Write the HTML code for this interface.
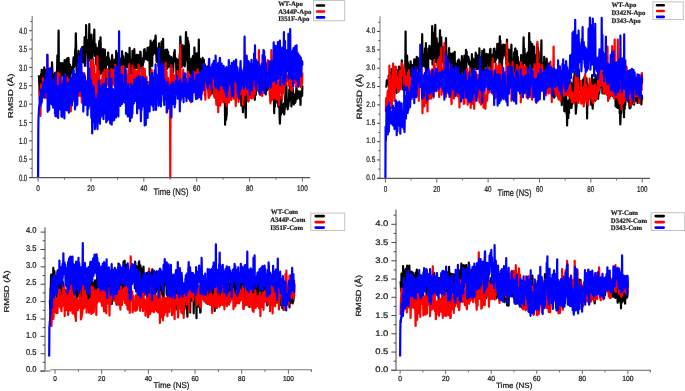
<!DOCTYPE html><html><head><meta charset="utf-8"><style>html,body{margin:0;padding:0;background:#fff;width:685px;height:391px;overflow:hidden}svg{display:block;text-rendering:geometricPrecision}</style></head><body>
<svg width="685" height="391" viewBox="0 0 685 391">
<rect width="685" height="391" fill="#fff"/>
<polyline fill="none" stroke="#000" stroke-width="2.2" stroke-linejoin="round" points="38.9,75.2 39.2,82.0 39.5,88.5 39.8,99.9 40.1,90.7 40.5,76.4 40.8,82.7 41.1,74.1 41.4,85.0 41.7,69.8 42.0,80.6 42.3,79.1 42.6,80.9 43.0,92.6 43.3,74.0 43.6,69.9 43.9,82.9 44.2,67.4 44.5,72.5 44.8,69.2 45.2,79.2 45.5,81.0 45.8,85.0 46.1,71.4 46.4,87.3 46.7,93.4 47.0,75.6 47.3,89.1 47.7,87.4 48.0,75.4 48.3,84.8 48.6,82.3 48.9,78.3 49.2,71.9 49.5,71.1 49.8,77.9 50.2,71.2 50.5,73.8 50.8,68.6 51.1,81.2 51.4,68.0 51.7,84.9 52.0,62.3 52.3,68.3 52.7,85.5 53.0,75.9 53.3,90.0 53.6,74.8 53.9,90.3 54.2,80.0 54.5,85.8 54.9,73.2 55.2,75.2 55.5,74.3 55.8,74.8 56.1,83.0 56.4,89.0 56.7,89.5 57.0,72.9 57.4,55.4 57.7,71.4 58.0,63.4 58.3,57.6 58.6,30.7 58.9,75.5 59.2,82.9 59.5,72.4 59.9,67.8 60.2,78.0 60.5,84.3 60.8,63.2 61.1,69.2 61.4,78.4 61.7,70.7 62.1,63.2 62.4,66.4 62.7,71.7 63.0,75.2 63.3,63.7 63.6,67.1 63.9,67.3 64.2,71.5 64.6,60.1 64.9,69.0 65.2,70.3 65.5,79.2 65.8,68.6 66.1,65.0 66.4,73.5 66.7,59.3 67.1,58.7 67.4,64.7 67.7,66.1 68.0,87.0 68.3,57.8 68.6,59.1 68.9,74.5 69.2,69.3 69.6,70.1 69.9,64.5 70.2,82.4 70.5,69.3 70.8,66.7 71.1,73.2 71.4,71.8 71.8,67.0 72.1,67.2 72.4,69.0 72.7,73.0 73.0,73.0 73.3,61.1 73.6,57.3 73.9,67.2 74.3,64.9 74.6,63.1 74.9,64.3 75.2,49.4 75.5,57.8 75.8,33.3 76.1,45.5 76.4,66.1 76.8,73.5 77.1,61.5 77.4,55.7 77.7,62.5 78.0,63.9 78.3,71.6 78.6,50.9 79.0,54.1 79.3,65.4 79.6,54.5 79.9,55.4 80.2,64.3 80.5,56.5 80.8,61.1 81.1,50.3 81.5,55.3 81.8,51.3 82.1,47.0 82.4,55.8 82.7,62.1 83.0,59.0 83.3,46.8 83.6,62.4 84.0,58.9 84.3,57.7 84.6,37.4 84.9,66.0 85.2,40.6 85.5,40.9 85.8,52.2 86.1,25.2 86.5,47.9 86.8,46.1 87.1,50.7 87.4,53.5 87.7,66.1 88.0,51.9 88.3,39.7 88.7,39.6 89.0,42.9 89.3,24.1 89.6,60.3 89.9,39.5 90.2,40.2 90.5,52.2 90.8,53.3 91.2,68.7 91.5,34.7 91.8,50.1 92.1,57.3 92.4,57.9 92.7,47.3 93.0,51.0 93.3,45.0 93.7,41.5 94.0,38.2 94.3,29.6 94.6,51.3 94.9,56.0 95.2,51.5 95.5,44.2 95.9,50.7 96.2,64.2 96.5,47.6 96.8,48.1 97.1,65.5 97.4,48.8 97.7,65.7 98.0,55.8 98.4,52.1 98.7,68.9 99.0,46.3 99.3,41.2 99.6,62.4 99.9,74.6 100.2,48.5 100.5,37.3 100.9,51.9 101.2,54.0 101.5,62.2 101.8,73.5 102.1,60.2 102.4,68.7 102.7,54.2 103.0,49.0 103.4,69.7 103.7,55.5 104.0,73.2 104.3,55.7 104.6,59.6 104.9,49.6 105.2,78.4 105.6,71.0 105.9,66.7 106.2,59.2 106.5,57.4 106.8,60.1 107.1,59.9 107.4,64.7 107.7,60.7 108.1,52.5 108.4,62.5 108.7,63.2 109.0,58.2 109.3,75.4 109.6,60.4 109.9,71.6 110.2,76.6 110.6,75.5 110.9,64.7 111.2,74.7 111.5,61.6 111.8,63.2 112.1,55.2 112.4,64.2 112.7,62.2 113.1,67.0 113.4,61.5 113.7,75.3 114.0,68.9 114.3,70.3 114.6,59.7 114.9,73.5 115.3,63.0 115.6,73.4 115.9,75.5 116.2,50.9 116.5,75.0 116.8,52.8 117.1,64.2 117.4,65.1 117.8,63.4 118.1,63.2 118.4,56.2 118.7,56.9 119.0,59.1 119.3,62.4 119.6,61.3 119.9,60.2 120.3,59.1 120.6,65.9 120.9,74.6 121.2,58.2 121.5,61.0 121.8,66.4 122.1,51.4 122.5,60.2 122.8,66.5 123.1,56.0 123.4,59.4 123.7,60.2 124.0,68.4 124.3,68.7 124.6,65.2 125.0,67.8 125.3,59.9 125.6,60.4 125.9,52.8 126.2,66.1 126.5,53.3 126.8,61.2 127.1,67.4 127.5,54.4 127.8,60.7 128.1,61.0 128.4,55.2 128.7,57.1 129.0,64.3 129.3,63.5 129.6,47.8 130.0,64.0 130.3,67.9 130.6,73.6 130.9,67.3 131.2,64.1 131.5,59.6 131.8,66.2 132.2,73.7 132.5,50.8 132.8,73.8 133.1,62.0 133.4,67.8 133.7,66.9 134.0,71.0 134.3,49.2 134.7,58.7 135.0,63.6 135.3,63.0 135.6,68.1 135.9,60.9 136.2,68.2 136.5,56.0 136.8,54.9 137.2,59.7 137.5,65.0 137.8,65.8 138.1,61.9 138.4,55.1 138.7,76.7 139.0,61.7 139.4,62.3 139.7,59.1 140.0,65.7 140.3,51.5 140.6,52.2 140.9,61.6 141.2,63.3 141.5,71.7 141.9,73.8 142.2,69.5 142.5,65.8 142.8,65.5 143.1,57.9 143.4,58.2 143.7,62.4 144.0,50.4 144.4,49.3 144.7,49.2 145.0,55.5 145.3,57.9 145.6,52.4 145.9,59.3 146.2,55.6 146.5,57.1 146.9,53.7 147.2,58.4 147.5,47.8 147.8,60.1 148.1,56.1 148.4,59.4 148.7,57.5 149.1,50.1 149.4,47.2 149.7,74.7 150.0,75.8 150.3,52.1 150.6,40.7 150.9,52.2 151.2,61.0 151.6,56.3 151.9,54.5 152.2,66.1 152.5,42.9 152.8,55.2 153.1,50.6 153.4,47.3 153.7,41.3 154.1,40.5 154.4,53.3 154.7,47.9 155.0,52.5 155.3,40.1 155.6,35.5 155.9,45.1 156.3,54.6 156.6,61.8 156.9,55.4 157.2,58.6 157.5,51.7 157.8,49.6 158.1,48.2 158.4,66.0 158.8,47.7 159.1,43.3 159.4,64.3 159.7,56.8 160.0,55.1 160.3,55.1 160.6,49.2 160.9,66.1 161.3,51.2 161.6,41.6 161.9,57.1 162.2,65.0 162.5,63.7 162.8,57.1 163.1,38.8 163.4,70.5 163.8,56.9 164.1,58.7 164.4,50.8 164.7,54.0 165.0,73.9 165.3,50.6 165.6,49.8 166.0,52.0 166.3,56.4 166.6,69.3 166.9,66.9 167.2,49.5 167.5,60.2 167.8,62.9 168.1,51.8 168.5,67.2 168.8,60.5 169.1,63.1 169.4,55.8 169.7,57.6 170.0,66.1 170.3,61.2 170.6,58.1 171.0,67.6 171.3,57.1 171.6,63.4 171.9,68.3 172.2,70.4 172.5,72.3 172.8,65.7 173.2,72.6 173.5,58.1 173.8,59.2 174.1,52.5 174.4,54.4 174.7,50.2 175.0,61.0 175.3,61.1 175.7,62.0 176.0,58.4 176.3,69.8 176.6,78.0 176.9,74.1 177.2,65.8 177.5,77.8 177.8,59.6 178.2,63.3 178.5,59.9 178.8,76.8 179.1,66.5 179.4,63.6 179.7,54.0 180.0,58.4 180.3,36.6 180.7,44.2 181.0,54.7 181.3,54.1 181.6,66.9 181.9,65.6 182.2,59.1 182.5,45.1 182.9,62.0 183.2,56.8 183.5,60.7 183.8,65.4 184.1,56.9 184.4,46.2 184.7,66.5 185.0,63.7 185.4,60.5 185.7,45.6 186.0,32.2 186.3,52.2 186.6,54.7 186.9,55.0 187.2,58.9 187.5,37.8 187.9,75.4 188.2,41.0 188.5,61.2 188.8,44.1 189.1,59.0 189.4,61.6 189.7,73.3 190.0,68.7 190.4,68.3 190.7,75.3 191.0,62.3 191.3,58.8 191.6,60.9 191.9,71.5 192.2,73.3 192.6,61.2 192.9,56.2 193.2,81.7 193.5,70.7 193.8,79.5 194.1,72.1 194.4,47.5 194.7,53.6 195.1,82.1 195.4,67.8 195.7,62.3 196.0,74.5 196.3,64.1 196.6,76.2 196.9,53.3 197.2,72.9 197.6,72.5 197.9,57.4 198.2,66.4 198.5,62.6 198.8,39.5 199.1,66.5 199.4,71.0 199.8,71.3 200.1,58.9 200.4,77.7 200.7,60.1 201.0,62.5 201.3,75.8 201.6,82.4 201.9,68.2 202.3,61.3 202.6,57.8 202.9,63.6 203.2,61.9 203.5,75.4 203.8,59.9 204.1,66.4 204.4,89.0 204.8,64.4 205.1,86.2 205.4,72.4 205.7,75.8 206.0,86.9 206.3,84.6 206.6,75.0 206.9,68.0 207.3,66.3 207.6,71.0 207.9,84.3 208.2,77.2 208.5,91.0 208.8,92.2 209.1,81.0 209.5,77.8 209.8,79.1 210.1,80.0 210.4,80.6 210.7,68.6 211.0,78.3 211.3,70.9 211.6,76.0 212.0,93.6 212.3,66.8 212.6,76.4 212.9,70.0 213.2,76.0 213.5,78.5 213.8,62.1 214.1,71.8 214.5,96.5 214.8,82.6 215.1,82.8 215.4,77.0 215.7,90.9 216.0,94.7 216.3,84.3 216.7,101.2 217.0,89.4 217.3,78.4 217.6,92.0 217.9,94.2 218.2,85.9 218.5,104.6 218.8,94.6 219.2,103.4 219.5,95.3 219.8,100.6 220.1,75.9 220.4,74.9 220.7,93.6 221.0,90.4 221.3,74.1 221.7,97.5 222.0,97.2 222.3,97.4 222.6,93.5 222.9,99.2 223.2,101.8 223.5,93.7 223.8,88.7 224.2,97.3 224.5,101.6 224.8,90.3 225.1,124.7 225.4,87.7 225.7,111.5 226.0,120.0 226.4,116.2 226.7,114.9 227.0,83.6 227.3,94.1 227.6,94.7 227.9,93.8 228.2,90.4 228.5,93.5 228.9,73.8 229.2,75.6 229.5,89.3 229.8,85.9 230.1,90.5 230.4,86.5 230.7,81.1 231.0,81.5 231.4,83.2 231.7,90.3 232.0,91.9 232.3,86.4 232.6,95.3 232.9,76.7 233.2,74.9 233.6,83.5 233.9,88.1 234.2,94.6 234.5,74.2 234.8,93.6 235.1,89.3 235.4,87.8 235.7,89.7 236.1,84.3 236.4,90.1 236.7,75.1 237.0,71.8 237.3,92.6 237.6,91.4 237.9,90.4 238.2,88.1 238.6,88.5 238.9,86.0 239.2,97.3 239.5,83.9 239.8,88.5 240.1,99.3 240.4,94.0 240.7,83.0 241.1,98.4 241.4,105.7 241.7,98.8 242.0,85.3 242.3,73.6 242.6,104.5 242.9,112.2 243.3,98.7 243.6,97.7 243.9,102.3 244.2,99.4 244.5,83.3 244.8,91.4 245.1,96.6 245.4,109.0 245.8,117.7 246.1,78.8 246.4,91.4 246.7,100.7 247.0,95.7 247.3,90.1 247.6,90.6 247.9,86.0 248.3,101.1 248.6,94.6 248.9,78.1 249.2,97.0 249.5,93.9 249.8,94.3 250.1,80.7 250.4,92.7 250.8,86.8 251.1,94.5 251.4,83.7 251.7,82.3 252.0,79.4 252.3,82.9 252.6,96.7 253.0,82.4 253.3,86.9 253.6,91.0 253.9,93.4 254.2,75.4 254.5,80.5 254.8,99.8 255.1,71.4 255.5,81.7 255.8,95.0 256.1,90.6 256.4,86.6 256.7,90.8 257.0,68.7 257.3,70.0 257.6,76.7 258.0,72.4 258.3,76.2 258.6,70.6 258.9,65.1 259.2,92.3 259.5,79.4 259.8,86.5 260.2,91.4 260.5,78.7 260.8,79.1 261.1,75.7 261.4,82.2 261.7,80.4 262.0,73.9 262.3,71.3 262.7,89.7 263.0,77.9 263.3,66.4 263.6,81.6 263.9,78.1 264.2,72.1 264.5,85.7 264.8,77.3 265.2,63.8 265.5,75.2 265.8,94.4 266.1,85.5 266.4,80.5 266.7,79.9 267.0,90.3 267.3,68.4 267.7,83.0 268.0,88.5 268.3,71.7 268.6,85.6 268.9,86.2 269.2,83.9 269.5,81.1 269.9,95.7 270.2,81.4 270.5,74.2 270.8,98.6 271.1,88.7 271.4,100.3 271.7,92.0 272.0,92.8 272.4,92.8 272.7,90.2 273.0,96.7 273.3,94.8 273.6,86.0 273.9,98.7 274.2,113.2 274.5,93.2 274.9,106.6 275.2,99.1 275.5,103.3 275.8,90.5 276.1,79.4 276.4,96.2 276.7,101.3 277.1,94.2 277.4,90.8 277.7,98.0 278.0,100.5 278.3,106.8 278.6,106.8 278.9,92.5 279.2,100.4 279.6,115.7 279.9,123.6 280.2,114.4 280.5,112.2 280.8,114.8 281.1,102.0 281.4,96.8 281.7,112.9 282.1,107.6 282.4,107.5 282.7,112.1 283.0,110.8 283.3,105.0 283.6,107.8 283.9,103.7 284.2,114.4 284.6,109.2 284.9,107.5 285.2,98.5 285.5,91.2 285.8,87.9 286.1,106.4 286.4,85.5 286.8,102.5 287.1,102.2 287.4,100.0 287.7,109.3 288.0,104.5 288.3,106.3 288.6,100.6 288.9,101.8 289.3,89.6 289.6,95.7 289.9,85.7 290.2,98.9 290.5,98.9 290.8,89.7 291.1,96.3 291.4,106.5 291.8,103.0 292.1,96.8 292.4,98.3 292.7,88.5 293.0,90.3 293.3,96.1 293.6,95.6 294.0,104.4 294.3,94.6 294.6,94.6 294.9,94.6 295.2,102.8 295.5,101.8 295.8,96.3 296.1,93.7 296.5,85.6 296.8,96.8 297.1,94.0 297.4,98.7 297.7,97.9 298.0,91.3 298.3,93.0 298.6,91.3 299.0,97.4 299.3,93.0 299.6,91.8 299.9,99.1 300.2,92.9 300.5,104.9 300.8,91.6 301.1,92.4 301.5,91.4 301.8,93.3 302.1,95.8 302.4,85.5"/>
<polyline fill="none" stroke="#f00" stroke-width="2.2" stroke-linejoin="round" points="38.9,91.4 39.2,91.8 39.5,92.4 39.8,95.2 40.1,106.3 40.5,115.9 40.8,94.6 41.1,84.5 41.4,91.2 41.7,87.0 42.0,86.9 42.3,94.1 42.6,85.2 43.0,78.4 43.3,86.0 43.6,81.2 43.9,88.4 44.2,83.6 44.5,85.7 44.8,81.6 45.2,84.6 45.5,98.1 45.8,83.3 46.1,78.4 46.4,97.7 46.7,73.9 47.0,82.0 47.3,54.9 47.7,90.3 48.0,78.4 48.3,105.3 48.6,77.9 48.9,100.6 49.2,89.7 49.5,84.2 49.8,96.1 50.2,84.4 50.5,92.2 50.8,83.6 51.1,87.1 51.4,83.6 51.7,98.6 52.0,92.6 52.3,100.8 52.7,81.3 53.0,91.2 53.3,92.3 53.6,86.1 53.9,90.2 54.2,85.1 54.5,88.1 54.9,81.1 55.2,94.7 55.5,81.7 55.8,83.6 56.1,88.4 56.4,74.3 56.7,77.8 57.0,78.4 57.4,84.3 57.7,80.3 58.0,72.9 58.3,84.1 58.6,97.0 58.9,81.2 59.2,91.2 59.5,73.8 59.9,83.0 60.2,78.1 60.5,85.4 60.8,77.2 61.1,102.1 61.4,86.9 61.7,97.3 62.1,80.2 62.4,81.5 62.7,84.5 63.0,83.0 63.3,96.9 63.6,85.0 63.9,101.1 64.2,102.4 64.6,90.4 64.9,86.7 65.2,91.8 65.5,92.2 65.8,82.7 66.1,103.0 66.4,94.6 66.7,91.7 67.1,77.4 67.4,83.2 67.7,78.7 68.0,103.0 68.3,87.1 68.6,88.4 68.9,101.0 69.2,89.7 69.6,80.2 69.9,109.2 70.2,107.2 70.5,101.4 70.8,111.5 71.1,101.2 71.4,81.1 71.8,93.2 72.1,84.0 72.4,100.8 72.7,90.7 73.0,100.8 73.3,86.2 73.6,76.8 73.9,101.2 74.3,88.8 74.6,80.0 74.9,91.2 75.2,82.8 75.5,91.4 75.8,99.2 76.1,91.3 76.4,80.2 76.8,75.5 77.1,86.5 77.4,90.6 77.7,74.9 78.0,94.3 78.3,79.2 78.6,95.7 79.0,72.6 79.3,82.5 79.6,87.9 79.9,88.8 80.2,95.8 80.5,95.0 80.8,74.3 81.1,88.1 81.5,91.8 81.8,102.7 82.1,75.9 82.4,92.1 82.7,95.6 83.0,94.7 83.3,83.0 83.6,86.6 84.0,84.8 84.3,73.2 84.6,90.6 84.9,98.5 85.2,102.3 85.5,88.7 85.8,93.7 86.1,90.4 86.5,90.0 86.8,95.0 87.1,95.9 87.4,87.7 87.7,82.2 88.0,77.9 88.3,96.6 88.7,104.6 89.0,83.0 89.3,98.4 89.6,86.4 89.9,88.5 90.2,87.7 90.5,70.6 90.8,60.1 91.2,84.1 91.5,88.5 91.8,87.3 92.1,88.7 92.4,85.5 92.7,95.5 93.0,81.9 93.3,59.1 93.7,82.3 94.0,81.5 94.3,65.3 94.6,95.1 94.9,85.2 95.2,94.4 95.5,85.0 95.9,101.9 96.2,73.8 96.5,73.9 96.8,103.2 97.1,79.3 97.4,56.4 97.7,73.7 98.0,76.3 98.4,92.9 98.7,82.2 99.0,71.8 99.3,82.2 99.6,88.2 99.9,88.0 100.2,80.2 100.5,82.0 100.9,80.4 101.2,92.5 101.5,100.7 101.8,89.3 102.1,93.3 102.4,76.2 102.7,81.6 103.0,72.7 103.4,75.3 103.7,84.7 104.0,86.3 104.3,77.6 104.6,69.9 104.9,88.0 105.2,95.8 105.6,78.0 105.9,82.7 106.2,83.0 106.5,83.8 106.8,84.0 107.1,74.5 107.4,69.3 107.7,76.8 108.1,73.7 108.4,85.5 108.7,74.1 109.0,71.0 109.3,86.4 109.6,89.4 109.9,72.5 110.2,75.7 110.6,85.7 110.9,93.4 111.2,92.7 111.5,69.2 111.8,83.2 112.1,73.2 112.4,72.8 112.7,83.4 113.1,75.0 113.4,84.0 113.7,69.9 114.0,75.6 114.3,85.7 114.6,83.8 114.9,75.6 115.3,64.8 115.6,96.8 115.9,90.3 116.2,75.3 116.5,87.4 116.8,86.2 117.1,94.1 117.4,87.2 117.8,78.9 118.1,89.4 118.4,79.5 118.7,79.8 119.0,82.1 119.3,67.1 119.6,75.6 119.9,79.8 120.3,83.5 120.6,84.1 120.9,80.3 121.2,80.3 121.5,78.8 121.8,66.9 122.1,81.6 122.5,73.7 122.8,69.4 123.1,86.5 123.4,66.1 123.7,78.9 124.0,80.1 124.3,90.0 124.6,72.7 125.0,84.4 125.3,89.8 125.6,91.1 125.9,94.7 126.2,85.7 126.5,76.3 126.8,75.9 127.1,75.3 127.5,80.0 127.8,80.2 128.1,87.6 128.4,70.2 128.7,81.2 129.0,74.5 129.3,64.2 129.6,78.5 130.0,82.3 130.3,86.8 130.6,82.9 130.9,76.3 131.2,77.7 131.5,79.3 131.8,101.8 132.2,87.3 132.5,65.7 132.8,88.8 133.1,90.7 133.4,71.2 133.7,70.4 134.0,82.2 134.3,69.6 134.7,80.3 135.0,73.9 135.3,85.5 135.6,74.9 135.9,71.1 136.2,75.6 136.5,76.6 136.8,81.0 137.2,71.1 137.5,91.4 137.8,79.3 138.1,90.5 138.4,70.2 138.7,64.7 139.0,88.7 139.4,75.2 139.7,88.0 140.0,78.0 140.3,82.4 140.6,95.9 140.9,92.1 141.2,76.4 141.5,73.1 141.9,77.8 142.2,68.2 142.5,75.6 142.8,67.4 143.1,80.0 143.4,69.5 143.7,96.4 144.0,80.6 144.4,80.3 144.7,68.8 145.0,75.7 145.3,93.5 145.6,91.6 145.9,85.0 146.2,86.3 146.5,76.8 146.9,88.4 147.2,98.9 147.5,81.7 147.8,92.3 148.1,87.4 148.4,82.4 148.7,83.4 149.1,90.6 149.4,87.1 149.7,95.7 150.0,84.2 150.3,97.9 150.6,84.1 150.9,83.3 151.2,76.3 151.6,69.7 151.9,75.4 152.2,83.1 152.5,93.9 152.8,90.3 153.1,86.8 153.4,90.5 153.7,96.2 154.1,87.9 154.4,89.1 154.7,84.3 155.0,88.7 155.3,70.5 155.6,74.4 155.9,85.7 156.3,77.7 156.6,81.0 156.9,75.9 157.2,97.0 157.5,100.0 157.8,81.2 158.1,98.7 158.4,89.9 158.8,89.1 159.1,70.0 159.4,87.2 159.7,80.5 160.0,91.0 160.3,80.4 160.6,89.4 160.9,82.0 161.3,84.6 161.6,86.7 161.9,85.3 162.2,89.2 162.5,77.3 162.8,78.2 163.1,80.4 163.4,71.6 163.8,76.6 164.1,94.0 164.4,67.9 164.7,72.1 165.0,72.7 165.3,74.6 165.6,62.8 166.0,75.7 166.3,86.5 166.6,71.9 166.9,82.9 167.2,94.6 167.5,91.1 167.8,87.2 168.1,78.1 168.5,87.5 168.8,81.5 169.1,85.2 169.4,83.9 169.7,91.3 170.0,98.9 170.3,177.5 170.6,68.5 171.0,86.1 171.3,65.4 171.6,80.4 171.9,68.3 172.2,72.3 172.5,72.2 172.8,79.0 173.2,96.2 173.5,85.9 173.8,82.8 174.1,89.7 174.4,75.1 174.7,79.5 175.0,79.8 175.3,82.5 175.7,80.5 176.0,82.3 176.3,90.9 176.6,87.6 176.9,85.1 177.2,94.7 177.5,71.2 177.8,75.7 178.2,73.8 178.5,86.1 178.8,88.3 179.1,93.7 179.4,80.7 179.7,78.0 180.0,86.2 180.3,44.6 180.7,76.3 181.0,91.0 181.3,88.2 181.6,98.8 181.9,82.5 182.2,89.0 182.5,85.7 182.9,91.3 183.2,69.7 183.5,78.5 183.8,84.8 184.1,89.5 184.4,88.7 184.7,74.7 185.0,90.3 185.4,90.8 185.7,90.5 186.0,86.1 186.3,96.4 186.6,96.2 186.9,97.9 187.2,93.7 187.5,91.7 187.9,71.8 188.2,84.2 188.5,73.3 188.8,92.3 189.1,93.9 189.4,87.4 189.7,89.6 190.0,88.5 190.4,75.9 190.7,88.3 191.0,102.3 191.3,94.7 191.6,77.7 191.9,81.3 192.2,88.1 192.6,88.4 192.9,93.1 193.2,90.0 193.5,90.7 193.8,79.1 194.1,84.3 194.4,72.2 194.7,80.2 195.1,90.7 195.4,82.7 195.7,96.4 196.0,78.6 196.3,96.2 196.6,72.5 196.9,90.2 197.2,83.0 197.6,69.4 197.9,97.9 198.2,81.7 198.5,79.1 198.8,90.0 199.1,81.8 199.4,88.0 199.8,93.1 200.1,74.7 200.4,96.6 200.7,78.4 201.0,96.3 201.3,72.5 201.6,93.9 201.9,83.2 202.3,71.7 202.6,75.3 202.9,90.1 203.2,89.5 203.5,75.7 203.8,85.9 204.1,78.3 204.4,78.4 204.8,96.0 205.1,72.8 205.4,99.7 205.7,83.5 206.0,76.3 206.3,73.8 206.6,85.7 206.9,85.7 207.3,86.4 207.6,81.6 207.9,76.9 208.2,86.3 208.5,95.1 208.8,97.9 209.1,97.7 209.5,83.7 209.8,84.5 210.1,74.0 210.4,95.4 210.7,83.8 211.0,83.1 211.3,87.9 211.6,78.4 212.0,81.1 212.3,78.1 212.6,84.8 212.9,81.5 213.2,86.9 213.5,81.1 213.8,85.1 214.1,73.5 214.5,97.7 214.8,91.0 215.1,96.1 215.4,74.1 215.7,73.8 216.0,85.1 216.3,104.8 216.7,80.6 217.0,86.9 217.3,102.8 217.6,105.0 217.9,84.0 218.2,112.2 218.5,84.0 218.8,84.2 219.2,92.8 219.5,96.7 219.8,86.6 220.1,105.6 220.4,95.0 220.7,103.3 221.0,92.1 221.3,83.8 221.7,89.9 222.0,74.4 222.3,98.5 222.6,90.1 222.9,97.2 223.2,102.2 223.5,102.3 223.8,98.3 224.2,92.4 224.5,100.5 224.8,73.9 225.1,101.7 225.4,98.9 225.7,94.9 226.0,80.0 226.4,96.6 226.7,106.1 227.0,82.4 227.3,78.4 227.6,98.3 227.9,102.5 228.2,89.0 228.5,91.7 228.9,102.3 229.2,100.2 229.5,94.0 229.8,80.3 230.1,81.3 230.4,99.2 230.7,84.8 231.0,91.7 231.4,100.0 231.7,92.6 232.0,95.3 232.3,84.3 232.6,89.3 232.9,84.1 233.2,80.7 233.6,89.9 233.9,98.6 234.2,74.2 234.5,83.0 234.8,75.6 235.1,80.3 235.4,90.1 235.7,106.1 236.1,97.8 236.4,96.1 236.7,85.0 237.0,84.5 237.3,93.4 237.6,95.6 237.9,76.8 238.2,87.2 238.6,101.9 238.9,86.6 239.2,97.8 239.5,95.6 239.8,70.9 240.1,86.3 240.4,90.5 240.7,84.9 241.1,70.1 241.4,76.1 241.7,93.7 242.0,77.2 242.3,74.5 242.6,81.3 242.9,105.1 243.3,103.2 243.6,87.3 243.9,67.7 244.2,68.0 244.5,93.2 244.8,78.6 245.1,95.3 245.4,74.9 245.8,65.6 246.1,74.8 246.4,56.8 246.7,78.2 247.0,89.7 247.3,93.7 247.6,89.9 247.9,86.2 248.3,101.5 248.6,92.9 248.9,78.7 249.2,77.8 249.5,74.8 249.8,98.0 250.1,92.7 250.4,77.5 250.8,95.5 251.1,87.1 251.4,86.3 251.7,98.4 252.0,78.0 252.3,94.9 252.6,90.9 253.0,63.6 253.3,85.3 253.6,97.8 253.9,84.4 254.2,76.8 254.5,76.3 254.8,93.9 255.1,81.8 255.5,75.1 255.8,64.8 256.1,73.3 256.4,67.7 256.7,86.2 257.0,64.5 257.3,79.9 257.6,65.1 258.0,84.8 258.3,89.9 258.6,71.4 258.9,50.2 259.2,64.4 259.5,76.4 259.8,84.2 260.2,66.4 260.5,85.7 260.8,95.1 261.1,66.5 261.4,83.4 261.7,73.6 262.0,82.9 262.3,96.0 262.7,62.6 263.0,61.8 263.3,61.6 263.6,85.6 263.9,78.5 264.2,77.8 264.5,72.0 264.8,68.8 265.2,64.5 265.5,62.6 265.8,74.8 266.1,64.9 266.4,76.4 266.7,67.0 267.0,85.4 267.3,79.1 267.7,60.0 268.0,81.8 268.3,60.8 268.6,84.7 268.9,74.7 269.2,74.3 269.5,71.4 269.9,61.6 270.2,100.9 270.5,103.4 270.8,79.0 271.1,72.6 271.4,50.2 271.7,78.9 272.0,99.2 272.4,91.9 272.7,80.0 273.0,98.1 273.3,86.3 273.6,86.0 273.9,89.1 274.2,98.6 274.5,74.1 274.9,80.2 275.2,72.1 275.5,83.2 275.8,88.8 276.1,85.3 276.4,99.3 276.7,99.6 277.1,84.0 277.4,66.0 277.7,89.9 278.0,97.4 278.3,98.1 278.6,82.3 278.9,104.9 279.2,90.6 279.6,88.0 279.9,84.7 280.2,73.1 280.5,79.9 280.8,92.5 281.1,91.7 281.4,81.9 281.7,97.1 282.1,99.6 282.4,87.0 282.7,77.6 283.0,73.4 283.3,86.4 283.6,93.1 283.9,86.4 284.2,87.2 284.6,80.4 284.9,78.3 285.2,82.2 285.5,71.7 285.8,84.6 286.1,80.8 286.4,81.2 286.8,78.3 287.1,80.4 287.4,76.0 287.7,80.6 288.0,75.2 288.3,76.1 288.6,85.6 288.9,84.0 289.3,78.3 289.6,84.5 289.9,69.5 290.2,68.3 290.5,72.5 290.8,89.3 291.1,70.2 291.4,82.3 291.8,84.8 292.1,90.7 292.4,85.9 292.7,75.4 293.0,69.9 293.3,77.4 293.6,79.6 294.0,64.9 294.3,73.2 294.6,77.3 294.9,83.0 295.2,70.6 295.5,77.0 295.8,76.2 296.1,75.8 296.5,86.6 296.8,74.1 297.1,77.6 297.4,74.6 297.7,75.4 298.0,83.5 298.3,85.2 298.6,76.9 299.0,81.0 299.3,80.3 299.6,79.6 299.9,83.2 300.2,80.1 300.5,74.8 300.8,75.3 301.1,87.5 301.5,81.6 301.8,83.9 302.1,84.0 302.4,72.4"/>
<polyline fill="none" stroke="#00f" stroke-width="2.2" stroke-linejoin="round" points="38.1,177.5 38.3,130.6 38.5,117.7 38.8,113.7 39.0,108.4 39.2,106.6 39.4,105.1 39.7,103.1 39.9,97.8 40.1,96.5 40.3,99.2 40.5,105.5 40.8,97.1 41.0,89.5 41.2,103.9 41.4,99.1 41.7,102.4 41.9,98.6 42.1,98.8 42.3,94.9 42.5,89.1 42.8,97.2 43.0,86.9 43.2,96.0 43.4,82.5 43.7,84.8 43.9,91.1 44.1,88.6 44.3,97.4 44.6,81.4 44.8,85.1 45.0,85.5 45.2,79.2 45.4,92.0 45.7,88.0 45.9,88.9 46.1,86.1 46.3,74.6 46.6,79.8 46.8,79.9 47.0,83.3 47.2,86.2 47.4,54.9 47.7,111.8 47.9,80.8 48.1,75.8 48.3,68.6 48.6,81.9 48.8,74.2 49.0,79.4 49.2,110.1 49.4,80.7 49.7,84.8 49.9,85.8 50.1,85.0 50.3,68.2 50.6,71.7 50.8,82.8 51.0,103.7 51.2,79.4 51.4,89.3 51.7,80.8 51.9,86.2 52.1,104.7 52.3,83.0 52.6,89.8 52.8,95.2 53.0,100.2 53.2,107.6 53.5,91.3 53.7,104.3 53.9,86.0 54.1,103.0 54.3,79.1 54.6,107.0 54.8,100.0 55.0,113.4 55.2,105.7 55.5,116.2 55.7,72.5 55.9,93.4 56.1,98.5 56.3,116.1 56.6,104.2 56.8,86.4 57.0,103.4 57.2,98.4 57.5,112.8 57.7,104.7 57.9,86.0 58.1,118.0 58.3,102.1 58.6,106.9 58.8,104.8 59.0,106.8 59.2,104.9 59.5,109.5 59.7,103.6 59.9,82.7 60.1,77.2 60.3,90.1 60.6,87.3 60.8,93.6 61.0,100.1 61.2,95.6 61.5,116.6 61.7,104.3 61.9,85.8 62.1,116.9 62.3,95.9 62.6,103.0 62.8,83.9 63.0,106.4 63.2,89.2 63.5,92.8 63.7,76.2 63.9,92.7 64.1,88.9 64.4,118.5 64.6,82.8 64.8,89.3 65.0,110.0 65.2,82.4 65.5,74.7 65.7,97.5 65.9,86.1 66.1,87.5 66.4,88.2 66.6,96.6 66.8,110.3 67.0,97.2 67.2,83.1 67.5,97.3 67.7,102.8 67.9,83.4 68.1,106.9 68.4,84.9 68.6,82.8 68.8,112.7 69.0,109.2 69.2,87.2 69.5,100.7 69.7,102.1 69.9,81.0 70.1,87.5 70.4,85.2 70.6,77.7 70.8,104.8 71.0,79.2 71.2,87.3 71.5,87.6 71.7,79.6 71.9,105.5 72.1,83.9 72.4,85.0 72.6,98.9 72.8,74.3 73.0,71.0 73.3,75.8 73.5,88.3 73.7,70.1 73.9,98.6 74.1,89.5 74.4,94.2 74.6,84.1 74.8,74.2 75.0,109.4 75.3,104.4 75.5,81.6 75.7,87.6 75.9,74.0 76.1,91.2 76.4,81.9 76.6,105.5 76.8,87.9 77.0,91.6 77.3,104.8 77.5,91.4 77.7,75.6 77.9,75.1 78.1,62.9 78.4,74.7 78.6,67.7 78.8,56.4 79.0,75.2 79.3,65.4 79.5,91.4 79.7,70.2 79.9,69.6 80.1,64.6 80.4,71.2 80.6,83.2 80.8,70.3 81.0,64.1 81.3,48.7 81.5,82.3 81.7,92.3 81.9,76.7 82.2,96.3 82.4,72.7 82.6,84.9 82.8,88.5 83.0,86.0 83.3,111.6 83.5,102.7 83.7,94.0 83.9,102.1 84.2,74.6 84.4,103.7 84.6,80.0 84.8,101.3 85.0,76.6 85.3,104.8 85.5,103.0 85.7,94.8 85.9,81.0 86.2,92.1 86.4,100.7 86.6,84.8 86.8,94.3 87.0,100.7 87.3,98.6 87.5,115.2 87.7,94.2 87.9,103.8 88.2,59.4 88.4,108.8 88.6,96.5 88.8,100.3 89.0,77.0 89.3,68.5 89.5,85.7 89.7,105.6 89.9,98.0 90.2,78.3 90.4,78.4 90.6,86.3 90.8,102.8 91.0,80.9 91.3,117.7 91.5,87.3 91.7,112.4 91.9,90.1 92.2,133.5 92.4,85.1 92.6,116.7 92.8,90.1 93.1,105.8 93.3,116.3 93.5,121.9 93.7,108.3 93.9,87.1 94.2,110.5 94.4,94.6 94.6,116.2 94.8,129.2 95.1,126.8 95.3,100.0 95.5,120.3 95.7,106.2 95.9,114.5 96.2,113.2 96.4,114.7 96.6,98.9 96.8,120.1 97.1,112.7 97.3,120.6 97.5,129.1 97.7,105.2 97.9,94.6 98.2,107.9 98.4,114.4 98.6,117.9 98.8,80.6 99.1,97.9 99.3,96.3 99.5,121.0 99.7,97.0 99.9,123.8 100.2,98.6 100.4,110.5 100.6,86.3 100.8,117.0 101.1,100.3 101.3,100.9 101.5,109.4 101.7,112.3 102.0,106.2 102.2,112.4 102.4,111.5 102.6,101.8 102.8,84.2 103.1,116.1 103.3,115.9 103.5,119.2 103.7,93.5 104.0,86.8 104.2,106.8 104.4,84.3 104.6,102.8 104.8,111.0 105.1,105.8 105.3,85.8 105.5,90.8 105.7,114.0 106.0,78.7 106.2,122.2 106.4,103.9 106.6,114.3 106.8,114.6 107.1,104.6 107.3,90.7 107.5,120.6 107.7,89.1 108.0,108.7 108.2,113.9 108.4,101.8 108.6,119.1 108.8,101.2 109.1,116.1 109.3,102.6 109.5,72.2 109.7,119.3 110.0,103.9 110.2,123.5 110.4,113.3 110.6,110.8 110.8,121.1 111.1,97.8 111.3,104.5 111.5,78.8 111.7,124.6 112.0,113.6 112.2,115.9 112.4,102.9 112.6,104.8 112.9,89.2 113.1,105.1 113.3,103.6 113.5,120.5 113.7,105.4 114.0,110.1 114.2,119.9 114.4,103.0 114.6,94.1 114.9,90.3 115.1,96.2 115.3,89.3 115.5,66.8 115.7,104.8 116.0,117.4 116.2,108.6 116.4,87.8 116.6,72.5 116.9,76.7 117.1,98.5 117.3,67.8 117.5,106.7 117.7,80.8 118.0,115.7 118.2,100.3 118.4,116.5 118.6,76.3 118.9,64.1 119.1,31.4 119.3,84.9 119.5,65.9 119.7,79.3 120.0,98.2 120.2,80.5 120.4,106.0 120.6,80.4 120.9,98.5 121.1,74.7 121.3,102.2 121.5,93.9 121.8,94.7 122.0,104.0 122.2,75.1 122.4,93.6 122.6,94.7 122.9,93.5 123.1,84.4 123.3,87.0 123.5,98.2 123.8,92.0 124.0,102.2 124.2,95.1 124.4,93.2 124.6,82.9 124.9,92.8 125.1,68.2 125.3,93.9 125.5,103.6 125.8,69.9 126.0,113.8 126.2,99.2 126.4,105.0 126.6,106.3 126.9,97.8 127.1,98.7 127.3,104.0 127.5,88.4 127.8,116.4 128.0,97.5 128.2,85.8 128.4,84.0 128.6,107.1 128.9,88.3 129.1,97.4 129.3,114.5 129.5,108.8 129.8,100.2 130.0,121.2 130.2,110.7 130.4,97.1 130.6,107.7 130.9,99.2 131.1,92.4 131.3,84.1 131.5,108.7 131.8,117.6 132.0,104.7 132.2,105.3 132.4,113.6 132.7,97.5 132.9,105.0 133.1,86.2 133.3,100.6 133.5,89.6 133.8,103.3 134.0,101.6 134.2,98.1 134.4,79.7 134.7,82.7 134.9,83.7 135.1,90.6 135.3,84.2 135.5,101.0 135.8,90.9 136.0,88.8 136.2,101.0 136.4,80.7 136.7,78.2 136.9,79.8 137.1,113.3 137.3,91.0 137.5,79.7 137.8,94.1 138.0,86.3 138.2,80.8 138.4,76.2 138.7,91.0 138.9,94.5 139.1,106.9 139.3,108.4 139.5,90.4 139.8,83.5 140.0,91.1 140.2,98.3 140.4,77.2 140.7,104.9 140.9,121.3 141.1,111.6 141.3,100.8 141.6,110.1 141.8,98.2 142.0,102.1 142.2,89.6 142.4,89.5 142.7,106.3 142.9,76.9 143.1,91.6 143.3,96.4 143.6,79.2 143.8,101.9 144.0,79.8 144.2,94.9 144.4,98.7 144.7,125.5 144.9,99.3 145.1,92.6 145.3,96.0 145.6,78.5 145.8,124.8 146.0,81.8 146.2,101.2 146.4,96.1 146.7,81.9 146.9,89.1 147.1,101.8 147.3,102.2 147.6,118.0 147.8,102.4 148.0,86.3 148.2,109.3 148.4,95.8 148.7,94.8 148.9,86.1 149.1,103.2 149.3,95.5 149.6,111.4 149.8,98.8 150.0,90.6 150.2,77.5 150.4,94.5 150.7,75.0 150.9,86.7 151.1,78.4 151.3,104.1 151.6,86.3 151.8,76.4 152.0,91.6 152.2,72.8 152.5,106.0 152.7,94.7 152.9,77.4 153.1,79.4 153.3,97.0 153.6,110.2 153.8,86.4 154.0,103.7 154.2,104.3 154.5,82.3 154.7,70.4 154.9,88.6 155.1,87.1 155.3,97.0 155.6,64.4 155.8,91.6 156.0,110.0 156.2,97.9 156.5,96.3 156.7,84.6 156.9,75.4 157.1,87.9 157.3,87.6 157.6,93.3 157.8,83.5 158.0,92.2 158.2,78.1 158.5,105.8 158.7,65.5 158.9,48.7 159.1,71.7 159.3,104.4 159.6,77.2 159.8,89.7 160.0,80.9 160.2,89.5 160.5,88.4 160.7,100.8 160.9,106.4 161.1,70.8 161.4,65.3 161.6,94.5 161.8,89.0 162.0,62.9 162.2,90.7 162.5,75.0 162.7,75.6 162.9,83.2 163.1,65.7 163.4,72.8 163.6,98.5 163.8,101.6 164.0,79.7 164.2,105.0 164.5,79.3 164.7,87.7 164.9,96.7 165.1,83.1 165.4,99.2 165.6,97.1 165.8,94.3 166.0,93.1 166.2,92.5 166.5,83.0 166.7,112.6 166.9,109.0 167.1,112.0 167.4,82.5 167.6,81.9 167.8,96.2 168.0,87.4 168.2,94.3 168.5,95.2 168.7,105.9 168.9,108.3 169.1,92.9 169.4,95.0 169.6,87.3 169.8,99.5 170.0,86.4 170.2,87.5 170.5,86.5 170.7,88.2 170.9,84.7 171.1,104.4 171.4,117.4 171.6,105.9 171.8,92.8 172.0,91.9 172.3,93.2 172.5,103.7 172.7,82.4 172.9,86.6 173.1,87.9 173.4,103.9 173.6,94.7 173.8,85.5 174.0,98.0 174.3,89.2 174.5,89.2 174.7,107.3 174.9,95.9 175.1,104.2 175.4,94.5 175.6,81.1 175.8,90.0 176.0,85.5 176.3,93.9 176.5,81.5 176.7,93.5 176.9,75.5 177.1,80.9 177.4,88.9 177.6,81.5 177.8,98.7 178.0,86.7 178.3,95.6 178.5,92.8 178.7,87.5 178.9,83.5 179.1,86.7 179.4,82.1 179.6,83.6 179.8,111.3 180.0,82.8 180.3,79.6 180.5,100.9 180.7,86.8 180.9,83.9 181.2,88.4 181.4,96.5 181.6,96.8 181.8,87.2 182.0,88.2 182.3,89.5 182.5,94.1 182.7,89.5 182.9,82.7 183.2,90.2 183.4,92.3 183.6,102.3 183.8,73.2 184.0,91.2 184.3,91.9 184.5,82.1 184.7,94.5 184.9,85.6 185.2,83.6 185.4,73.6 185.6,95.0 185.8,96.5 186.0,78.6 186.3,92.0 186.5,101.2 186.7,89.2 186.9,89.9 187.2,86.2 187.4,93.2 187.6,88.9 187.8,93.3 188.0,83.5 188.3,87.7 188.5,95.8 188.7,89.6 188.9,93.5 189.2,99.1 189.4,78.4 189.6,84.3 189.8,81.8 190.1,100.8 190.3,91.3 190.5,99.4 190.7,98.8 190.9,85.3 191.2,88.6 191.4,80.9 191.6,75.5 191.8,84.9 192.1,99.0 192.3,101.5 192.5,76.9 192.7,85.0 192.9,71.6 193.2,87.4 193.4,79.3 193.6,92.0 193.8,87.7 194.1,81.6 194.3,87.2 194.5,84.4 194.7,82.5 194.9,84.8 195.2,92.0 195.4,91.4 195.6,91.6 195.8,86.9 196.1,99.1 196.3,74.6 196.5,80.5 196.7,77.3 196.9,85.9 197.2,98.6 197.4,76.9 197.6,88.7 197.8,88.1 198.1,97.2 198.3,74.4 198.5,95.4 198.7,96.6 198.9,85.7 199.2,97.1 199.4,91.6 199.6,87.1 199.8,93.8 200.1,88.0 200.3,75.6 200.5,74.4 200.7,72.6 201.0,83.6 201.2,99.6 201.4,71.1 201.6,93.8 201.8,76.2 202.1,84.6 202.3,81.7 202.5,83.0 202.7,72.7 203.0,81.8 203.2,88.8 203.4,64.4 203.6,85.2 203.8,90.2 204.1,63.4 204.3,81.3 204.5,73.6 204.7,66.6 205.0,81.2 205.2,78.8 205.4,79.9 205.6,79.4 205.8,72.8 206.1,75.8 206.3,79.0 206.5,67.9 206.7,70.6 207.0,84.3 207.2,72.6 207.4,69.1 207.6,84.3 207.8,88.4 208.1,68.8 208.3,76.8 208.5,84.2 208.7,73.4 209.0,59.4 209.2,58.8 209.4,74.0 209.6,69.3 209.9,67.8 210.1,82.2 210.3,78.8 210.5,69.0 210.7,70.8 211.0,67.3 211.2,69.9 211.4,89.0 211.6,73.3 211.9,69.2 212.1,67.0 212.3,64.3 212.5,70.7 212.7,75.4 213.0,68.3 213.2,72.0 213.4,72.0 213.6,70.3 213.9,60.8 214.1,69.5 214.3,78.8 214.5,73.6 214.7,65.1 215.0,62.2 215.2,84.9 215.4,86.7 215.6,55.7 215.9,67.0 216.1,65.1 216.3,88.2 216.5,77.9 216.7,65.3 217.0,85.8 217.2,77.0 217.4,73.8 217.6,81.9 217.9,86.9 218.1,63.1 218.3,65.3 218.5,81.8 218.7,90.0 219.0,85.9 219.2,68.9 219.4,74.0 219.6,62.0 219.9,57.9 220.1,63.7 220.3,63.7 220.5,78.4 220.8,84.4 221.0,74.4 221.2,73.2 221.4,77.5 221.6,63.5 221.9,85.3 222.1,70.7 222.3,84.1 222.5,81.0 222.8,67.3 223.0,85.9 223.2,86.5 223.4,73.5 223.6,65.8 223.9,88.7 224.1,68.2 224.3,80.6 224.5,84.5 224.8,87.4 225.0,82.4 225.2,92.5 225.4,87.0 225.6,69.6 225.9,78.7 226.1,70.6 226.3,67.0 226.5,97.0 226.8,92.9 227.0,85.3 227.2,67.6 227.4,71.8 227.6,81.5 227.9,90.6 228.1,72.6 228.3,78.6 228.5,76.6 228.8,60.0 229.0,61.7 229.2,78.1 229.4,67.4 229.7,73.5 229.9,71.7 230.1,67.6 230.3,85.0 230.5,66.1 230.8,68.8 231.0,67.1 231.2,71.7 231.4,71.3 231.7,96.1 231.9,62.9 232.1,82.4 232.3,84.1 232.5,87.9 232.8,69.6 233.0,96.4 233.2,91.0 233.4,88.7 233.7,68.1 233.9,61.0 234.1,80.2 234.3,81.0 234.5,73.6 234.8,79.2 235.0,70.1 235.2,74.4 235.4,72.8 235.7,63.6 235.9,76.4 236.1,59.5 236.3,81.1 236.5,77.3 236.8,79.9 237.0,79.2 237.2,69.9 237.4,67.3 237.7,93.4 237.9,85.0 238.1,81.9 238.3,74.2 238.5,73.6 238.8,98.2 239.0,75.4 239.2,91.0 239.4,83.7 239.7,91.9 239.9,69.0 240.1,83.5 240.3,67.8 240.6,61.1 240.8,69.3 241.0,88.6 241.2,81.5 241.4,82.0 241.7,70.4 241.9,74.0 242.1,73.6 242.3,79.7 242.6,85.2 242.8,80.0 243.0,83.2 243.2,85.1 243.4,81.3 243.7,74.9 243.9,89.0 244.1,86.7 244.3,66.8 244.6,36.6 244.8,62.4 245.0,75.2 245.2,85.1 245.4,83.7 245.7,70.7 245.9,76.0 246.1,67.6 246.3,69.7 246.6,55.6 246.8,62.7 247.0,65.4 247.2,89.1 247.4,70.8 247.7,60.9 247.9,74.1 248.1,72.8 248.3,67.1 248.6,61.4 248.8,75.5 249.0,62.2 249.2,66.0 249.5,70.7 249.7,94.6 249.9,77.5 250.1,82.1 250.3,77.5 250.6,71.4 250.8,80.4 251.0,64.1 251.2,83.5 251.5,59.8 251.7,82.6 251.9,90.5 252.1,85.9 252.3,85.1 252.6,79.4 252.8,76.3 253.0,75.0 253.2,79.6 253.5,64.5 253.7,70.4 253.9,72.0 254.1,53.6 254.3,69.4 254.6,60.0 254.8,69.3 255.0,45.4 255.2,69.9 255.5,86.6 255.7,66.4 255.9,67.0 256.1,59.7 256.3,89.3 256.6,70.2 256.8,77.0 257.0,65.7 257.2,71.2 257.5,69.2 257.7,65.9 257.9,81.3 258.1,61.8 258.4,82.4 258.6,77.0 258.8,75.4 259.0,65.0 259.2,86.6 259.5,69.0 259.7,94.4 259.9,66.5 260.1,88.0 260.4,81.4 260.6,92.7 260.8,75.6 261.0,82.6 261.2,84.7 261.5,75.6 261.7,64.0 261.9,68.8 262.1,72.4 262.4,87.1 262.6,55.0 262.8,89.9 263.0,85.2 263.2,87.0 263.5,50.1 263.7,65.0 263.9,73.5 264.1,51.1 264.4,93.1 264.6,61.0 264.8,56.7 265.0,61.6 265.2,69.4 265.5,69.1 265.7,72.5 265.9,63.4 266.1,63.9 266.4,74.3 266.6,74.1 266.8,74.9 267.0,88.0 267.2,72.1 267.5,76.8 267.7,76.9 267.9,84.2 268.1,85.1 268.4,86.5 268.6,79.9 268.8,73.6 269.0,78.8 269.3,67.5 269.5,61.4 269.7,69.8 269.9,65.1 270.1,72.3 270.4,64.6 270.6,69.7 270.8,87.4 271.0,71.7 271.3,74.7 271.5,72.5 271.7,61.1 271.9,81.7 272.1,73.2 272.4,73.5 272.6,75.6 272.8,68.3 273.0,78.6 273.3,80.8 273.5,59.2 273.7,42.4 273.9,54.9 274.1,76.3 274.4,79.8 274.6,57.3 274.8,80.3 275.0,70.7 275.3,73.6 275.5,76.8 275.7,45.8 275.9,69.3 276.1,83.6 276.4,62.4 276.6,72.8 276.8,73.3 277.0,77.9 277.3,67.5 277.5,51.2 277.7,78.8 277.9,42.1 278.2,58.6 278.4,70.4 278.6,60.8 278.8,63.7 279.0,54.2 279.3,64.8 279.5,78.2 279.7,53.9 279.9,40.6 280.2,62.3 280.4,85.3 280.6,69.3 280.8,75.3 281.0,73.4 281.3,67.5 281.5,73.2 281.7,67.4 281.9,74.7 282.2,47.6 282.4,61.3 282.6,62.0 282.8,74.3 283.0,59.3 283.3,82.4 283.5,64.8 283.7,60.9 283.9,32.2 284.2,84.5 284.4,52.9 284.6,67.9 284.8,49.5 285.0,41.1 285.3,65.8 285.5,80.8 285.7,75.3 285.9,70.2 286.2,67.3 286.4,66.2 286.6,61.5 286.8,60.2 287.0,50.4 287.3,66.4 287.5,63.0 287.7,71.1 287.9,59.2 288.2,67.1 288.4,33.8 288.6,76.8 288.8,78.6 289.1,61.6 289.3,74.2 289.5,73.3 289.7,50.2 289.9,47.1 290.2,29.2 290.4,53.6 290.6,61.6 290.8,78.0 291.1,77.7 291.3,75.7 291.5,77.9 291.7,72.5 291.9,79.4 292.2,69.8 292.4,71.5 292.6,51.2 292.8,76.2 293.1,49.7 293.3,86.5 293.5,54.3 293.7,47.8 293.9,59.0 294.2,59.7 294.4,62.0 294.6,78.5 294.8,75.3 295.1,64.9 295.3,46.1 295.5,74.5 295.7,75.6 295.9,71.4 296.2,79.6 296.4,64.4 296.6,45.4 296.8,73.0 297.1,70.9 297.3,60.6 297.5,55.7 297.7,53.1 298.0,56.0 298.2,54.8 298.4,83.2 298.6,86.6 298.8,83.7 299.1,55.4 299.3,59.1 299.5,55.9 299.7,68.1 300.0,71.9 300.2,57.0 300.4,75.4 300.6,66.2 300.8,57.8 301.1,76.5 301.3,62.7 301.5,72.3 301.7,60.6 302.0,65.5 302.2,61.6 302.4,65.0"/>
<line x1="32.20" y1="15.90" x2="32.20" y2="178.10" stroke="#8a8a8a" stroke-width="1.3"/>
<line x1="29.20" y1="177.60" x2="310.20" y2="177.60" stroke="#555" stroke-width="1.1"/>
<line x1="29.10" y1="177.50" x2="32.20" y2="177.50" stroke="#444" stroke-width="1"/>
<line x1="30.50" y1="168.32" x2="32.20" y2="168.32" stroke="#444" stroke-width="1"/>
<line x1="29.10" y1="159.15" x2="32.20" y2="159.15" stroke="#444" stroke-width="1"/>
<line x1="30.50" y1="149.97" x2="32.20" y2="149.97" stroke="#444" stroke-width="1"/>
<line x1="29.10" y1="140.80" x2="32.20" y2="140.80" stroke="#444" stroke-width="1"/>
<line x1="30.50" y1="131.62" x2="32.20" y2="131.62" stroke="#444" stroke-width="1"/>
<line x1="29.10" y1="122.45" x2="32.20" y2="122.45" stroke="#444" stroke-width="1"/>
<line x1="30.50" y1="113.27" x2="32.20" y2="113.27" stroke="#444" stroke-width="1"/>
<line x1="29.10" y1="104.10" x2="32.20" y2="104.10" stroke="#444" stroke-width="1"/>
<line x1="30.50" y1="94.92" x2="32.20" y2="94.92" stroke="#444" stroke-width="1"/>
<line x1="29.10" y1="85.75" x2="32.20" y2="85.75" stroke="#444" stroke-width="1"/>
<line x1="30.50" y1="76.57" x2="32.20" y2="76.57" stroke="#444" stroke-width="1"/>
<line x1="29.10" y1="67.40" x2="32.20" y2="67.40" stroke="#444" stroke-width="1"/>
<line x1="30.50" y1="58.22" x2="32.20" y2="58.22" stroke="#444" stroke-width="1"/>
<line x1="29.10" y1="49.05" x2="32.20" y2="49.05" stroke="#444" stroke-width="1"/>
<line x1="30.50" y1="39.88" x2="32.20" y2="39.88" stroke="#444" stroke-width="1"/>
<line x1="29.10" y1="30.70" x2="32.20" y2="30.70" stroke="#444" stroke-width="1"/>
<line x1="30.50" y1="21.52" x2="32.20" y2="21.52" stroke="#444" stroke-width="1"/>
<line x1="38.10" y1="177.60" x2="38.10" y2="181.60" stroke="#666" stroke-width="1"/>
<line x1="64.53" y1="177.60" x2="64.53" y2="179.60" stroke="#666" stroke-width="1"/>
<line x1="90.96" y1="177.60" x2="90.96" y2="181.60" stroke="#666" stroke-width="1"/>
<line x1="117.39" y1="177.60" x2="117.39" y2="179.60" stroke="#666" stroke-width="1"/>
<line x1="143.82" y1="177.60" x2="143.82" y2="181.60" stroke="#666" stroke-width="1"/>
<line x1="170.25" y1="177.60" x2="170.25" y2="179.60" stroke="#666" stroke-width="1"/>
<line x1="196.68" y1="177.60" x2="196.68" y2="181.60" stroke="#666" stroke-width="1"/>
<line x1="223.11" y1="177.60" x2="223.11" y2="179.60" stroke="#666" stroke-width="1"/>
<line x1="249.54" y1="177.60" x2="249.54" y2="181.60" stroke="#666" stroke-width="1"/>
<line x1="275.97" y1="177.60" x2="275.97" y2="179.60" stroke="#666" stroke-width="1"/>
<line x1="302.40" y1="177.60" x2="302.40" y2="181.60" stroke="#666" stroke-width="1"/>
<rect x="313.60" y="0.50" width="31.10" height="20.20" fill="#fff" stroke="#c4c4c4" stroke-width="1"/>
<line x1="317.10" y1="5.50" x2="324.00" y2="5.50" stroke="#000" stroke-width="2.6" stroke-linecap="round"/>
<line x1="317.10" y1="11.50" x2="324.00" y2="11.50" stroke="#f00" stroke-width="2.6" stroke-linecap="round"/>
<line x1="317.10" y1="17.40" x2="324.00" y2="17.40" stroke="#00f" stroke-width="2.6" stroke-linecap="round"/>
<polyline fill="none" stroke="#000" stroke-width="2.2" stroke-linejoin="round" points="386.2,87.7 386.5,85.1 386.8,80.4 387.1,82.7 387.4,84.5 387.7,81.3 388.0,82.8 388.4,82.7 388.7,75.5 389.0,81.8 389.3,87.3 389.6,97.0 389.9,87.7 390.2,75.6 390.6,80.8 390.9,73.0 391.2,81.0 391.5,69.2 391.8,78.1 392.1,78.4 392.4,81.5 392.7,90.7 393.1,74.7 393.4,71.4 393.7,86.3 394.0,66.8 394.3,76.9 394.6,71.1 394.9,83.2 395.2,84.1 395.6,87.1 395.9,70.7 396.2,87.2 396.5,93.0 396.8,72.3 397.1,86.0 397.4,82.7 397.8,70.4 398.1,81.6 398.4,77.4 398.7,73.2 399.0,66.6 399.3,66.9 399.6,75.6 399.9,70.6 400.3,75.6 400.6,68.2 400.9,81.7 401.2,68.7 401.5,86.0 401.8,60.4 402.1,65.6 402.4,83.2 402.8,68.8 403.1,89.6 403.4,70.5 403.7,90.3 404.0,79.3 404.3,86.1 404.6,74.1 405.0,75.7 405.3,65.3 405.6,31.5 405.9,83.9 406.2,90.2 406.5,90.1 406.8,73.0 407.1,55.5 407.5,72.4 407.8,62.5 408.1,64.9 408.4,78.0 408.7,72.4 409.0,80.2 409.3,66.3 409.6,65.0 410.0,73.3 410.3,82.1 410.6,61.4 410.9,68.0 411.2,76.6 411.5,72.2 411.8,65.5 412.1,65.0 412.5,73.7 412.8,78.0 413.1,67.3 413.4,69.0 413.7,68.6 414.0,67.9 414.3,59.3 414.7,71.4 415.0,69.2 415.3,75.8 415.6,62.6 415.9,60.8 416.2,71.0 416.5,59.0 416.8,56.8 417.2,62.9 417.5,64.9 417.8,86.6 418.1,58.1 418.4,58.9 418.7,76.9 419.0,72.4 419.3,70.9 419.7,64.0 420.0,82.7 420.3,69.6 420.6,66.0 420.9,68.9 421.2,65.4 421.5,60.7 421.9,57.2 422.2,34.1 422.5,62.5 422.8,66.1 423.1,56.3 423.4,54.6 423.7,65.9 424.0,63.2 424.4,59.7 424.7,62.6 425.0,48.3 425.3,65.1 425.6,68.2 425.9,43.1 426.2,62.5 426.5,72.2 426.9,62.2 427.2,55.0 427.5,64.3 427.8,64.6 428.1,71.6 428.4,48.5 428.7,51.1 429.1,57.8 429.4,45.8 429.7,48.4 430.0,57.7 430.3,51.4 430.6,58.8 430.9,49.9 431.2,56.9 431.6,53.3 431.9,42.6 432.2,26.0 432.5,64.4 432.8,60.4 433.1,43.7 433.4,58.4 433.7,55.8 434.1,56.1 434.4,32.6 434.7,58.3 435.0,31.4 435.3,24.9 435.6,52.3 435.9,62.2 436.2,40.2 436.6,38.3 436.9,44.2 437.2,48.5 437.5,65.8 437.8,57.0 438.1,43.7 438.4,45.0 438.8,55.7 439.1,66.3 439.4,66.8 439.7,41.4 440.0,30.4 440.3,55.0 440.6,55.7 440.9,71.0 441.3,37.3 441.6,52.7 441.9,60.2 442.2,62.1 442.5,51.4 442.8,57.8 443.1,50.5 443.4,47.3 443.8,47.6 444.1,74.3 444.4,59.3 444.7,63.2 445.0,60.7 445.3,53.0 445.6,56.1 446.0,38.1 446.3,54.7 446.6,56.5 446.9,70.7 447.2,58.7 447.5,70.2 447.8,62.1 448.1,57.0 448.5,72.8 448.8,54.4 449.1,48.0 449.4,65.9 449.7,76.1 450.0,56.3 450.3,57.8 450.6,53.6 451.0,55.4 451.3,60.7 451.6,72.6 451.9,61.2 452.2,68.8 452.5,56.3 452.8,53.4 453.2,72.2 453.5,57.3 453.8,73.0 454.1,57.4 454.4,59.1 454.7,51.8 455.0,78.9 455.3,70.0 455.7,68.9 456.0,63.7 456.3,64.3 456.6,66.8 456.9,68.9 457.2,73.4 457.5,70.8 457.8,60.7 458.2,66.2 458.5,67.0 458.8,59.5 459.1,75.6 459.4,61.4 459.7,70.4 460.0,75.3 460.4,74.8 460.7,65.0 461.0,74.4 461.3,63.5 461.6,66.3 461.9,56.2 462.2,65.5 462.5,64.4 462.9,67.3 463.2,60.4 463.5,75.2 463.8,67.2 464.1,66.1 464.4,55.5 464.7,68.3 465.0,57.4 465.4,69.1 465.7,72.2 466.0,49.8 466.3,72.1 466.6,51.5 466.9,59.8 467.2,61.7 467.5,60.4 467.9,59.6 468.2,56.6 468.5,57.6 468.8,59.1 469.1,64.4 469.4,63.3 469.7,62.1 470.1,61.7 470.4,69.2 470.7,75.9 471.0,63.3 471.3,66.7 471.6,70.0 471.9,54.1 472.2,64.6 472.6,69.2 472.9,58.6 473.2,62.0 473.5,59.3 473.8,66.9 474.1,67.3 474.4,63.7 474.7,67.8 475.1,60.8 475.4,60.1 475.7,52.7 476.0,66.9 476.3,54.0 476.6,62.8 476.9,69.1 477.3,55.6 477.6,60.8 477.9,64.7 478.2,57.2 478.5,59.4 478.8,68.6 479.1,67.4 479.4,48.4 479.8,67.3 480.1,71.7 480.4,74.8 480.7,66.9 481.0,64.4 481.3,57.9 481.6,64.4 481.9,72.4 482.3,50.8 482.6,73.7 482.9,61.8 483.2,70.9 483.5,67.2 483.8,72.0 484.1,49.3 484.5,56.7 484.8,60.3 485.1,59.6 485.4,65.7 485.7,58.4 486.0,66.8 486.3,54.1 486.6,53.9 487.0,61.5 487.3,63.0 487.6,61.5 487.9,60.7 488.2,54.3 488.5,76.7 488.8,61.9 489.1,61.7 489.5,56.4 489.8,65.3 490.1,50.3 490.4,48.9 490.7,57.6 491.0,58.0 491.3,68.3 491.6,71.6 492.0,67.3 492.3,62.2 492.6,62.8 492.9,54.4 493.2,55.6 493.5,61.7 493.8,48.8 494.2,50.2 494.5,48.6 494.8,58.9 495.1,62.1 495.4,53.3 495.7,60.1 496.0,54.4 496.3,58.7 496.7,51.0 497.0,57.2 497.3,43.8 497.6,54.6 497.9,50.0 498.2,56.0 498.5,57.9 498.8,45.9 499.2,43.3 499.5,65.5 499.8,36.3 500.1,53.3 500.4,40.7 500.7,55.7 501.0,62.7 501.4,58.4 501.7,56.2 502.0,69.4 502.3,45.4 502.6,59.0 502.9,51.7 503.2,49.1 503.5,44.5 503.9,44.8 504.2,55.4 504.5,50.8 504.8,54.1 505.1,45.2 505.4,49.2 505.7,50.2 506.0,58.3 506.4,64.0 506.7,54.6 507.0,39.6 507.3,59.7 507.6,57.8 507.9,53.6 508.2,72.1 508.6,54.3 508.9,49.6 509.2,71.0 509.5,63.0 509.8,59.8 510.1,57.5 510.4,53.2 510.7,66.1 511.1,52.2 511.4,44.7 511.7,57.4 512.0,64.9 512.3,65.3 512.6,67.0 512.9,59.9 513.2,74.2 513.6,60.8 513.9,62.2 514.2,52.4 514.5,54.2 514.8,73.6 515.1,49.0 515.4,48.4 515.8,51.1 516.1,55.6 516.4,67.2 516.7,66.6 517.0,51.2 517.3,65.0 517.6,70.5 517.9,57.1 518.3,74.7 518.6,69.5 518.9,72.8 519.2,64.9 519.5,66.7 519.8,73.3 520.1,62.9 520.4,61.7 520.8,67.0 521.1,55.0 521.4,62.2 521.7,67.5 522.0,69.4 522.3,70.6 522.6,65.7 522.9,71.8 523.3,53.7 523.6,37.4 523.9,52.8 524.2,53.3 524.5,48.5 524.8,63.1 525.1,63.2 525.5,61.1 525.8,54.6 526.1,65.1 526.4,75.4 526.7,71.5 527.0,60.3 527.3,74.4 527.6,52.5 528.0,55.4 528.3,53.8 528.6,73.0 528.9,52.2 529.2,33.0 529.5,49.5 529.8,63.3 530.1,46.4 530.5,41.8 530.8,52.8 531.1,52.6 531.4,70.3 531.7,65.5 532.0,56.6 532.3,44.2 532.7,62.7 533.0,57.8 533.3,64.7 533.6,67.8 533.9,53.9 534.2,46.6 534.5,67.7 534.8,62.9 535.2,63.8 535.5,55.0 535.8,60.4 536.1,57.1 536.4,60.0 536.7,61.3 537.0,68.0 537.3,44.1 537.7,80.6 538.0,47.9 538.3,72.3 538.6,51.4 538.9,69.2 539.2,70.1 539.5,78.1 539.9,74.6 540.2,71.6 540.5,79.0 540.8,65.2 541.1,59.3 541.4,40.3 541.7,75.2 542.0,77.1 542.4,64.3 542.7,63.0 543.0,87.6 543.3,79.2 543.6,85.9 543.9,80.0 544.2,56.9 544.5,62.6 544.9,89.4 545.2,74.5 545.5,66.2 545.8,78.8 546.1,68.6 546.4,81.9 546.7,58.7 547.0,77.3 547.4,79.9 547.7,63.3 548.0,74.7 548.3,78.4 548.6,71.4 548.9,76.3 549.2,78.7 549.6,78.7 549.9,64.2 550.2,86.5 550.5,69.0 550.8,71.8 551.1,84.5 551.4,90.6 551.7,77.8 552.1,72.1 552.4,68.5 552.7,73.9 553.0,72.2 553.3,86.3 553.6,68.7 553.9,76.3 554.2,97.8 554.6,72.2 554.9,95.7 555.2,82.3 555.5,84.0 555.8,95.7 556.1,94.5 556.4,84.3 556.8,76.6 557.1,74.9 557.4,77.6 557.7,90.8 558.0,82.0 558.3,96.9 558.6,97.9 558.9,83.4 559.3,82.7 559.6,86.7 559.9,87.8 560.2,87.3 560.5,76.6 560.8,85.4 561.1,78.1 561.4,87.6 561.8,105.1 562.1,76.7 562.4,89.0 562.7,84.1 563.0,94.0 563.3,98.1 563.6,71.6 564.0,89.3 564.3,111.3 564.6,97.3 564.9,96.2 565.2,85.3 565.5,98.8 565.8,104.4 566.1,92.0 566.5,114.0 566.8,104.5 567.1,125.5 567.4,103.3 567.7,107.3 568.0,100.7 568.3,118.1 568.6,102.7 569.0,113.2 569.3,101.3 569.6,108.2 569.9,80.7 570.2,81.3 570.5,98.5 570.8,98.8 571.2,82.9 571.5,107.9 571.8,104.9 572.1,102.3 572.4,96.4 572.7,98.5 573.0,101.8 573.3,88.2 573.7,77.1 574.0,86.5 574.3,93.8 574.6,71.5 574.9,87.0 575.2,78.3 575.5,98.9 575.8,113.7 576.2,108.4 576.5,105.9 576.8,75.1 577.1,82.6 577.4,81.2 577.7,83.2 578.0,81.5 578.3,81.3 578.7,69.4 579.0,71.6 579.3,85.4 579.6,83.3 579.9,90.0 580.2,86.7 580.5,85.6 580.9,88.7 581.2,94.3 581.5,95.8 581.8,96.4 582.1,93.5 582.4,100.3 582.7,80.8 583.0,79.7 583.4,88.5 583.7,91.1 584.0,98.8 584.3,77.4 584.6,96.0 584.9,91.3 585.2,92.5 585.5,91.1 585.9,86.1 586.2,92.0 586.5,78.4 586.8,85.8 587.1,118.5 587.4,90.3 587.7,88.1 588.1,84.5 588.4,87.9 588.7,87.1 589.0,98.9 589.3,87.1 589.6,90.8 589.9,98.9 590.2,92.5 590.6,84.5 590.9,98.8 591.2,104.8 591.5,96.3 591.8,83.1 592.1,75.2 592.4,103.2 592.7,108.6 593.1,99.6 593.4,93.3 593.7,95.5 594.0,95.3 594.3,79.5 594.6,86.6 594.9,91.9 595.3,100.7 595.6,74.9 595.9,77.1 596.2,88.5 596.5,96.8 596.8,93.0 597.1,89.2 597.4,91.1 597.8,85.5 598.1,98.8 598.4,95.0 598.7,76.3 599.0,93.6 599.3,92.6 599.6,88.3 599.9,73.7 600.3,84.1 600.6,81.1 600.9,87.0 601.2,80.2 601.5,79.0 601.8,73.1 602.1,77.5 602.4,93.3 602.8,78.6 603.1,81.8 603.4,84.9 603.7,85.3 604.0,69.7 604.3,75.5 604.6,93.7 605.0,66.6 605.3,75.0 605.6,85.6 605.9,82.3 606.2,81.4 606.5,84.8 606.8,66.6 607.1,70.2 607.5,78.2 607.8,74.0 608.1,82.6 608.4,76.3 608.7,67.8 609.0,98.3 609.3,86.3 609.6,93.8 610.0,96.5 610.3,85.1 610.6,82.8 610.9,78.1 611.2,83.9 611.5,86.6 611.8,79.6 612.2,77.0 612.5,96.1 612.8,84.2 613.1,75.4 613.4,89.3 613.7,87.9 614.0,80.1 614.3,93.0 614.7,87.5 615.0,76.6 615.3,85.9 615.6,106.3 615.9,101.3 616.2,94.4 616.5,96.1 616.8,107.1 617.2,82.4 617.5,101.2 617.8,108.0 618.1,90.3 618.4,105.4 618.7,106.7 619.0,104.9 619.4,99.9 619.7,113.4 620.0,103.7 620.3,124.4 620.6,115.9 620.9,103.1 621.2,113.3 621.5,102.4 621.9,104.1 622.2,104.3 622.5,99.6 622.8,106.5 623.1,100.9 623.4,94.3 623.7,106.5 624.0,117.2 624.4,97.8 624.7,108.8 625.0,102.4 625.3,104.9 625.6,95.2 625.9,83.9 626.2,96.7 626.6,100.0 626.9,95.6 627.2,93.4 627.5,97.1 627.8,96.6 628.1,100.2 628.4,101.8 628.7,91.5 629.1,100.1 629.4,106.5 629.7,108.4 630.0,107.4 630.3,106.1 630.6,107.5 630.9,102.7 631.2,95.9 631.6,104.6 631.9,101.5 632.2,99.4 632.5,100.8 632.8,101.1 633.1,97.8 633.4,99.0 633.7,97.4 634.1,104.6 634.4,100.7 634.7,100.5 635.0,94.6 635.3,90.0 635.6,87.1 635.9,100.7 636.3,85.7 636.6,95.9 636.9,94.6 637.2,93.4 637.5,102.9 637.8,98.9 638.1,100.6 638.4,95.8 638.8,99.7 639.1,92.8 639.4,98.5 639.7,89.7 640.0,100.1 640.3,98.6 640.6,92.7 640.9,96.4 641.3,104.3 641.6,100.4 641.9,95.6 642.2,99.5"/>
<polyline fill="none" stroke="#f00" stroke-width="2.2" stroke-linejoin="round" points="385.9,111.5 386.2,98.2 386.5,111.4 386.9,105.7 387.2,99.3 387.5,94.0 387.8,90.7 388.1,91.7 388.4,106.3 388.7,93.7 389.0,97.7 389.4,65.7 389.7,90.3 390.0,85.6 390.3,74.5 390.6,80.8 390.9,103.5 391.2,86.7 391.5,108.1 391.9,103.1 392.2,86.2 392.5,87.3 392.8,88.4 393.1,63.6 393.4,81.8 393.7,67.0 394.0,81.0 394.4,101.0 394.7,89.8 395.0,83.7 395.3,87.6 395.6,66.5 395.9,67.0 396.2,86.7 396.6,77.8 396.9,76.3 397.2,85.6 397.5,81.9 397.8,79.6 398.1,81.5 398.4,92.0 398.7,89.9 399.1,90.8 399.4,75.9 399.7,71.1 400.0,71.9 400.3,76.4 400.6,73.8 400.9,89.2 401.2,70.7 401.6,70.3 401.9,63.1 402.2,70.5 402.5,64.7 402.8,75.5 403.1,74.4 403.4,73.2 403.8,72.1 404.1,67.5 404.4,86.7 404.7,82.2 405.0,75.8 405.3,84.0 405.6,85.8 405.9,78.2 406.3,83.5 406.6,76.6 406.9,77.3 407.2,92.2 407.5,83.6 407.8,89.2 408.1,72.8 408.4,74.7 408.8,70.2 409.1,83.8 409.4,89.4 409.7,77.8 410.0,95.9 410.3,77.7 410.6,87.6 410.9,80.0 411.3,80.4 411.6,93.2 411.9,98.9 412.2,82.3 412.5,80.0 412.8,79.3 413.1,94.3 413.5,90.7 413.8,84.7 414.1,74.6 414.4,87.9 414.7,75.4 415.0,84.5 415.3,74.9 415.6,83.2 416.0,83.5 416.3,96.4 416.6,86.5 416.9,70.1 417.2,86.8 417.5,74.2 417.8,78.5 418.1,77.9 418.5,84.9 418.8,100.8 419.1,91.4 419.4,84.1 419.7,82.7 420.0,74.4 420.3,73.4 420.6,83.7 421.0,79.5 421.3,67.1 421.6,86.4 421.9,75.0 422.2,91.5 422.5,113.3 422.8,93.7 423.2,104.9 423.5,88.4 423.8,89.5 424.1,91.6 424.4,106.5 424.7,93.9 425.0,78.9 425.3,96.3 425.7,94.6 426.0,77.2 426.3,103.1 426.6,86.0 426.9,92.2 427.2,82.4 427.5,111.5 427.8,79.2 428.2,94.4 428.5,70.9 428.8,94.0 429.1,98.9 429.4,95.9 429.7,98.2 430.0,91.9 430.3,80.6 430.7,71.5 431.0,98.7 431.3,79.8 431.6,95.5 431.9,69.3 432.2,83.7 432.5,93.6 432.9,86.1 433.2,95.7 433.5,97.6 433.8,69.5 434.1,60.9 434.4,71.2 434.7,65.3 435.0,71.6 435.4,73.9 435.7,91.4 436.0,90.5 436.3,75.3 436.6,84.7 436.9,81.9 437.2,83.2 437.5,70.4 437.9,85.4 438.2,59.9 438.5,89.9 438.8,79.8 439.1,96.9 439.4,61.1 439.7,57.0 440.0,78.0 440.4,61.8 440.7,70.2 441.0,65.8 441.3,47.6 441.6,94.7 441.9,74.4 442.2,83.2 442.6,73.1 442.9,68.3 443.2,91.2 443.5,78.6 443.8,70.2 444.1,76.8 444.4,43.2 444.7,86.6 445.1,84.6 445.4,54.4 445.7,90.8 446.0,96.8 446.3,64.9 446.6,80.2 446.9,76.5 447.2,80.7 447.6,83.8 447.9,80.3 448.2,81.3 448.5,89.2 448.8,63.3 449.1,89.6 449.4,81.0 449.8,87.2 450.1,85.5 450.4,71.8 450.7,84.3 451.0,94.7 451.3,99.9 451.6,104.1 451.9,90.7 452.3,77.2 452.6,91.9 452.9,90.9 453.2,80.1 453.5,91.3 453.8,97.1 454.1,98.4 454.4,82.7 454.8,87.5 455.1,73.7 455.4,84.7 455.7,87.7 456.0,94.3 456.3,89.4 456.6,81.8 456.9,80.1 457.3,80.3 457.6,96.5 457.9,94.3 458.2,73.7 458.5,95.8 458.8,91.9 459.1,89.8 459.5,107.5 459.8,89.6 460.1,77.3 460.4,91.8 460.7,79.8 461.0,92.5 461.3,95.7 461.6,76.8 462.0,77.4 462.3,84.6 462.6,88.9 462.9,87.4 463.2,79.2 463.5,98.0 463.8,103.9 464.1,94.5 464.5,103.5 464.8,77.9 465.1,91.8 465.4,95.8 465.7,89.9 466.0,85.5 466.3,81.5 466.6,85.8 467.0,69.1 467.3,96.1 467.6,104.6 467.9,93.9 468.2,77.6 468.5,95.7 468.8,97.2 469.2,77.0 469.5,102.5 469.8,68.3 470.1,87.8 470.4,73.4 470.7,108.0 471.0,97.4 471.3,104.1 471.7,93.5 472.0,104.0 472.3,99.0 472.6,89.0 472.9,91.3 473.2,79.7 473.5,93.1 473.8,84.6 474.2,108.8 474.5,100.7 474.8,97.0 475.1,72.6 475.4,100.9 475.7,91.5 476.0,72.2 476.3,81.7 476.7,85.4 477.0,86.4 477.3,74.8 477.6,97.0 477.9,92.0 478.2,91.1 478.5,96.9 478.9,75.3 479.2,98.1 479.5,102.5 479.8,85.4 480.1,83.1 480.4,76.6 480.7,81.9 481.0,104.6 481.4,96.2 481.7,93.6 482.0,93.5 482.3,95.1 482.6,99.4 482.9,95.6 483.2,92.3 483.5,107.6 483.9,91.5 484.2,97.9 484.5,79.3 484.8,106.9 485.1,100.3 485.4,108.8 485.7,102.2 486.0,98.2 486.4,95.0 486.7,95.9 487.0,100.6 487.3,97.7 487.6,85.5 487.9,90.8 488.2,93.0 488.6,76.4 488.9,67.7 489.2,81.4 489.5,92.3 489.8,83.8 490.1,71.8 490.4,80.6 490.7,73.7 491.1,82.6 491.4,77.8 491.7,86.4 492.0,78.2 492.3,73.0 492.6,58.7 492.9,94.3 493.2,93.3 493.6,90.2 493.9,72.7 494.2,75.5 494.5,84.1 494.8,91.7 495.1,72.5 495.4,72.4 495.8,63.6 496.1,87.9 496.4,97.5 496.7,69.9 497.0,78.6 497.3,74.2 497.6,70.7 497.9,68.8 498.3,65.9 498.6,81.5 498.9,75.0 499.2,90.4 499.5,77.3 499.8,75.9 500.1,63.8 500.4,68.0 500.8,79.9 501.1,66.2 501.4,82.6 501.7,87.7 502.0,69.6 502.3,67.6 502.6,77.1 502.9,91.8 503.3,73.9 503.6,78.2 503.9,87.7 504.2,93.3 504.5,91.5 504.8,75.8 505.1,72.3 505.5,74.6 505.8,85.6 506.1,84.5 506.4,70.0 506.7,43.2 507.0,67.9 507.3,70.2 507.6,72.2 508.0,67.6 508.3,62.9 508.6,76.6 508.9,83.4 509.2,70.1 509.5,85.9 509.8,71.7 510.1,68.2 510.5,69.5 510.8,68.1 511.1,66.5 511.4,100.8 511.7,84.4 512.0,69.7 512.3,82.1 512.6,61.8 513.0,91.2 513.3,80.0 513.6,75.5 513.9,78.3 514.2,78.6 514.5,85.8 514.8,78.1 515.2,72.8 515.5,91.6 515.8,90.7 516.1,73.2 516.4,69.5 516.7,81.1 517.0,65.1 517.3,66.7 517.7,89.4 518.0,73.5 518.3,71.6 518.6,77.9 518.9,71.9 519.2,74.2 519.5,84.5 519.8,66.5 520.2,80.0 520.5,69.6 520.8,102.3 521.1,62.4 521.4,70.7 521.7,80.6 522.0,73.4 522.3,79.9 522.7,66.1 523.0,67.4 523.3,92.2 523.6,68.0 523.9,66.3 524.2,80.6 524.5,79.4 524.9,65.8 525.2,82.6 525.5,67.1 525.8,72.9 526.1,69.1 526.4,72.8 526.7,97.3 527.0,84.5 527.4,86.6 527.7,92.9 528.0,98.6 528.3,84.2 528.6,92.1 528.9,71.1 529.2,77.7 529.5,79.9 529.9,87.8 530.2,86.5 530.5,86.6 530.8,72.6 531.1,69.9 531.4,94.1 531.7,97.4 532.1,99.6 532.4,92.8 532.7,82.5 533.0,89.7 533.3,83.8 533.6,80.7 533.9,80.9 534.2,71.6 534.6,64.0 534.9,66.7 535.2,73.1 535.5,82.9 535.8,86.9 536.1,68.7 536.4,102.7 536.7,90.4 537.1,75.4 537.4,41.8 537.7,72.5 538.0,75.2 538.3,65.7 538.6,73.5 538.9,83.4 539.2,63.8 539.6,75.0 539.9,70.2 540.2,67.3 540.5,71.9 540.8,87.0 541.1,68.7 541.4,82.3 541.8,67.5 542.1,64.8 542.4,85.6 542.7,88.5 543.0,77.4 543.3,79.5 543.6,91.7 543.9,85.3 544.3,71.5 544.6,71.6 544.9,84.1 545.2,83.8 545.5,71.4 545.8,70.5 546.1,95.5 546.4,86.9 546.8,88.8 547.1,92.2 547.4,86.3 547.7,86.8 548.0,91.0 548.3,77.2 548.6,93.6 548.9,83.6 549.3,64.7 549.6,74.4 549.9,80.4 550.2,82.4 550.5,61.6 550.8,93.1 551.1,89.2 551.5,85.3 551.8,102.1 552.1,76.8 552.4,68.5 552.7,76.3 553.0,74.5 553.3,75.2 553.6,46.5 554.0,89.2 554.3,80.0 554.6,70.7 554.9,82.8 555.2,87.6 555.5,91.4 555.8,95.0 556.1,88.0 556.5,84.2 556.8,95.1 557.1,86.9 557.4,86.0 557.7,74.1 558.0,81.6 558.3,75.2 558.6,99.4 559.0,95.3 559.3,90.2 559.6,75.0 559.9,99.2 560.2,80.4 560.5,100.9 560.8,87.9 561.2,93.2 561.5,70.6 561.8,74.8 562.1,85.3 562.4,89.0 562.7,84.4 563.0,91.7 563.3,79.3 563.7,90.2 564.0,95.8 564.3,84.4 564.6,80.3 564.9,78.1 565.2,80.8 565.5,86.4 565.8,85.5 566.2,94.9 566.5,92.5 566.8,87.0 567.1,90.2 567.4,90.1 567.7,75.3 568.0,95.3 568.3,94.3 568.7,95.8 569.0,85.1 569.3,95.3 569.6,78.0 569.9,96.9 570.2,85.0 570.5,90.0 570.9,92.1 571.2,98.7 571.5,99.3 571.8,101.9 572.1,100.1 572.4,92.4 572.7,93.0 573.0,95.6 573.4,101.4 573.7,100.2 574.0,103.4 574.3,98.3 574.6,101.5 574.9,90.3 575.2,95.9 575.5,76.4 575.9,100.8 576.2,94.7 576.5,85.8 576.8,99.4 577.1,100.9 577.4,94.3 577.7,77.7 578.1,89.5 578.4,94.8 578.7,103.0 579.0,95.8 579.3,94.5 579.6,99.3 579.9,93.1 580.2,93.3 580.6,96.2 580.9,81.2 581.2,103.7 581.5,95.1 581.8,99.0 582.1,102.0 582.4,87.9 582.7,98.9 583.1,101.6 583.4,102.8 583.7,106.4 584.0,98.8 584.3,85.7 584.6,102.8 584.9,95.8 585.2,74.0 585.6,94.2 585.9,84.3 586.2,87.3 586.5,99.4 586.8,87.4 587.1,102.7 587.4,102.0 587.8,89.7 588.1,98.1 588.4,105.4 588.7,89.4 589.0,97.2 589.3,99.1 589.6,78.6 589.9,91.8 590.3,93.9 590.6,82.4 590.9,85.9 591.2,86.9 591.5,92.5 591.8,98.4 592.1,92.3 592.4,101.3 592.8,85.5 593.1,91.0 593.4,103.4 593.7,92.8 594.0,95.2 594.3,92.7 594.6,94.8 594.9,84.5 595.3,87.9 595.6,88.1 595.9,99.7 596.2,89.5 596.5,94.8 596.8,97.5 597.1,95.9 597.5,85.2 597.8,88.8 598.1,92.3 598.4,79.3 598.7,87.5 599.0,90.1 599.3,78.8 599.6,73.1 600.0,68.1 600.3,86.0 600.6,75.9 600.9,82.1 601.2,71.4 601.5,75.0 601.8,81.3 602.1,85.6 602.5,77.0 602.8,85.7 603.1,77.5 603.4,74.3 603.7,93.3 604.0,90.9 604.3,78.5 604.6,88.4 605.0,90.6 605.3,81.0 605.6,89.5 605.9,72.1 606.2,93.6 606.5,79.1 606.8,94.8 607.2,67.4 607.5,46.5 607.8,77.5 608.1,100.9 608.4,78.6 608.7,78.1 609.0,78.8 609.3,98.4 609.7,85.6 610.0,82.5 610.3,75.0 610.6,76.5 610.9,91.8 611.2,94.8 611.5,88.6 611.8,73.5 612.2,46.2 612.5,89.5 612.8,68.3 613.1,93.1 613.4,95.9 613.7,82.2 614.0,98.5 614.3,74.4 614.7,39.6 615.0,92.5 615.3,96.7 615.6,80.6 615.9,89.2 616.2,97.3 616.5,88.8 616.9,79.8 617.2,86.6 617.5,77.2 617.8,39.6 618.1,80.1 618.4,100.0 618.7,92.1 619.0,96.5 619.4,103.3 619.7,94.5 620.0,84.8 620.3,72.2 620.6,91.1 620.9,85.3 621.2,99.1 621.5,109.1 621.9,94.2 622.2,86.0 622.5,85.2 622.8,82.1 623.1,103.3 623.4,96.5 623.7,97.3 624.1,101.2 624.4,101.2 624.7,93.0 625.0,98.2 625.3,94.2 625.6,83.7 625.9,93.2 626.2,85.6 626.6,66.5 626.9,76.9 627.2,98.0 627.5,78.4 627.8,80.4 628.1,85.3 628.4,82.6 628.7,84.7 629.1,81.6 629.4,76.7 629.7,76.1 630.0,99.4 630.3,86.8 630.6,106.0 630.9,87.9 631.2,88.8 631.6,89.9 631.9,85.7 632.2,75.2 632.5,87.6 632.8,90.7 633.1,89.6 633.4,87.0 633.8,103.3 634.1,84.4 634.4,96.4 634.7,86.2 635.0,94.1 635.3,89.0 635.6,96.1 635.9,87.7 636.3,89.6 636.6,80.0 636.9,96.4 637.2,91.5 637.5,90.3 637.8,80.9 638.1,87.8 638.4,79.7 638.8,91.2 639.1,79.0 639.4,102.9 639.7,98.5 640.0,86.6 640.3,92.3 640.6,81.1 640.9,75.1 641.3,81.5 641.6,90.1 641.9,73.0 642.2,82.0"/>
<polyline fill="none" stroke="#00f" stroke-width="2.2" stroke-linejoin="round" points="385.4,178.3 385.6,126.7 385.8,141.0 386.1,134.8 386.3,127.8 386.5,107.3 386.7,112.2 387.0,122.1 387.2,120.1 387.4,112.6 387.6,112.3 387.8,134.5 388.1,106.2 388.3,116.3 388.5,115.4 388.7,132.0 389.0,127.1 389.2,102.4 389.4,113.9 389.6,121.2 389.9,114.0 390.1,107.4 390.3,123.5 390.5,119.4 390.7,111.6 391.0,117.9 391.2,119.2 391.4,112.6 391.6,119.6 391.9,113.7 392.1,114.4 392.3,124.6 392.5,111.6 392.7,124.6 393.0,105.5 393.2,125.4 393.4,121.2 393.6,114.8 393.9,120.4 394.1,124.5 394.3,115.4 394.5,129.1 394.7,110.7 395.0,107.8 395.2,112.5 395.4,109.9 395.6,111.2 395.9,100.3 396.1,112.7 396.3,123.6 396.5,118.9 396.7,135.2 397.0,122.2 397.2,102.3 397.4,131.4 397.6,118.5 397.9,126.2 398.1,122.9 398.3,114.5 398.5,123.5 398.8,125.3 399.0,108.6 399.2,106.1 399.4,101.5 399.6,105.0 399.9,104.7 400.1,118.6 400.3,133.7 400.5,116.5 400.8,123.8 401.0,111.8 401.2,107.0 401.4,117.4 401.6,103.4 401.9,113.7 402.1,116.2 402.3,126.7 402.5,125.0 402.8,121.3 403.0,123.4 403.2,112.1 403.4,111.6 403.6,128.8 403.9,123.8 404.1,118.4 404.3,85.7 404.5,132.1 404.8,119.6 405.0,113.2 405.2,106.4 405.4,95.9 405.7,97.3 405.9,118.6 406.1,111.5 406.3,110.7 406.5,98.3 406.8,102.3 407.0,87.0 407.2,108.6 407.4,110.4 407.7,113.0 407.9,89.9 408.1,105.9 408.3,110.3 408.5,106.3 408.8,98.8 409.0,100.1 409.2,95.1 409.4,98.7 409.7,93.1 409.9,107.4 410.1,105.1 410.3,99.9 410.5,98.2 410.8,93.8 411.0,87.3 411.2,86.3 411.4,89.1 411.7,86.5 411.9,86.2 412.1,92.3 412.3,68.6 412.5,96.9 412.8,86.3 413.0,87.6 413.2,92.0 413.4,93.5 413.7,82.9 413.9,86.4 414.1,75.0 414.3,103.2 414.6,70.6 414.8,84.4 415.0,87.7 415.2,75.8 415.4,84.5 415.7,75.8 415.9,67.0 416.1,81.4 416.3,97.2 416.6,91.5 416.8,84.4 417.0,72.9 417.2,83.1 417.4,73.2 417.7,76.1 417.9,77.5 418.1,72.5 418.3,73.6 418.6,79.2 418.8,77.5 419.0,73.6 419.2,74.3 419.4,84.3 419.7,87.1 419.9,79.1 420.1,67.5 420.3,44.7 420.6,80.8 420.8,65.4 421.0,65.4 421.2,74.2 421.4,67.0 421.7,79.9 421.9,88.2 422.1,98.6 422.3,84.9 422.6,98.2 422.8,94.0 423.0,80.1 423.2,95.0 423.5,88.7 423.7,83.5 423.9,84.2 424.1,75.2 424.3,96.4 424.6,75.9 424.8,73.1 425.0,90.9 425.2,90.1 425.5,86.5 425.7,91.0 425.9,69.3 426.1,85.7 426.3,76.4 426.6,85.6 426.8,90.4 427.0,78.2 427.2,100.5 427.5,76.1 427.7,91.0 427.9,82.7 428.1,79.8 428.3,87.8 428.6,68.9 428.8,78.0 429.0,93.6 429.2,77.8 429.5,90.1 429.7,74.5 429.9,78.3 430.1,88.3 430.4,86.8 430.6,79.6 430.8,78.5 431.0,92.7 431.2,84.6 431.5,89.0 431.7,86.6 431.9,80.9 432.1,72.6 432.4,90.3 432.6,70.1 432.8,87.6 433.0,75.8 433.2,80.5 433.5,96.2 433.7,83.6 433.9,87.9 434.1,90.7 434.4,82.6 434.6,80.0 434.8,79.5 435.0,82.3 435.2,76.6 435.5,73.1 435.7,83.7 435.9,69.1 436.1,86.9 436.4,69.8 436.6,91.0 436.8,68.7 437.0,86.5 437.2,85.8 437.5,78.3 437.7,74.0 437.9,78.7 438.1,87.0 438.4,81.8 438.6,85.8 438.8,75.2 439.0,89.1 439.3,72.5 439.5,77.6 439.7,86.9 439.9,80.9 440.1,86.7 440.4,75.1 440.6,74.7 440.8,85.2 441.0,82.2 441.3,78.9 441.5,80.8 441.7,73.6 441.9,72.0 442.1,70.8 442.4,81.6 442.6,77.9 442.8,89.0 443.0,71.6 443.3,75.9 443.5,81.8 443.7,91.8 443.9,84.6 444.1,87.5 444.4,99.6 444.6,85.7 444.8,84.4 445.0,69.5 445.3,94.7 445.5,82.8 445.7,53.5 445.9,82.3 446.2,80.8 446.4,80.7 446.6,68.2 446.8,91.2 447.0,81.7 447.3,80.0 447.5,59.7 447.7,88.2 447.9,65.5 448.2,60.3 448.4,93.5 448.6,93.0 448.8,93.7 449.0,82.9 449.3,87.1 449.5,96.9 449.7,70.7 449.9,88.6 450.2,80.1 450.4,94.6 450.6,90.0 450.8,85.5 451.0,79.0 451.3,87.1 451.5,64.6 451.7,79.1 451.9,84.3 452.2,69.9 452.4,79.0 452.6,82.1 452.8,68.8 453.0,71.7 453.3,89.7 453.5,77.1 453.7,73.0 453.9,83.5 454.2,74.8 454.4,73.2 454.6,76.8 454.8,76.5 455.1,77.1 455.3,74.6 455.5,95.9 455.7,66.7 455.9,91.7 456.2,84.5 456.4,71.7 456.6,74.6 456.8,80.7 457.1,80.1 457.3,85.2 457.5,85.3 457.7,68.0 457.9,92.0 458.2,67.7 458.4,84.8 458.6,91.0 458.8,84.2 459.1,93.4 459.3,85.6 459.5,82.5 459.7,90.1 459.9,80.3 460.2,85.1 460.4,76.0 460.6,87.6 460.8,83.9 461.1,101.4 461.3,91.6 461.5,74.5 461.7,78.3 462.0,81.7 462.2,80.7 462.4,86.1 462.6,76.7 462.8,93.2 463.1,87.9 463.3,98.0 463.5,93.5 463.7,74.7 464.0,80.5 464.2,88.8 464.4,81.0 464.6,89.0 464.8,78.9 465.1,70.8 465.3,74.5 465.5,78.9 465.7,86.8 466.0,75.5 466.2,97.4 466.4,86.9 466.6,82.7 466.8,95.1 467.1,81.1 467.3,88.2 467.5,98.2 467.7,91.0 468.0,84.8 468.2,87.1 468.4,99.5 468.6,88.1 468.8,101.4 469.1,85.0 469.3,72.3 469.5,88.6 469.7,87.5 470.0,96.4 470.2,92.8 470.4,93.8 470.6,93.3 470.9,101.9 471.1,85.7 471.3,78.4 471.5,76.8 471.7,79.3 472.0,85.8 472.2,94.0 472.4,100.2 472.6,78.5 472.9,72.4 473.1,70.5 473.3,80.2 473.5,92.9 473.7,80.2 474.0,93.3 474.2,91.1 474.4,92.3 474.6,69.1 474.9,91.1 475.1,81.6 475.3,81.5 475.5,82.7 475.7,96.6 476.0,74.5 476.2,95.3 476.4,87.8 476.6,100.7 476.9,86.4 477.1,87.8 477.3,93.6 477.5,83.7 477.8,88.0 478.0,81.6 478.2,80.2 478.4,81.6 478.6,87.3 478.9,88.0 479.1,78.5 479.3,86.1 479.5,88.6 479.8,69.0 480.0,73.2 480.2,57.2 480.4,68.6 480.6,90.1 480.9,72.1 481.1,84.0 481.3,76.9 481.5,82.6 481.8,71.3 482.0,79.3 482.2,102.7 482.4,74.5 482.6,76.4 482.9,78.3 483.1,80.9 483.3,72.7 483.5,77.6 483.8,71.5 484.0,80.9 484.2,90.6 484.4,87.3 484.6,71.9 484.9,82.6 485.1,85.3 485.3,83.2 485.5,87.3 485.8,69.7 486.0,75.5 486.2,85.8 486.4,68.6 486.7,72.9 486.9,85.3 487.1,82.5 487.3,68.8 487.5,78.2 487.8,78.2 488.0,86.9 488.2,89.1 488.4,82.7 488.7,71.1 488.9,70.8 489.1,78.9 489.3,74.5 489.5,89.8 489.8,83.1 490.0,83.7 490.2,81.9 490.4,71.3 490.7,82.0 490.9,79.5 491.1,86.3 491.3,71.0 491.5,80.9 491.8,92.6 492.0,85.0 492.2,76.3 492.4,75.5 492.7,90.4 492.9,90.3 493.1,83.6 493.3,79.2 493.5,89.6 493.8,92.6 494.0,81.5 494.2,104.9 494.4,79.7 494.7,98.7 494.9,70.4 495.1,88.5 495.3,91.0 495.6,77.3 495.8,86.6 496.0,89.1 496.2,83.3 496.4,74.0 496.7,88.6 496.9,79.7 497.1,86.4 497.3,83.5 497.6,105.6 497.8,86.1 498.0,84.0 498.2,99.6 498.4,74.3 498.7,85.1 498.9,96.5 499.1,98.3 499.3,103.2 499.6,96.0 499.8,97.9 500.0,75.4 500.2,89.4 500.4,97.3 500.7,100.6 500.9,81.3 501.1,96.9 501.3,85.9 501.6,87.5 501.8,93.8 502.0,98.3 502.2,84.6 502.5,85.9 502.7,75.6 502.9,93.9 503.1,90.7 503.3,68.1 503.6,79.8 503.8,99.2 504.0,80.2 504.2,81.1 504.5,72.9 504.7,83.4 504.9,75.2 505.1,85.5 505.3,87.5 505.6,91.3 505.8,87.3 506.0,94.7 506.2,100.6 506.5,89.2 506.7,101.9 506.9,92.9 507.1,85.8 507.3,88.7 507.6,105.4 507.8,67.1 508.0,85.8 508.2,94.2 508.5,88.7 508.7,77.8 508.9,93.7 509.1,76.4 509.3,79.4 509.6,87.4 509.8,78.6 510.0,87.8 510.2,74.0 510.5,67.4 510.7,82.2 510.9,74.6 511.1,66.8 511.4,75.0 511.6,80.9 511.8,85.4 512.0,66.8 512.2,87.6 512.5,99.6 512.7,89.7 512.9,74.1 513.1,96.5 513.4,89.4 513.6,91.5 513.8,78.2 514.0,93.8 514.2,101.3 514.5,85.9 514.7,84.1 514.9,90.5 515.1,77.6 515.4,83.4 515.6,82.8 515.8,87.7 516.0,72.0 516.2,103.7 516.5,81.9 516.7,74.2 516.9,70.3 517.1,89.2 517.4,81.6 517.6,87.1 517.8,71.8 518.0,75.5 518.3,76.9 518.5,90.8 518.7,87.9 518.9,91.0 519.1,90.6 519.4,83.3 519.6,90.5 519.8,84.0 520.0,93.6 520.3,88.3 520.5,91.7 520.7,69.3 520.9,83.5 521.1,84.2 521.4,91.3 521.6,89.8 521.8,75.7 522.0,91.6 522.3,92.4 522.5,79.4 522.7,81.1 522.9,97.3 523.1,89.5 523.4,83.1 523.6,77.3 523.8,87.6 524.0,82.7 524.3,92.6 524.5,78.5 524.7,81.3 524.9,93.2 525.1,80.5 525.4,75.5 525.6,79.6 525.8,81.8 526.0,79.5 526.3,84.8 526.5,83.2 526.7,87.7 526.9,85.5 527.2,88.9 527.4,80.5 527.6,97.3 527.8,68.1 528.0,94.8 528.3,93.9 528.5,87.6 528.7,89.2 528.9,91.6 529.2,76.1 529.4,77.9 529.6,97.0 529.8,90.7 530.0,84.1 530.3,88.7 530.5,75.7 530.7,67.1 530.9,85.3 531.2,75.5 531.4,78.7 531.6,78.1 531.8,81.0 532.0,77.9 532.3,81.9 532.5,70.7 532.7,83.6 532.9,78.3 533.2,88.7 533.4,97.1 533.6,94.3 533.8,90.0 534.1,94.0 534.3,78.9 534.5,93.6 534.7,95.2 534.9,88.8 535.2,88.5 535.4,80.9 535.6,93.1 535.8,101.6 536.1,96.9 536.3,102.4 536.5,79.1 536.7,83.7 536.9,89.9 537.2,79.2 537.4,83.8 537.6,87.7 537.8,87.1 538.1,100.6 538.3,73.5 538.5,84.6 538.7,98.5 538.9,92.8 539.2,76.6 539.4,74.6 539.6,89.9 539.8,99.3 540.1,80.2 540.3,91.0 540.5,69.0 540.7,82.6 540.9,85.5 541.2,80.3 541.4,90.8 541.6,78.8 541.8,75.7 542.1,75.7 542.3,77.4 542.5,90.1 542.7,86.7 543.0,86.0 543.2,72.7 543.4,89.4 543.6,85.8 543.8,76.9 544.1,99.4 544.3,71.7 544.5,91.5 544.7,70.5 545.0,87.2 545.2,82.5 545.4,72.1 545.6,93.3 545.8,84.9 546.1,69.9 546.3,72.4 546.5,82.9 546.7,68.9 547.0,88.2 547.2,77.8 547.4,66.4 547.6,67.8 547.8,86.3 548.1,72.0 548.3,74.0 548.5,71.7 548.7,69.6 549.0,80.7 549.2,63.3 549.4,86.7 549.6,77.0 549.8,83.2 550.1,79.2 550.3,84.3 550.5,67.4 550.7,81.8 551.0,73.5 551.2,67.1 551.4,86.3 551.6,86.9 551.9,77.4 552.1,88.9 552.3,96.0 552.5,95.6 552.7,70.8 553.0,77.2 553.2,82.0 553.4,81.0 553.6,78.0 553.9,68.7 554.1,85.0 554.3,68.4 554.5,84.4 554.7,83.1 555.0,70.4 555.2,87.1 555.4,85.1 555.6,79.4 555.9,74.3 556.1,81.6 556.3,70.2 556.5,82.7 556.7,79.6 557.0,82.8 557.2,85.2 557.4,77.0 557.6,85.8 557.9,83.3 558.1,60.4 558.3,84.7 558.5,69.0 558.8,80.2 559.0,81.0 559.2,75.1 559.4,90.5 559.6,69.2 559.9,66.3 560.1,81.9 560.3,84.5 560.5,80.0 560.8,72.3 561.0,77.6 561.2,94.3 561.4,94.0 561.6,94.5 561.9,78.8 562.1,80.6 562.3,81.2 562.5,63.9 562.8,78.8 563.0,73.2 563.2,59.4 563.4,73.7 563.6,82.0 563.9,72.1 564.1,75.6 564.3,65.2 564.5,85.9 564.8,88.3 565.0,73.4 565.2,87.7 565.4,90.0 565.6,82.8 565.9,91.3 566.1,61.1 566.3,65.2 566.5,86.8 566.8,88.0 567.0,88.3 567.2,67.3 567.4,77.5 567.7,87.0 567.9,79.3 568.1,72.9 568.3,70.5 568.5,74.3 568.8,70.3 569.0,73.1 569.2,83.4 569.4,75.0 569.7,71.6 569.9,65.0 570.1,55.6 570.3,71.9 570.5,76.9 570.8,78.2 571.0,72.6 571.2,73.6 571.4,54.7 571.7,71.5 571.9,67.7 572.1,59.4 572.3,56.4 572.5,33.2 572.8,55.3 573.0,71.8 573.2,63.3 573.4,31.5 573.7,44.7 573.9,67.2 574.1,51.0 574.3,59.5 574.6,68.0 574.8,51.7 575.0,39.0 575.2,19.8 575.4,71.3 575.7,48.3 575.9,49.8 576.1,56.4 576.3,46.9 576.6,59.8 576.8,69.8 577.0,75.0 577.2,39.6 577.4,35.2 577.7,42.2 577.9,76.2 578.1,53.6 578.3,74.0 578.6,30.6 578.8,41.9 579.0,49.9 579.2,62.4 579.4,42.6 579.7,57.1 579.9,58.6 580.1,45.8 580.3,47.4 580.6,54.7 580.8,49.2 581.0,61.8 581.2,60.8 581.4,71.3 581.7,61.7 581.9,39.0 582.1,47.9 582.3,48.1 582.6,27.1 582.8,54.8 583.0,42.7 583.2,58.8 583.5,57.0 583.7,41.8 583.9,55.8 584.1,45.3 584.3,51.9 584.6,63.6 584.8,62.8 585.0,67.5 585.2,60.4 585.5,47.7 585.7,72.5 585.9,60.7 586.1,55.9 586.3,67.9 586.6,68.8 586.8,66.6 587.0,70.5 587.2,49.5 587.5,52.7 587.7,52.1 587.9,68.8 588.1,53.2 588.3,53.1 588.6,28.6 588.8,60.2 589.0,51.7 589.2,38.3 589.5,47.5 589.7,36.6 589.9,17.6 590.1,41.0 590.4,69.7 590.6,62.9 590.8,45.5 591.0,58.4 591.2,51.4 591.5,25.3 591.7,54.0 591.9,52.6 592.1,44.4 592.4,64.5 592.6,38.6 592.8,18.7 593.0,56.4 593.2,50.0 593.5,48.9 593.7,45.7 593.9,29.6 594.1,76.1 594.4,59.6 594.6,61.8 594.8,53.4 595.0,54.4 595.2,23.8 595.5,56.9 595.7,62.4 595.9,69.2 596.1,67.1 596.4,68.9 596.6,68.9 596.8,59.5 597.0,71.3 597.2,69.5 597.5,58.2 597.7,68.6 597.9,70.9 598.1,79.1 598.4,57.4 598.6,63.9 598.8,73.3 599.0,67.0 599.3,56.9 599.5,49.4 599.7,56.4 599.9,61.3 600.1,60.3 600.4,62.6 600.6,60.3 600.8,63.0 601.0,67.8 601.3,69.5 601.5,53.7 601.7,17.9 601.9,55.0 602.1,66.6 602.4,34.8 602.6,68.7 602.8,66.4 603.0,52.1 603.3,60.5 603.5,72.5 603.7,54.8 603.9,62.8 604.1,81.3 604.4,54.0 604.6,65.5 604.8,77.3 605.0,54.7 605.3,55.6 605.5,76.8 605.7,50.0 605.9,36.5 606.2,71.0 606.4,68.1 606.6,74.4 606.8,65.4 607.0,82.8 607.3,81.4 607.5,77.0 607.7,63.7 607.9,84.2 608.2,79.3 608.4,74.4 608.6,82.5 608.8,79.4 609.0,75.2 609.3,64.6 609.5,73.3 609.7,67.5 609.9,71.6 610.2,77.3 610.4,81.1 610.6,55.2 610.8,90.1 611.0,88.8 611.3,65.8 611.5,65.9 611.7,67.3 611.9,52.7 612.2,66.2 612.4,80.7 612.6,73.5 612.8,86.4 613.0,75.9 613.3,90.9 613.5,74.5 613.7,51.4 613.9,78.2 614.2,91.4 614.4,83.4 614.6,77.6 614.8,65.7 615.1,65.0 615.3,63.1 615.5,95.2 615.7,81.9 615.9,79.5 616.2,91.1 616.4,62.4 616.6,86.6 616.8,77.3 617.1,92.5 617.3,85.5 617.5,83.3 617.7,85.2 617.9,82.4 618.2,70.9 618.4,91.9 618.6,84.3 618.8,59.4 619.1,73.8 619.3,88.6 619.5,70.4 619.7,76.9 619.9,62.5 620.2,66.9 620.4,35.5 620.6,67.9 620.8,73.8 621.1,75.6 621.3,58.8 621.5,66.5 621.7,68.8 621.9,92.0 622.2,87.9 622.4,75.3 622.6,82.0 622.8,61.5 623.1,65.8 623.3,57.9 623.5,70.3 623.7,86.9 624.0,62.3 624.2,34.4 624.4,87.7 624.6,88.5 624.8,84.7 625.1,82.2 625.3,60.3 625.5,89.9 625.7,85.9 626.0,89.2 626.2,97.4 626.4,88.2 626.6,94.5 626.8,77.5 627.1,99.6 627.3,80.9 627.5,78.6 627.7,70.8 628.0,99.7 628.2,76.8 628.4,71.2 628.6,76.5 628.8,76.3 629.1,75.5 629.3,84.5 629.5,84.4 629.7,93.7 630.0,70.2 630.2,85.8 630.4,70.7 630.6,70.6 630.9,77.5 631.1,80.6 631.3,85.1 631.5,76.7 631.7,76.5 632.0,68.9 632.2,97.8 632.4,76.7 632.6,75.2 632.9,89.0 633.1,92.7 633.3,100.9 633.5,69.8 633.7,82.7 634.0,88.8 634.2,77.2 634.4,72.7 634.6,72.2 634.9,81.7 635.1,84.4 635.3,82.5 635.5,77.7 635.7,77.8 636.0,88.2 636.2,94.1 636.4,84.4 636.6,89.3 636.9,94.4 637.1,78.0 637.3,93.4 637.5,74.3 637.7,74.6 638.0,77.7 638.2,79.5 638.4,78.7 638.6,78.5 638.9,74.8 639.1,81.5 639.3,81.4 639.5,97.1 639.8,96.9 640.0,84.3 640.2,81.5 640.4,90.6 640.6,98.2 640.9,85.6 641.1,80.4 641.3,81.6 641.5,77.5 641.8,76.1 642.0,83.1 642.2,83.8"/>
<line x1="380.00" y1="16.20" x2="380.00" y2="178.90" stroke="#999" stroke-width="1.3"/>
<line x1="377.20" y1="178.40" x2="650.00" y2="178.40" stroke="#555" stroke-width="1.1"/>
<line x1="377.00" y1="178.30" x2="380.00" y2="178.30" stroke="#444" stroke-width="1"/>
<line x1="378.40" y1="169.12" x2="380.00" y2="169.12" stroke="#444" stroke-width="1"/>
<line x1="377.00" y1="159.95" x2="380.00" y2="159.95" stroke="#444" stroke-width="1"/>
<line x1="378.40" y1="150.78" x2="380.00" y2="150.78" stroke="#444" stroke-width="1"/>
<line x1="377.00" y1="141.60" x2="380.00" y2="141.60" stroke="#444" stroke-width="1"/>
<line x1="378.40" y1="132.43" x2="380.00" y2="132.43" stroke="#444" stroke-width="1"/>
<line x1="377.00" y1="123.25" x2="380.00" y2="123.25" stroke="#444" stroke-width="1"/>
<line x1="378.40" y1="114.08" x2="380.00" y2="114.08" stroke="#444" stroke-width="1"/>
<line x1="377.00" y1="104.90" x2="380.00" y2="104.90" stroke="#444" stroke-width="1"/>
<line x1="378.40" y1="95.73" x2="380.00" y2="95.73" stroke="#444" stroke-width="1"/>
<line x1="377.00" y1="86.55" x2="380.00" y2="86.55" stroke="#444" stroke-width="1"/>
<line x1="378.40" y1="77.38" x2="380.00" y2="77.38" stroke="#444" stroke-width="1"/>
<line x1="377.00" y1="68.20" x2="380.00" y2="68.20" stroke="#444" stroke-width="1"/>
<line x1="378.40" y1="59.03" x2="380.00" y2="59.03" stroke="#444" stroke-width="1"/>
<line x1="377.00" y1="49.85" x2="380.00" y2="49.85" stroke="#444" stroke-width="1"/>
<line x1="378.40" y1="40.68" x2="380.00" y2="40.68" stroke="#444" stroke-width="1"/>
<line x1="377.00" y1="31.50" x2="380.00" y2="31.50" stroke="#444" stroke-width="1"/>
<line x1="378.40" y1="22.32" x2="380.00" y2="22.32" stroke="#444" stroke-width="1"/>
<line x1="385.40" y1="178.40" x2="385.40" y2="182.60" stroke="#666" stroke-width="1"/>
<line x1="411.08" y1="178.40" x2="411.08" y2="180.40" stroke="#666" stroke-width="1"/>
<line x1="436.76" y1="178.40" x2="436.76" y2="182.60" stroke="#666" stroke-width="1"/>
<line x1="462.44" y1="178.40" x2="462.44" y2="180.40" stroke="#666" stroke-width="1"/>
<line x1="488.12" y1="178.40" x2="488.12" y2="182.60" stroke="#666" stroke-width="1"/>
<line x1="513.80" y1="178.40" x2="513.80" y2="180.40" stroke="#666" stroke-width="1"/>
<line x1="539.48" y1="178.40" x2="539.48" y2="182.60" stroke="#666" stroke-width="1"/>
<line x1="565.16" y1="178.40" x2="565.16" y2="180.40" stroke="#666" stroke-width="1"/>
<line x1="590.84" y1="178.40" x2="590.84" y2="182.60" stroke="#666" stroke-width="1"/>
<line x1="616.52" y1="178.40" x2="616.52" y2="180.40" stroke="#666" stroke-width="1"/>
<line x1="642.20" y1="178.40" x2="642.20" y2="182.60" stroke="#666" stroke-width="1"/>
<rect x="652.90" y="1.90" width="30.40" height="17.60" fill="#fff" stroke="#c4c4c4" stroke-width="1"/>
<line x1="657.10" y1="5.30" x2="663.70" y2="5.30" stroke="#000" stroke-width="2.6" stroke-linecap="round"/>
<line x1="657.10" y1="11.00" x2="663.70" y2="11.00" stroke="#f00" stroke-width="2.6" stroke-linecap="round"/>
<line x1="657.10" y1="16.90" x2="663.70" y2="16.90" stroke="#00f" stroke-width="2.6" stroke-linecap="round"/>
<polyline fill="none" stroke="#000" stroke-width="2.2" stroke-linejoin="round" points="49.9,300.3 50.2,309.3 50.5,288.4 50.8,287.3 51.1,274.5 51.4,303.5 51.7,285.4 52.1,275.2 52.4,279.0 52.7,286.2 53.0,292.0 53.3,267.8 53.6,288.6 53.9,274.8 54.3,270.8 54.6,273.4 54.9,288.1 55.2,276.8 55.5,283.6 55.8,287.5 56.1,276.7 56.4,295.8 56.8,297.1 57.1,282.7 57.4,294.2 57.7,270.4 58.0,289.1 58.3,300.3 58.6,283.2 59.0,290.6 59.3,289.5 59.6,278.0 59.9,285.9 60.2,287.6 60.5,272.5 60.8,295.6 61.1,281.8 61.5,282.4 61.8,281.9 62.1,293.1 62.4,292.9 62.7,281.7 63.0,297.5 63.3,283.7 63.7,300.9 64.0,294.1 64.3,301.8 64.6,298.8 64.9,295.6 65.2,296.3 65.5,290.2 65.8,298.0 66.2,295.4 66.5,295.1 66.8,294.2 67.1,300.6 67.4,295.4 67.7,299.9 68.0,286.3 68.3,278.7 68.7,289.9 69.0,281.1 69.3,301.3 69.6,302.1 69.9,291.7 70.2,276.8 70.5,300.9 70.9,272.2 71.2,300.7 71.5,293.1 71.8,285.5 72.1,303.4 72.4,280.0 72.7,276.2 73.0,298.9 73.4,286.6 73.7,295.6 74.0,282.8 74.3,288.7 74.6,280.4 74.9,293.9 75.2,287.8 75.6,288.1 75.9,282.6 76.2,278.1 76.5,300.7 76.8,274.9 77.1,297.0 77.4,292.6 77.7,295.8 78.1,293.7 78.4,285.1 78.7,294.2 79.0,294.2 79.3,296.5 79.6,291.6 79.9,293.3 80.3,277.1 80.6,297.3 80.9,280.2 81.2,291.0 81.5,274.3 81.8,274.9 82.1,289.2 82.4,296.0 82.8,292.8 83.1,303.5 83.4,278.8 83.7,288.5 84.0,280.2 84.3,282.9 84.6,290.5 85.0,285.2 85.3,286.7 85.6,287.4 85.9,290.2 86.2,287.1 86.5,299.0 86.8,291.9 87.1,289.6 87.5,298.3 87.8,302.6 88.1,282.3 88.4,282.5 88.7,298.7 89.0,272.7 89.3,279.6 89.7,297.3 90.0,289.2 90.3,284.6 90.6,286.5 90.9,297.1 91.2,274.3 91.5,288.3 91.8,285.0 92.2,285.4 92.5,298.0 92.8,291.9 93.1,282.9 93.4,286.4 93.7,292.5 94.0,292.8 94.4,282.0 94.7,289.5 95.0,280.4 95.3,293.9 95.6,294.6 95.9,286.9 96.2,285.1 96.5,287.5 96.9,283.6 97.2,276.7 97.5,287.4 97.8,277.8 98.1,278.3 98.4,284.0 98.7,299.8 99.1,293.8 99.4,283.2 99.7,290.5 100.0,286.3 100.3,279.4 100.6,275.5 100.9,273.1 101.2,272.8 101.6,271.7 101.9,271.3 102.2,283.8 102.5,270.6 102.8,282.7 103.1,282.6 103.4,281.6 103.8,274.8 104.1,280.6 104.4,284.6 104.7,288.0 105.0,301.6 105.3,299.6 105.6,304.6 105.9,287.6 106.3,290.3 106.6,281.4 106.9,286.9 107.2,291.9 107.5,301.9 107.8,299.7 108.1,292.7 108.5,285.5 108.8,290.8 109.1,297.8 109.4,297.3 109.7,281.6 110.0,288.0 110.3,279.9 110.6,300.0 111.0,276.0 111.3,286.2 111.6,286.2 111.9,303.9 112.2,290.0 112.5,276.8 112.8,273.1 113.2,292.8 113.5,288.2 113.8,279.3 114.1,274.5 114.4,284.4 114.7,267.8 115.0,277.2 115.3,293.7 115.7,296.1 116.0,270.4 116.3,280.0 116.6,304.6 116.9,287.9 117.2,279.2 117.5,287.2 117.9,287.4 118.2,294.2 118.5,263.5 118.8,296.6 119.1,275.7 119.4,283.7 119.7,265.5 120.0,284.7 120.4,288.8 120.7,277.3 121.0,282.8 121.3,273.4 121.6,282.2 121.9,275.4 122.2,295.7 122.5,272.7 122.9,268.6 123.2,287.1 123.5,261.7 123.8,271.8 124.1,274.1 124.4,278.9 124.7,260.9 125.1,294.4 125.4,270.6 125.7,277.8 126.0,292.5 126.3,272.7 126.6,289.9 126.9,264.9 127.2,275.5 127.6,291.7 127.9,285.5 128.2,270.0 128.5,282.1 128.8,301.1 129.1,281.7 129.4,284.8 129.8,276.0 130.1,289.7 130.4,293.0 130.7,271.0 131.0,272.5 131.3,273.4 131.6,284.2 131.9,268.6 132.3,266.8 132.6,281.6 132.9,273.3 133.2,273.0 133.5,273.2 133.8,269.9 134.1,277.8 134.5,279.0 134.8,288.2 135.1,261.6 135.4,264.3 135.7,271.5 136.0,270.5 136.3,272.3 136.6,266.1 137.0,271.1 137.3,279.7 137.6,294.0 137.9,292.9 138.2,268.6 138.5,276.7 138.8,262.6 139.2,261.3 139.5,268.5 139.8,282.5 140.1,265.4 140.4,265.3 140.7,268.7 141.0,276.1 141.3,273.6 141.7,268.7 142.0,274.5 142.3,283.4 142.6,274.1 142.9,285.0 143.2,282.4 143.5,266.5 143.9,285.1 144.2,289.1 144.5,288.4 144.8,294.8 145.1,285.4 145.4,279.5 145.7,274.4 146.0,285.4 146.4,289.1 146.7,273.2 147.0,292.4 147.3,276.3 147.6,288.0 147.9,288.5 148.2,272.3 148.6,286.4 148.9,282.0 149.2,282.6 149.5,287.6 149.8,282.7 150.1,280.2 150.4,272.5 150.7,275.1 151.1,273.3 151.4,276.2 151.7,286.0 152.0,277.2 152.3,269.4 152.6,279.5 152.9,281.1 153.3,279.9 153.6,292.4 153.9,273.9 154.2,290.9 154.5,297.7 154.8,272.0 155.1,288.4 155.4,284.5 155.8,279.5 156.1,292.2 156.4,280.6 156.7,271.3 157.0,273.1 157.3,290.0 157.6,280.5 158.0,273.1 158.3,273.2 158.6,290.9 158.9,273.3 159.2,295.6 159.5,300.5 159.8,299.6 160.1,295.1 160.5,283.2 160.8,294.4 161.1,289.2 161.4,286.4 161.7,293.4 162.0,279.7 162.3,285.1 162.7,276.3 163.0,297.0 163.3,286.2 163.6,301.9 163.9,277.9 164.2,285.9 164.5,278.6 164.8,275.5 165.2,281.5 165.5,271.0 165.8,274.3 166.1,282.2 166.4,283.6 166.7,294.8 167.0,291.9 167.4,278.4 167.7,288.6 168.0,284.4 168.3,306.4 168.6,281.4 168.9,291.0 169.2,275.6 169.5,288.0 169.9,297.7 170.2,306.1 170.5,297.9 170.8,298.0 171.1,286.8 171.4,285.4 171.7,280.8 172.1,287.3 172.4,283.3 172.7,285.9 173.0,275.7 173.3,300.8 173.6,284.4 173.9,290.8 174.2,288.9 174.6,309.8 174.9,293.7 175.2,284.4 175.5,278.9 175.8,296.3 176.1,292.9 176.4,284.7 176.7,301.3 177.1,309.4 177.4,300.8 177.7,295.8 178.0,299.2 178.3,302.5 178.6,300.8 178.9,286.8 179.3,291.5 179.6,291.8 179.9,295.7 180.2,301.5 180.5,295.8 180.8,296.4 181.1,306.0 181.4,298.4 181.8,307.6 182.1,304.9 182.4,310.6 182.7,307.6 183.0,313.4 183.3,304.3 183.6,313.9 184.0,305.9 184.3,289.3 184.6,288.8 184.9,285.9 185.2,306.2 185.5,294.3 185.8,293.3 186.1,300.1 186.5,309.5 186.8,289.0 187.1,308.6 187.4,316.7 187.7,298.4 188.0,297.0 188.3,305.7 188.7,292.5 189.0,290.7 189.3,298.7 189.6,300.6 189.9,287.9 190.2,312.6 190.5,284.7 190.8,301.3 191.2,296.0 191.5,297.5 191.8,283.2 192.1,292.4 192.4,290.7 192.7,298.3 193.0,297.9 193.4,288.9 193.7,313.3 194.0,292.5 194.3,282.6 194.6,303.2 194.9,304.4 195.2,297.8 195.5,299.7 195.9,297.6 196.2,292.5 196.5,318.2 196.8,289.1 197.1,284.5 197.4,292.5 197.7,296.5 198.1,291.4 198.4,306.7 198.7,306.6 199.0,298.3 199.3,289.5 199.6,290.7 199.9,290.9 200.2,312.7 200.6,312.1 200.9,283.4 201.2,284.6 201.5,282.5 201.8,290.7 202.1,293.9 202.4,287.0 202.8,281.4 203.1,284.3 203.4,290.6 203.7,286.1 204.0,284.5 204.3,284.4 204.6,301.4 204.9,295.5 205.3,279.3 205.6,283.9 205.9,286.5 206.2,285.1 206.5,284.5 206.8,288.8 207.1,282.1 207.5,284.9 207.8,304.0 208.1,281.2 208.4,288.3 208.7,283.9 209.0,293.4 209.3,284.4 209.6,301.3 210.0,289.4 210.3,286.8 210.6,280.9 210.9,280.9 211.2,302.6 211.5,286.0 211.8,282.9 212.2,277.4 212.5,300.1 212.8,284.0 213.1,291.5 213.4,288.7 213.7,285.1 214.0,286.9 214.3,282.9 214.7,310.9 215.0,286.5 215.3,305.7 215.6,291.1 215.9,291.6 216.2,278.4 216.5,290.2 216.9,279.4 217.2,291.6 217.5,290.3 217.8,296.2 218.1,284.9 218.4,289.0 218.7,285.8 219.0,284.3 219.4,285.0 219.7,300.6 220.0,295.7 220.3,298.3 220.6,278.7 220.9,281.1 221.2,289.3 221.6,291.4 221.9,295.2 222.2,297.8 222.5,302.6 222.8,291.6 223.1,293.4 223.4,284.7 223.7,291.6 224.1,291.0 224.4,283.8 224.7,279.4 225.0,295.7 225.3,280.1 225.6,284.4 225.9,285.5 226.3,288.0 226.6,279.7 226.9,290.1 227.2,297.0 227.5,290.1 227.8,292.1 228.1,280.3 228.4,292.2 228.8,292.9 229.1,287.2 229.4,284.0 229.7,298.3 230.0,301.8 230.3,298.1 230.6,279.1 230.9,288.3 231.3,287.4 231.6,279.6 231.9,283.5 232.2,281.0 232.5,282.9 232.8,288.7 233.1,296.6 233.5,292.5 233.8,281.8 234.1,287.2 234.4,275.6 234.7,288.6 235.0,299.8 235.3,297.5 235.6,298.0 236.0,291.2 236.3,290.5 236.6,293.1 236.9,276.1 237.2,285.9 237.5,290.0 237.8,279.1 238.2,272.9 238.5,288.5 238.8,284.1 239.1,302.7 239.4,274.5 239.7,292.7 240.0,283.0 240.3,285.9 240.7,300.1 241.0,277.1 241.3,285.7 241.6,286.7 241.9,290.0 242.2,284.9 242.5,284.2 242.9,297.0 243.2,278.1 243.5,287.9 243.8,283.4 244.1,283.3 244.4,277.5 244.7,297.8 245.0,284.8 245.4,299.7 245.7,279.0 246.0,284.0 246.3,289.3 246.6,280.5 246.9,286.5 247.2,296.0 247.6,300.5 247.9,294.6 248.2,297.3 248.5,278.7 248.8,279.7 249.1,280.6 249.4,307.0 249.7,281.4 250.1,284.8 250.4,299.5 250.7,300.8 251.0,303.0 251.3,280.7 251.6,298.6 251.9,295.6 252.3,299.3 252.6,296.0 252.9,299.7 253.2,297.5 253.5,276.8 253.8,300.5 254.1,287.7 254.4,289.1 254.8,279.6 255.1,304.5 255.4,296.9 255.7,285.3 256.0,280.0 256.3,288.2 256.6,301.5 257.0,284.8 257.3,275.7 257.6,275.2 257.9,290.3 258.2,281.2 258.5,302.9 258.8,282.5 259.1,282.6 259.5,292.4 259.8,288.6 260.1,282.9 260.4,283.0 260.7,287.0 261.0,283.9 261.3,290.3 261.7,284.8 262.0,294.4 262.3,301.1 262.6,279.6 262.9,300.5 263.2,284.7 263.5,284.3 263.8,277.7 264.2,289.5 264.5,285.4 264.8,280.8 265.1,279.6 265.4,282.8 265.7,292.6 266.0,287.6 266.4,292.1 266.7,291.1 267.0,286.8 267.3,305.5 267.6,286.0 267.9,284.7 268.2,292.1 268.5,279.2 268.9,291.2 269.2,285.9 269.5,282.5 269.8,294.1 270.1,287.4 270.4,289.6 270.7,282.5 271.1,295.5 271.4,290.7 271.7,287.8 272.0,290.7 272.3,300.1 272.6,305.4 272.9,286.5 273.2,287.0 273.6,282.8 273.9,285.1 274.2,289.1 274.5,282.1 274.8,279.8 275.1,290.0 275.4,286.6 275.8,286.3 276.1,294.6 276.4,288.3 276.7,302.7 277.0,297.2 277.3,300.8 277.6,299.0 277.9,298.8 278.3,297.6 278.6,302.3 278.9,299.8 279.2,298.5 279.5,305.8 279.8,283.9 280.1,282.9 280.5,304.8 280.8,298.8 281.1,302.7 281.4,303.4 281.7,281.9 282.0,301.5 282.3,308.0 282.6,297.6 283.0,300.4 283.3,303.4 283.6,309.7 283.9,304.0 284.2,301.6 284.5,308.0 284.8,309.4 285.1,303.0 285.5,303.4 285.8,281.6 286.1,306.1 286.4,303.0 286.7,292.9 287.0,298.6 287.3,300.0 287.7,294.0 288.0,288.6 288.3,302.7 288.6,286.9 288.9,301.0 289.2,304.0 289.5,307.4 289.8,293.5 290.2,290.8 290.5,302.9 290.8,292.8 291.1,290.3 291.4,287.4 291.7,292.5 292.0,290.9 292.4,298.9 292.7,303.4 293.0,293.9 293.3,301.5 293.6,284.4 293.9,289.5 294.2,296.1"/>
<polyline fill="none" stroke="#f00" stroke-width="2.2" stroke-linejoin="round" points="49.6,323.8 49.9,324.5 50.3,324.6 50.6,314.9 50.9,314.6 51.2,315.6 51.5,326.0 51.8,313.1 52.1,302.2 52.5,310.1 52.8,308.4 53.1,296.3 53.4,318.9 53.7,314.0 54.0,303.4 54.3,295.7 54.6,297.5 55.0,311.9 55.3,298.3 55.6,307.6 55.9,302.6 56.2,312.9 56.5,300.1 56.8,308.9 57.1,304.2 57.5,313.0 57.8,298.1 58.1,304.3 58.4,290.1 58.7,294.3 59.0,306.1 59.3,292.1 59.7,289.8 60.0,303.0 60.3,307.3 60.6,296.9 60.9,308.3 61.2,300.0 61.5,311.1 61.8,299.7 62.2,294.4 62.5,306.0 62.8,302.5 63.1,287.8 63.4,298.9 63.7,288.2 64.0,288.8 64.4,287.0 64.7,316.1 65.0,302.1 65.3,293.6 65.6,308.1 65.9,299.0 66.2,306.6 66.5,301.5 66.9,310.1 67.2,308.1 67.5,292.5 67.8,289.5 68.1,315.1 68.4,294.5 68.7,293.6 69.0,295.4 69.4,287.1 69.7,301.0 70.0,307.9 70.3,310.6 70.6,299.2 70.9,285.6 71.2,300.0 71.6,294.3 71.9,305.1 72.2,286.1 72.5,313.3 72.8,309.0 73.1,295.1 73.4,294.5 73.7,302.7 74.1,297.3 74.4,314.2 74.7,304.6 75.0,299.8 75.3,316.9 75.6,312.8 75.9,320.9 76.3,300.7 76.6,308.0 76.9,298.9 77.2,307.2 77.5,304.3 77.8,310.2 78.1,301.4 78.4,306.2 78.8,300.2 79.1,305.3 79.4,307.7 79.7,287.8 80.0,308.1 80.3,306.5 80.6,299.0 81.0,319.5 81.3,307.3 81.6,317.9 81.9,312.0 82.2,314.7 82.5,304.5 82.8,273.1 83.1,296.8 83.5,308.8 83.8,307.9 84.1,308.0 84.4,306.3 84.7,290.3 85.0,297.5 85.3,303.0 85.6,306.6 86.0,302.9 86.3,295.4 86.6,312.7 86.9,300.0 87.2,300.6 87.5,305.4 87.8,300.2 88.2,302.6 88.5,304.2 88.8,306.6 89.1,312.6 89.4,309.7 89.7,307.1 90.0,299.5 90.3,304.9 90.7,300.3 91.0,306.6 91.3,314.0 91.6,286.7 91.9,290.5 92.2,303.5 92.5,295.4 92.9,312.8 93.2,287.5 93.5,292.2 93.8,312.1 94.1,294.7 94.4,293.5 94.7,298.9 95.0,293.7 95.4,293.8 95.7,290.3 96.0,299.5 96.3,315.0 96.6,298.0 96.9,303.1 97.2,292.7 97.6,290.6 97.9,291.2 98.2,291.2 98.5,293.0 98.8,301.5 99.1,285.7 99.4,293.3 99.7,295.0 100.1,294.8 100.4,297.0 100.7,301.7 101.0,293.0 101.3,293.1 101.6,290.5 101.9,305.7 102.2,298.2 102.6,290.0 102.9,286.1 103.2,300.0 103.5,286.7 103.8,307.6 104.1,311.3 104.4,308.8 104.8,292.4 105.1,294.7 105.4,291.0 105.7,293.5 106.0,284.8 106.3,313.3 106.6,295.6 106.9,295.2 107.3,288.7 107.6,294.2 107.9,303.3 108.2,288.0 108.5,293.5 108.8,296.2 109.1,288.2 109.5,315.6 109.8,299.1 110.1,287.9 110.4,304.5 110.7,300.7 111.0,297.2 111.3,296.1 111.6,286.6 112.0,288.4 112.3,289.1 112.6,297.0 112.9,292.6 113.2,296.0 113.5,300.0 113.8,288.0 114.1,300.8 114.5,297.0 114.8,292.5 115.1,298.0 115.4,292.8 115.7,300.2 116.0,293.2 116.3,303.1 116.7,287.0 117.0,293.8 117.3,291.1 117.6,304.6 117.9,289.6 118.2,294.4 118.5,304.7 118.8,282.9 119.2,296.1 119.5,296.4 119.8,303.8 120.1,304.9 120.4,309.7 120.7,294.6 121.0,286.7 121.4,303.2 121.7,292.4 122.0,305.0 122.3,293.3 122.6,290.2 122.9,299.4 123.2,294.7 123.5,291.1 123.9,294.0 124.2,292.8 124.5,287.9 124.8,302.8 125.1,287.4 125.4,291.6 125.7,289.9 126.1,283.5 126.4,305.1 126.7,299.1 127.0,299.5 127.3,289.8 127.6,309.2 127.9,303.2 128.2,309.7 128.6,288.5 128.9,294.1 129.2,300.4 129.5,298.6 129.8,313.0 130.1,285.6 130.4,291.4 130.7,256.4 131.1,293.3 131.4,297.0 131.7,301.1 132.0,295.6 132.3,291.6 132.6,312.3 132.9,308.3 133.3,298.4 133.6,296.4 133.9,305.8 134.2,309.2 134.5,310.4 134.8,305.5 135.1,306.7 135.4,303.6 135.8,310.8 136.1,295.1 136.4,308.7 136.7,310.0 137.0,309.6 137.3,306.5 137.6,295.5 138.0,302.7 138.3,286.3 138.6,299.3 138.9,305.0 139.2,303.7 139.5,304.2 139.8,304.6 140.1,310.8 140.5,294.2 140.8,298.3 141.1,293.9 141.4,305.9 141.7,306.8 142.0,295.4 142.3,291.0 142.6,290.4 143.0,311.2 143.3,293.2 143.6,291.7 143.9,305.3 144.2,299.0 144.5,299.2 144.8,309.2 145.2,305.2 145.5,315.6 145.8,306.0 146.1,300.4 146.4,303.8 146.7,300.6 147.0,299.7 147.3,290.0 147.7,306.6 148.0,317.2 148.3,315.7 148.6,302.4 148.9,289.1 149.2,268.6 149.5,295.5 149.9,314.0 150.2,313.8 150.5,294.4 150.8,300.0 151.1,307.5 151.4,289.4 151.7,311.5 152.0,298.6 152.4,295.3 152.7,299.1 153.0,305.2 153.3,296.4 153.6,311.7 153.9,312.1 154.2,305.8 154.6,309.9 154.9,294.3 155.2,302.9 155.5,294.0 155.8,301.3 156.1,296.2 156.4,302.7 156.7,311.1 157.1,310.9 157.4,298.4 157.7,302.7 158.0,312.4 158.3,294.8 158.6,290.8 158.9,289.6 159.2,294.4 159.6,292.3 159.9,322.9 160.2,292.3 160.5,310.3 160.8,302.1 161.1,317.4 161.4,313.9 161.8,309.6 162.1,311.6 162.4,309.9 162.7,297.8 163.0,320.3 163.3,301.2 163.6,300.3 163.9,309.7 164.3,315.2 164.6,298.1 164.9,298.4 165.2,312.2 165.5,299.1 165.8,299.2 166.1,299.8 166.5,297.7 166.8,298.4 167.1,297.8 167.4,316.2 167.7,304.7 168.0,308.8 168.3,306.0 168.6,289.8 169.0,297.9 169.3,292.6 169.6,312.0 169.9,290.0 170.2,298.2 170.5,291.5 170.8,289.2 171.2,304.4 171.5,303.2 171.8,296.6 172.1,315.2 172.4,308.4 172.7,312.6 173.0,297.3 173.3,299.0 173.7,292.2 174.0,312.2 174.3,306.5 174.6,319.2 174.9,294.2 175.2,305.8 175.5,294.0 175.8,303.6 176.2,301.5 176.5,303.2 176.8,299.1 177.1,296.2 177.4,294.9 177.7,294.8 178.0,317.5 178.4,312.3 178.7,304.5 179.0,303.6 179.3,295.5 179.6,306.8 179.9,308.5 180.2,303.8 180.5,293.8 180.9,298.7 181.2,311.0 181.5,312.7 181.8,302.0 182.1,293.1 182.4,310.5 182.7,301.0 183.1,290.3 183.4,293.0 183.7,317.9 184.0,294.5 184.3,293.7 184.6,297.7 184.9,289.9 185.2,300.8 185.6,288.1 185.9,295.9 186.2,286.4 186.5,301.9 186.8,304.3 187.1,295.1 187.4,290.8 187.7,293.3 188.1,296.9 188.4,293.3 188.7,296.9 189.0,299.9 189.3,311.7 189.6,290.8 189.9,291.8 190.3,290.7 190.6,295.8 190.9,288.3 191.2,295.6 191.5,296.8 191.8,295.8 192.1,294.4 192.4,289.6 192.8,291.0 193.1,300.9 193.4,294.0 193.7,288.2 194.0,294.3 194.3,295.1 194.6,289.0 195.0,294.4 195.3,293.7 195.6,296.4 195.9,289.6 196.2,292.4 196.5,305.1 196.8,299.4 197.1,293.5 197.5,304.0 197.8,295.5 198.1,300.8 198.4,288.0 198.7,286.3 199.0,288.9 199.3,298.6 199.7,299.9 200.0,306.4 200.3,294.6 200.6,291.8 200.9,307.6 201.2,300.4 201.5,298.0 201.8,285.7 202.2,297.7 202.5,292.1 202.8,299.2 203.1,297.6 203.4,297.6 203.7,295.3 204.0,295.0 204.3,300.9 204.7,301.0 205.0,290.8 205.3,299.1 205.6,295.6 205.9,299.5 206.2,303.2 206.5,300.8 206.9,293.1 207.2,289.4 207.5,303.7 207.8,298.5 208.1,302.0 208.4,303.9 208.7,296.1 209.0,300.9 209.4,299.9 209.7,294.8 210.0,304.9 210.3,296.0 210.6,290.5 210.9,301.9 211.2,294.4 211.6,294.6 211.9,300.5 212.2,312.9 212.5,305.1 212.8,306.7 213.1,300.6 213.4,302.6 213.7,306.4 214.1,294.5 214.4,302.1 214.7,303.1 215.0,281.0 215.3,306.4 215.6,286.8 215.9,280.8 216.3,307.4 216.6,294.3 216.9,308.1 217.2,295.0 217.5,288.3 217.8,291.2 218.1,283.0 218.4,288.5 218.8,299.4 219.1,302.7 219.4,306.9 219.7,303.4 220.0,299.4 220.3,297.3 220.6,305.2 220.9,304.5 221.3,299.5 221.6,294.5 221.9,299.4 222.2,302.4 222.5,297.5 222.8,289.5 223.1,305.2 223.5,283.7 223.8,292.8 224.1,288.1 224.4,309.3 224.7,299.3 225.0,291.0 225.3,296.7 225.6,302.7 226.0,290.7 226.3,287.1 226.6,290.8 226.9,306.1 227.2,295.8 227.5,299.7 227.8,293.5 228.2,299.4 228.5,298.2 228.8,292.1 229.1,304.7 229.4,301.9 229.7,296.5 230.0,292.5 230.3,301.2 230.7,296.9 231.0,293.5 231.3,295.8 231.6,292.1 231.9,298.5 232.2,298.9 232.5,293.1 232.8,288.4 233.2,297.8 233.5,309.1 233.8,292.9 234.1,298.7 234.4,294.5 234.7,296.9 235.0,298.3 235.4,306.4 235.7,295.3 236.0,298.9 236.3,303.4 236.6,294.9 236.9,298.2 237.2,287.4 237.5,303.1 237.9,294.7 238.2,298.0 238.5,294.7 238.8,303.3 239.1,301.4 239.4,302.2 239.7,292.7 240.1,298.9 240.4,289.6 240.7,294.0 241.0,293.3 241.3,299.8 241.6,294.8 241.9,295.4 242.2,300.4 242.6,294.7 242.9,286.4 243.2,308.8 243.5,301.7 243.8,308.9 244.1,298.0 244.4,300.0 244.8,299.1 245.1,305.2 245.4,292.3 245.7,296.9 246.0,286.6 246.3,302.4 246.6,300.2 246.9,297.4 247.3,305.2 247.6,297.8 247.9,292.2 248.2,300.8 248.5,299.2 248.8,295.9 249.1,305.5 249.4,304.8 249.8,291.1 250.1,299.8 250.4,302.4 250.7,305.5 251.0,289.1 251.3,303.2 251.6,307.2 252.0,304.2 252.3,299.6 252.6,310.7 252.9,305.3 253.2,294.0 253.5,311.8 253.8,307.7 254.1,296.6 254.5,304.4 254.8,299.5 255.1,299.9 255.4,290.0 255.7,307.9 256.0,299.6 256.3,299.4 256.7,301.7 257.0,306.1 257.3,299.0 257.6,296.2 257.9,299.1 258.2,302.0 258.5,299.0 258.8,305.0 259.2,308.1 259.5,295.9 259.8,304.6 260.1,292.6 260.4,316.2 260.7,299.1 261.0,306.0 261.3,297.4 261.7,306.9 262.0,296.5 262.3,299.0 262.6,296.2 262.9,292.4 263.2,302.9 263.5,309.8 263.9,295.4 264.2,296.8 264.5,293.9 264.8,295.9 265.1,296.8 265.4,292.1 265.7,301.6 266.0,299.7 266.4,289.3 266.7,292.3 267.0,289.3 267.3,296.0 267.6,297.1 267.9,295.2 268.2,303.9 268.6,296.3 268.9,291.6 269.2,296.9 269.5,293.1 269.8,294.8 270.1,311.2 270.4,293.3 270.7,299.6 271.1,289.3 271.4,293.9 271.7,295.8 272.0,286.0 272.3,288.8 272.6,313.4 272.9,294.1 273.3,292.1 273.6,293.3 273.9,303.9 274.2,287.1 274.5,299.8 274.8,296.1 275.1,306.3 275.4,289.4 275.8,279.7 276.1,293.7 276.4,298.6 276.7,292.7 277.0,301.5 277.3,283.6 277.6,285.4 277.9,284.3 278.3,287.0 278.6,296.1 278.9,309.5 279.2,285.9 279.5,297.0 279.8,288.8 280.1,288.4 280.5,295.0 280.8,293.5 281.1,292.2 281.4,291.1 281.7,300.2 282.0,287.6 282.3,305.6 282.6,298.0 283.0,303.3 283.3,302.5 283.6,304.6 283.9,293.3 284.2,309.7 284.5,281.8 284.8,299.6 285.2,294.8 285.5,274.1 285.8,285.8 286.1,281.2 286.4,270.7 286.7,285.3 287.0,302.0 287.3,286.6 287.7,294.7 288.0,287.5 288.3,286.3 288.6,304.8 288.9,286.4 289.2,291.0 289.5,275.7 289.9,285.1 290.2,284.4 290.5,286.8 290.8,291.2 291.1,297.6 291.4,297.8 291.7,287.8 292.0,287.1 292.4,288.3 292.7,293.0 293.0,294.6 293.3,290.2 293.6,284.6 293.9,299.2 294.2,286.3"/>
<polyline fill="none" stroke="#00f" stroke-width="2.2" stroke-linejoin="round" points="49.2,356.5 49.4,326.6 49.6,327.1 49.8,321.8 50.1,320.7 50.3,306.7 50.5,305.6 50.7,313.9 50.9,294.8 51.2,292.3 51.4,293.8 51.6,284.7 51.8,298.4 52.1,307.8 52.3,277.9 52.5,293.8 52.7,296.4 52.9,277.5 53.2,291.5 53.4,289.5 53.6,293.7 53.8,287.2 54.1,297.3 54.3,274.9 54.5,279.4 54.7,294.6 55.0,291.7 55.2,285.8 55.4,286.6 55.6,278.5 55.8,278.1 56.1,288.4 56.3,293.8 56.5,284.4 56.7,291.5 57.0,283.3 57.2,292.6 57.4,272.2 57.6,281.4 57.8,275.8 58.1,283.4 58.3,283.1 58.5,271.0 58.7,272.8 59.0,284.9 59.2,282.8 59.4,260.6 59.6,270.4 59.8,279.1 60.1,269.4 60.3,269.5 60.5,273.2 60.7,275.5 61.0,280.7 61.2,272.4 61.4,273.9 61.6,267.1 61.9,269.3 62.1,284.1 62.3,285.9 62.5,263.9 62.7,278.2 63.0,267.7 63.2,265.1 63.4,253.3 63.6,271.2 63.9,273.5 64.1,272.5 64.3,274.0 64.5,262.4 64.7,268.1 65.0,272.2 65.2,264.6 65.4,275.6 65.6,285.3 65.9,269.6 66.1,283.8 66.3,270.1 66.5,275.0 66.8,267.8 67.0,286.9 67.2,276.8 67.4,275.1 67.6,294.1 67.9,272.1 68.1,262.1 68.3,272.5 68.5,262.4 68.8,266.8 69.0,258.7 69.2,289.0 69.4,278.9 69.6,282.1 69.9,265.0 70.1,257.0 70.3,264.2 70.5,256.5 70.8,260.7 71.0,262.2 71.2,265.0 71.4,275.6 71.6,266.9 71.9,274.1 72.1,279.9 72.3,284.5 72.5,256.6 72.8,281.1 73.0,265.4 73.2,265.1 73.4,289.9 73.7,264.4 73.9,265.3 74.1,287.4 74.3,272.7 74.5,281.7 74.8,266.4 75.0,294.3 75.2,281.0 75.4,283.8 75.7,266.4 75.9,268.4 76.1,261.5 76.3,267.3 76.5,285.8 76.8,270.4 77.0,287.1 77.2,273.3 77.4,272.7 77.7,283.1 77.9,289.3 78.1,282.4 78.3,263.0 78.5,257.9 78.8,287.3 79.0,292.9 79.2,263.0 79.4,268.0 79.7,275.0 79.9,272.5 80.1,270.1 80.3,281.3 80.6,289.3 80.8,281.2 81.0,267.4 81.2,272.4 81.4,274.1 81.7,274.6 81.9,281.3 82.1,278.3 82.3,272.1 82.6,262.1 82.8,243.2 83.0,284.5 83.2,276.1 83.4,270.8 83.7,282.3 83.9,271.3 84.1,272.1 84.3,284.4 84.6,269.5 84.8,262.9 85.0,263.5 85.2,286.3 85.4,276.5 85.7,286.0 85.9,289.3 86.1,289.2 86.3,289.4 86.6,284.8 86.8,268.4 87.0,280.8 87.2,272.1 87.5,283.7 87.7,293.1 87.9,283.9 88.1,287.6 88.3,274.4 88.6,267.2 88.8,275.6 89.0,270.0 89.2,272.0 89.5,294.1 89.7,266.5 89.9,276.4 90.1,264.6 90.3,262.2 90.6,267.8 90.8,265.8 91.0,272.5 91.2,261.6 91.5,272.7 91.7,274.1 91.9,275.8 92.1,280.8 92.3,279.9 92.6,270.4 92.8,272.0 93.0,268.2 93.2,258.3 93.5,275.8 93.7,263.5 93.9,272.5 94.1,265.2 94.4,257.9 94.6,254.5 94.8,272.2 95.0,267.1 95.2,271.5 95.5,272.6 95.7,265.7 95.9,263.1 96.1,268.8 96.4,265.7 96.6,254.3 96.8,275.7 97.0,266.6 97.2,257.7 97.5,264.4 97.7,264.1 97.9,284.4 98.1,262.4 98.4,263.8 98.6,286.9 98.8,285.6 99.0,263.2 99.2,273.8 99.5,273.2 99.7,270.4 99.9,278.3 100.1,278.8 100.4,289.0 100.6,290.9 100.8,286.5 101.0,276.2 101.3,266.5 101.5,274.2 101.7,285.4 101.9,287.7 102.1,276.3 102.4,280.8 102.6,268.2 102.8,263.6 103.0,289.5 103.3,282.8 103.5,277.1 103.7,277.2 103.9,269.5 104.1,262.1 104.4,283.3 104.6,263.0 104.8,286.2 105.0,286.5 105.3,280.4 105.5,290.4 105.7,286.7 105.9,271.3 106.2,289.5 106.4,285.4 106.6,259.4 106.8,279.7 107.0,293.4 107.3,298.0 107.5,285.3 107.7,284.1 107.9,285.5 108.2,282.9 108.4,282.9 108.6,282.7 108.8,267.3 109.0,273.8 109.3,270.4 109.5,283.2 109.7,279.5 109.9,278.1 110.2,279.9 110.4,283.8 110.6,295.2 110.8,291.8 111.0,280.8 111.3,283.6 111.5,269.2 111.7,264.2 111.9,289.2 112.2,278.0 112.4,269.7 112.6,276.2 112.8,292.9 113.1,286.6 113.3,288.4 113.5,298.5 113.7,283.5 113.9,269.8 114.2,278.0 114.4,277.1 114.6,279.6 114.8,286.2 115.1,291.4 115.3,294.1 115.5,269.1 115.7,273.2 115.9,274.1 116.2,281.5 116.4,275.0 116.6,284.0 116.8,294.0 117.1,286.7 117.3,276.9 117.5,275.7 117.7,275.4 117.9,279.1 118.2,267.4 118.4,271.1 118.6,278.6 118.8,289.2 119.1,289.0 119.3,264.3 119.5,284.4 119.7,277.5 120.0,275.8 120.2,281.6 120.4,279.7 120.6,273.4 120.8,279.0 121.1,274.0 121.3,270.5 121.5,267.7 121.7,275.5 122.0,279.8 122.2,283.1 122.4,277.7 122.6,283.3 122.8,267.0 123.1,280.0 123.3,270.8 123.5,271.3 123.7,264.2 124.0,272.9 124.2,272.1 124.4,278.2 124.6,284.3 124.8,273.2 125.1,285.5 125.3,275.3 125.5,274.2 125.7,270.1 126.0,283.7 126.2,274.8 126.4,269.8 126.6,275.1 126.9,272.3 127.1,271.0 127.3,285.6 127.5,274.1 127.7,263.4 128.0,268.3 128.2,268.8 128.4,271.0 128.6,287.1 128.9,270.4 129.1,293.7 129.3,281.6 129.5,292.7 129.7,298.4 130.0,270.6 130.2,275.0 130.4,286.1 130.6,299.7 130.9,282.8 131.1,266.7 131.3,277.3 131.5,282.2 131.7,270.3 132.0,264.1 132.2,283.3 132.4,283.9 132.6,265.8 132.9,280.2 133.1,265.4 133.3,279.5 133.5,279.7 133.8,271.5 134.0,264.6 134.2,272.3 134.4,271.2 134.6,264.1 134.9,273.2 135.1,285.1 135.3,270.8 135.5,271.2 135.8,274.1 136.0,291.6 136.2,277.8 136.4,271.1 136.6,278.9 136.9,272.0 137.1,269.0 137.3,280.1 137.5,278.0 137.8,291.2 138.0,284.3 138.2,294.6 138.4,284.2 138.6,286.4 138.9,285.8 139.1,290.6 139.3,295.5 139.5,279.3 139.8,271.9 140.0,285.8 140.2,283.4 140.4,283.2 140.7,297.3 140.9,279.4 141.1,287.8 141.3,289.3 141.5,288.5 141.8,283.3 142.0,280.7 142.2,288.6 142.4,286.3 142.7,282.2 142.9,289.8 143.1,292.0 143.3,285.1 143.5,275.2 143.8,276.1 144.0,291.7 144.2,281.9 144.4,276.3 144.7,273.1 144.9,290.0 145.1,288.9 145.3,285.6 145.6,292.5 145.8,285.8 146.0,292.6 146.2,289.9 146.4,275.8 146.7,283.5 146.9,279.9 147.1,295.9 147.3,275.7 147.6,283.1 147.8,276.6 148.0,280.5 148.2,275.1 148.4,283.1 148.7,271.8 148.9,274.6 149.1,292.5 149.3,272.2 149.6,278.2 149.8,281.6 150.0,281.8 150.2,285.3 150.4,283.0 150.7,278.0 150.9,275.5 151.1,282.7 151.3,277.1 151.6,276.0 151.8,297.4 152.0,286.2 152.2,299.9 152.5,279.2 152.7,281.5 152.9,286.7 153.1,292.3 153.3,282.3 153.6,292.9 153.8,274.6 154.0,270.6 154.2,285.3 154.5,281.4 154.7,286.9 154.9,293.6 155.1,290.5 155.3,288.8 155.6,282.0 155.8,282.9 156.0,274.5 156.2,282.0 156.5,272.9 156.7,288.0 156.9,282.0 157.1,285.9 157.3,272.1 157.6,276.1 157.8,284.3 158.0,277.1 158.2,277.7 158.5,271.3 158.7,297.3 158.9,279.3 159.1,288.8 159.4,282.8 159.6,281.3 159.8,268.9 160.0,268.7 160.2,278.3 160.5,269.3 160.7,272.3 160.9,280.5 161.1,271.0 161.4,283.2 161.6,272.1 161.8,285.3 162.0,281.9 162.2,286.4 162.5,276.4 162.7,278.0 162.9,291.3 163.1,273.0 163.4,273.6 163.6,264.9 163.8,279.3 164.0,273.6 164.2,279.3 164.5,267.1 164.7,259.2 164.9,271.4 165.1,273.1 165.4,282.8 165.6,279.5 165.8,279.2 166.0,266.7 166.3,273.4 166.5,282.8 166.7,262.3 166.9,273.6 167.1,288.2 167.4,277.8 167.6,274.1 167.8,296.0 168.0,276.6 168.3,280.0 168.5,264.4 168.7,284.0 168.9,287.7 169.1,279.5 169.4,278.6 169.6,282.2 169.8,285.5 170.0,296.5 170.3,274.9 170.5,273.4 170.7,266.7 170.9,264.9 171.1,283.6 171.4,274.9 171.6,274.0 171.8,297.2 172.0,286.0 172.3,281.2 172.5,291.8 172.7,289.4 172.9,288.3 173.2,278.1 173.4,289.8 173.6,285.8 173.8,294.1 174.0,274.7 174.3,283.2 174.5,291.6 174.7,298.3 174.9,291.0 175.2,287.2 175.4,274.3 175.6,278.1 175.8,274.0 176.0,270.2 176.3,278.9 176.5,289.6 176.7,289.5 176.9,283.0 177.2,287.9 177.4,285.6 177.6,274.6 177.8,262.0 178.0,283.3 178.3,293.7 178.5,277.1 178.7,288.5 178.9,293.4 179.2,273.6 179.4,297.6 179.6,278.9 179.8,268.0 180.1,274.3 180.3,283.5 180.5,281.5 180.7,277.5 180.9,280.9 181.2,286.5 181.4,293.6 181.6,272.8 181.8,275.0 182.1,282.8 182.3,282.9 182.5,296.3 182.7,288.7 182.9,292.8 183.2,287.8 183.4,286.8 183.6,285.5 183.8,283.3 184.1,288.8 184.3,288.1 184.5,292.9 184.7,286.2 185.0,290.3 185.2,289.9 185.4,278.8 185.6,289.9 185.8,275.4 186.1,289.0 186.3,295.7 186.5,279.5 186.7,282.4 187.0,286.2 187.2,273.3 187.4,291.5 187.6,283.0 187.8,280.2 188.1,288.4 188.3,268.0 188.5,270.5 188.7,262.1 189.0,277.9 189.2,279.1 189.4,289.2 189.6,284.1 189.8,280.3 190.1,267.4 190.3,276.8 190.5,273.5 190.7,284.8 191.0,274.8 191.2,287.5 191.4,275.4 191.6,291.2 191.9,272.9 192.1,280.7 192.3,284.9 192.5,283.7 192.7,292.1 193.0,273.2 193.2,280.5 193.4,281.4 193.6,283.6 193.9,274.7 194.1,288.9 194.3,279.2 194.5,290.9 194.7,291.6 195.0,287.6 195.2,284.1 195.4,295.3 195.6,288.4 195.9,288.6 196.1,267.2 196.3,291.7 196.5,291.9 196.7,288.0 197.0,285.8 197.2,284.8 197.4,283.6 197.6,286.6 197.9,273.5 198.1,271.6 198.3,274.6 198.5,276.2 198.8,278.5 199.0,266.8 199.2,265.5 199.4,276.5 199.6,271.5 199.9,282.1 200.1,280.1 200.3,269.3 200.5,293.5 200.8,285.9 201.0,290.7 201.2,293.0 201.4,285.2 201.6,257.8 201.9,274.8 202.1,284.6 202.3,293.2 202.5,294.1 202.8,293.3 203.0,275.8 203.2,283.3 203.4,290.4 203.6,288.8 203.9,292.5 204.1,294.7 204.3,291.6 204.5,288.2 204.8,289.2 205.0,279.5 205.2,273.7 205.4,289.6 205.7,291.1 205.9,290.2 206.1,294.4 206.3,288.6 206.5,283.8 206.8,288.4 207.0,286.2 207.2,283.9 207.4,290.5 207.7,269.2 207.9,282.1 208.1,274.6 208.3,288.3 208.5,274.3 208.8,284.0 209.0,270.2 209.2,269.3 209.4,270.3 209.7,273.2 209.9,269.9 210.1,273.3 210.3,291.9 210.5,282.3 210.8,271.9 211.0,274.2 211.2,280.1 211.4,278.9 211.7,277.3 211.9,268.8 212.1,273.9 212.3,276.5 212.6,280.0 212.8,289.5 213.0,266.3 213.2,280.2 213.4,268.2 213.7,262.5 213.9,270.8 214.1,267.1 214.3,275.6 214.6,274.4 214.8,266.7 215.0,287.2 215.2,270.8 215.4,262.0 215.7,270.2 215.9,244.3 216.1,276.7 216.3,270.2 216.6,274.0 216.8,275.2 217.0,269.6 217.2,277.4 217.4,286.4 217.7,270.2 217.9,271.5 218.1,277.5 218.3,292.6 218.6,291.1 218.8,275.5 219.0,280.3 219.2,264.1 219.5,266.7 219.7,252.6 219.9,278.2 220.1,283.2 220.3,265.0 220.6,272.5 220.8,292.0 221.0,266.5 221.2,274.7 221.5,283.9 221.7,278.3 221.9,270.0 222.1,284.0 222.3,272.8 222.6,270.3 222.8,264.9 223.0,282.7 223.2,281.9 223.5,282.6 223.7,283.3 223.9,290.5 224.1,271.6 224.3,292.1 224.6,285.2 224.8,276.6 225.0,279.5 225.2,286.5 225.5,269.2 225.7,273.2 225.9,276.3 226.1,276.4 226.4,295.8 226.6,268.4 226.8,266.3 227.0,277.4 227.2,271.2 227.5,267.3 227.7,292.6 227.9,279.2 228.1,275.1 228.4,276.3 228.6,276.0 228.8,270.5 229.0,277.8 229.2,267.2 229.5,276.8 229.7,280.0 229.9,274.4 230.1,270.3 230.4,278.0 230.6,273.8 230.8,278.3 231.0,283.5 231.3,292.0 231.5,279.5 231.7,297.0 231.9,290.7 232.1,276.0 232.4,272.3 232.6,272.3 232.8,269.8 233.0,279.2 233.3,281.4 233.5,272.8 233.7,268.9 233.9,277.9 234.1,270.6 234.4,271.7 234.6,263.8 234.8,270.3 235.0,267.6 235.3,266.2 235.5,280.4 235.7,274.7 235.9,277.1 236.1,283.8 236.4,278.7 236.6,269.8 236.8,281.5 237.0,290.0 237.3,276.3 237.5,295.8 237.7,281.7 237.9,278.8 238.2,267.3 238.4,276.7 238.6,274.1 238.8,279.7 239.0,291.5 239.3,274.9 239.5,273.8 239.7,281.6 239.9,272.9 240.2,274.9 240.4,272.6 240.6,282.0 240.8,263.9 241.0,269.4 241.3,274.0 241.5,279.6 241.7,280.3 241.9,266.5 242.2,282.7 242.4,273.9 242.6,269.7 242.8,267.6 243.0,278.5 243.3,278.5 243.5,274.3 243.7,280.1 243.9,267.9 244.2,281.5 244.4,287.3 244.6,265.3 244.8,280.1 245.1,275.1 245.3,265.1 245.5,278.5 245.7,279.8 245.9,276.4 246.2,282.7 246.4,278.4 246.6,277.0 246.8,289.3 247.1,268.0 247.3,251.6 247.5,283.7 247.7,281.6 247.9,283.2 248.2,274.8 248.4,269.3 248.6,280.7 248.8,292.3 249.1,283.5 249.3,282.7 249.5,278.2 249.7,270.5 249.9,283.6 250.2,270.8 250.4,273.4 250.6,268.6 250.8,268.5 251.1,279.1 251.3,289.1 251.5,273.7 251.7,275.5 252.0,271.5 252.2,272.3 252.4,283.8 252.6,282.7 252.8,269.5 253.1,280.2 253.3,290.7 253.5,257.5 253.7,275.3 254.0,258.2 254.2,274.3 254.4,269.1 254.6,255.4 254.8,279.7 255.1,283.0 255.3,279.8 255.5,280.6 255.7,277.6 256.0,286.9 256.2,277.2 256.4,284.4 256.6,285.7 256.8,281.0 257.1,281.5 257.3,278.0 257.5,272.5 257.7,279.4 258.0,282.2 258.2,272.7 258.4,276.3 258.6,273.4 258.9,283.4 259.1,283.5 259.3,280.0 259.5,269.3 259.7,269.1 260.0,289.9 260.2,273.1 260.4,281.8 260.6,279.9 260.9,277.3 261.1,274.8 261.3,267.5 261.5,279.9 261.7,271.4 262.0,267.1 262.2,289.5 262.4,274.6 262.6,266.0 262.9,285.0 263.1,273.7 263.3,269.1 263.5,270.4 263.7,271.8 264.0,267.6 264.2,266.4 264.4,286.1 264.6,265.5 264.9,280.1 265.1,268.9 265.3,272.1 265.5,274.4 265.8,285.5 266.0,281.9 266.2,275.4 266.4,291.3 266.6,286.0 266.9,296.6 267.1,290.4 267.3,287.9 267.5,287.6 267.8,269.8 268.0,270.3 268.2,295.4 268.4,290.9 268.6,262.3 268.9,266.4 269.1,294.1 269.3,290.9 269.5,288.7 269.8,283.3 270.0,293.8 270.2,272.6 270.4,283.8 270.7,274.1 270.9,276.7 271.1,278.9 271.3,277.7 271.5,275.4 271.8,275.6 272.0,276.2 272.2,277.1 272.4,278.2 272.7,283.2 272.9,285.4 273.1,265.8 273.3,275.5 273.5,275.4 273.8,274.8 274.0,280.6 274.2,281.1 274.4,272.2 274.7,288.0 274.9,274.6 275.1,284.9 275.3,291.4 275.5,280.5 275.8,269.7 276.0,289.3 276.2,286.0 276.4,281.8 276.7,278.5 276.9,279.0 277.1,300.0 277.3,280.4 277.6,275.0 277.8,258.5 278.0,283.9 278.2,281.6 278.4,273.3 278.7,285.4 278.9,275.2 279.1,285.1 279.3,287.1 279.6,286.5 279.8,278.0 280.0,288.9 280.2,271.7 280.4,290.1 280.7,293.4 280.9,278.7 281.1,293.3 281.3,288.7 281.6,287.6 281.8,287.5 282.0,279.7 282.2,289.6 282.4,291.5 282.7,305.6 282.9,276.1 283.1,301.0 283.3,280.1 283.6,281.8 283.8,297.6 284.0,285.1 284.2,291.1 284.5,305.0 284.7,282.2 284.9,293.0 285.1,290.4 285.3,281.9 285.6,295.5 285.8,293.4 286.0,297.8 286.2,310.4 286.5,295.8 286.7,305.1 286.9,300.5 287.1,294.6 287.3,297.6 287.6,297.9 287.8,294.0 288.0,300.9 288.2,300.7 288.5,291.8 288.7,283.2 288.9,291.7 289.1,280.7 289.3,283.9 289.6,300.8 289.8,290.3 290.0,288.0 290.2,283.0 290.5,280.6 290.7,293.3 290.9,284.7 291.1,275.0 291.4,275.3 291.6,289.7 291.8,289.3 292.0,277.5 292.2,267.9 292.5,289.9 292.7,289.9 292.9,283.9 293.1,281.4 293.4,274.2 293.6,283.7 293.8,283.0 294.0,280.5 294.2,292.3 294.5,283.8"/>
<line x1="45.00" y1="227.20" x2="45.00" y2="370.30" stroke="#8c8c8c" stroke-width="1.6"/>
<line x1="40.20" y1="371.0" x2="50.4" y2="371.0" stroke="#666" stroke-width="1.1"/>
<line x1="50.4" y1="369.80" x2="311.80" y2="369.80" stroke="#777" stroke-width="1.1"/>
<line x1="40.60" y1="371.10" x2="45.00" y2="371.10" stroke="#444" stroke-width="1"/>
<line x1="42.70" y1="362.41" x2="45.00" y2="362.41" stroke="#444" stroke-width="1"/>
<line x1="40.60" y1="353.73" x2="45.00" y2="353.73" stroke="#444" stroke-width="1"/>
<line x1="42.70" y1="345.04" x2="45.00" y2="345.04" stroke="#444" stroke-width="1"/>
<line x1="40.60" y1="336.35" x2="45.00" y2="336.35" stroke="#444" stroke-width="1"/>
<line x1="42.70" y1="327.66" x2="45.00" y2="327.66" stroke="#444" stroke-width="1"/>
<line x1="40.60" y1="318.98" x2="45.00" y2="318.98" stroke="#444" stroke-width="1"/>
<line x1="42.70" y1="310.29" x2="45.00" y2="310.29" stroke="#444" stroke-width="1"/>
<line x1="40.60" y1="301.60" x2="45.00" y2="301.60" stroke="#444" stroke-width="1"/>
<line x1="42.70" y1="292.91" x2="45.00" y2="292.91" stroke="#444" stroke-width="1"/>
<line x1="40.60" y1="284.23" x2="45.00" y2="284.23" stroke="#444" stroke-width="1"/>
<line x1="42.70" y1="275.54" x2="45.00" y2="275.54" stroke="#444" stroke-width="1"/>
<line x1="40.60" y1="266.85" x2="45.00" y2="266.85" stroke="#444" stroke-width="1"/>
<line x1="42.70" y1="258.16" x2="45.00" y2="258.16" stroke="#444" stroke-width="1"/>
<line x1="40.60" y1="249.47" x2="45.00" y2="249.47" stroke="#444" stroke-width="1"/>
<line x1="42.70" y1="240.79" x2="45.00" y2="240.79" stroke="#444" stroke-width="1"/>
<line x1="40.60" y1="232.10" x2="45.00" y2="232.10" stroke="#444" stroke-width="1"/>
<line x1="55.00" y1="369.80" x2="55.00" y2="373.80" stroke="#666" stroke-width="1"/>
<line x1="78.34" y1="369.80" x2="78.34" y2="371.80" stroke="#666" stroke-width="1"/>
<line x1="101.68" y1="369.80" x2="101.68" y2="373.80" stroke="#666" stroke-width="1"/>
<line x1="125.02" y1="369.80" x2="125.02" y2="371.80" stroke="#666" stroke-width="1"/>
<line x1="148.36" y1="369.80" x2="148.36" y2="373.80" stroke="#666" stroke-width="1"/>
<line x1="171.70" y1="369.80" x2="171.70" y2="371.80" stroke="#666" stroke-width="1"/>
<line x1="195.04" y1="369.80" x2="195.04" y2="373.80" stroke="#666" stroke-width="1"/>
<line x1="218.38" y1="369.80" x2="218.38" y2="371.80" stroke="#666" stroke-width="1"/>
<line x1="241.72" y1="369.80" x2="241.72" y2="373.80" stroke="#666" stroke-width="1"/>
<line x1="265.06" y1="369.80" x2="265.06" y2="371.80" stroke="#666" stroke-width="1"/>
<line x1="288.40" y1="369.80" x2="288.40" y2="373.80" stroke="#666" stroke-width="1"/>
<line x1="311.30" y1="369.80" x2="311.30" y2="371.80" stroke="#444" stroke-width="1"/>
<rect x="310.80" y="213.10" width="33.90" height="17.40" fill="#fff" stroke="#c4c4c4" stroke-width="1"/>
<line x1="315.70" y1="216.10" x2="323.70" y2="216.10" stroke="#000" stroke-width="2.6" stroke-linecap="round"/>
<line x1="315.70" y1="222.10" x2="323.70" y2="222.10" stroke="#f00" stroke-width="2.6" stroke-linecap="round"/>
<line x1="315.70" y1="227.60" x2="323.70" y2="227.60" stroke="#00f" stroke-width="2.6" stroke-linecap="round"/>
<polyline fill="none" stroke="#000" stroke-width="2.2" stroke-linejoin="round" points="400.6,281.2 400.9,287.2 401.2,291.4 401.5,273.6 401.8,281.6 402.1,286.8 402.4,284.8 402.7,287.3 403.1,266.1 403.4,284.2 403.7,274.5 404.0,291.5 404.3,280.4 404.6,291.6 404.9,270.2 405.3,274.2 405.6,270.5 405.9,268.8 406.2,269.2 406.5,283.8 406.8,270.2 407.1,265.7 407.4,268.2 407.8,284.3 408.1,269.9 408.4,270.2 408.7,277.6 409.0,274.5 409.3,265.5 409.6,272.9 409.9,273.1 410.3,273.9 410.6,272.4 410.9,279.0 411.2,272.7 411.5,271.7 411.8,278.7 412.1,278.5 412.5,279.9 412.8,272.6 413.1,280.2 413.4,284.9 413.7,279.6 414.0,287.2 414.3,275.0 414.6,282.7 415.0,285.8 415.3,276.5 415.6,272.5 415.9,280.8 416.2,286.9 416.5,288.4 416.8,269.5 417.2,283.5 417.5,281.9 417.8,285.6 418.1,284.6 418.4,284.6 418.7,278.4 419.0,286.5 419.3,285.0 419.7,283.4 420.0,284.6 420.3,286.4 420.6,289.6 420.9,277.9 421.2,288.4 421.5,280.1 421.8,279.2 422.2,281.5 422.5,288.1 422.8,289.3 423.1,295.3 423.4,273.4 423.7,272.0 424.0,287.9 424.4,286.3 424.7,278.8 425.0,273.8 425.3,282.5 425.6,280.4 425.9,284.8 426.2,284.5 426.5,295.0 426.9,283.4 427.2,284.2 427.5,287.5 427.8,280.8 428.1,290.0 428.4,288.4 428.7,289.9 429.1,281.5 429.4,282.6 429.7,287.8 430.0,281.5 430.3,292.2 430.6,291.4 430.9,289.2 431.2,285.4 431.6,289.6 431.9,284.3 432.2,275.9 432.5,290.9 432.8,292.1 433.1,292.8 433.4,273.6 433.7,283.3 434.1,272.9 434.4,281.5 434.7,284.5 435.0,277.5 435.3,282.9 435.6,290.7 435.9,280.1 436.3,294.2 436.6,282.9 436.9,273.3 437.2,280.9 437.5,295.0 437.8,280.7 438.1,283.3 438.4,279.7 438.8,278.0 439.1,285.7 439.4,286.2 439.7,293.0 440.0,286.8 440.3,283.7 440.6,278.1 441.0,277.9 441.3,292.4 441.6,273.3 441.9,280.0 442.2,280.9 442.5,272.4 442.8,274.8 443.1,288.5 443.5,289.7 443.8,281.1 444.1,282.2 444.4,283.2 444.7,283.4 445.0,292.0 445.3,285.8 445.6,290.7 446.0,274.3 446.3,285.9 446.6,282.1 446.9,291.0 447.2,273.3 447.5,294.5 447.8,272.3 448.2,297.0 448.5,279.7 448.8,288.6 449.1,266.9 449.4,290.8 449.7,282.7 450.0,284.4 450.3,283.5 450.7,273.5 451.0,282.9 451.3,287.5 451.6,289.6 451.9,278.4 452.2,285.9 452.5,274.1 452.9,291.6 453.2,279.9 453.5,288.4 453.8,285.9 454.1,274.3 454.4,278.7 454.7,282.8 455.0,293.0 455.4,278.9 455.7,284.8 456.0,276.6 456.3,288.7 456.6,275.3 456.9,287.6 457.2,279.5 457.5,289.7 457.9,274.8 458.2,292.3 458.5,270.0 458.8,283.8 459.1,277.2 459.4,270.6 459.7,292.8 460.1,277.5 460.4,284.5 460.7,282.1 461.0,276.8 461.3,263.7 461.6,270.4 461.9,266.8 462.2,270.8 462.6,273.4 462.9,275.8 463.2,273.4 463.5,265.0 463.8,286.0 464.1,270.7 464.4,269.1 464.8,269.2 465.1,265.7 465.4,287.3 465.7,281.9 466.0,273.9 466.3,265.0 466.6,278.2 466.9,284.3 467.3,293.6 467.6,289.8 467.9,280.6 468.2,287.9 468.5,286.3 468.8,262.5 469.1,268.3 469.4,280.9 469.8,288.7 470.1,294.9 470.4,273.1 470.7,277.3 471.0,278.1 471.3,270.1 471.6,284.1 472.0,277.1 472.3,287.3 472.6,293.5 472.9,272.3 473.2,277.3 473.5,278.5 473.8,266.4 474.1,277.5 474.5,272.4 474.8,276.5 475.1,291.5 475.4,268.9 475.7,284.0 476.0,271.5 476.3,283.3 476.7,280.6 477.0,287.3 477.3,278.4 477.6,281.4 477.9,276.5 478.2,281.6 478.5,276.4 478.8,280.0 479.2,281.1 479.5,274.9 479.8,288.3 480.1,290.3 480.4,278.3 480.7,292.1 481.0,282.4 481.3,269.0 481.7,271.3 482.0,274.2 482.3,271.6 482.6,283.7 482.9,267.1 483.2,275.8 483.5,285.0 483.9,286.7 484.2,284.2 484.5,272.8 484.8,285.8 485.1,270.9 485.4,290.1 485.7,286.5 486.0,286.2 486.4,298.1 486.7,292.9 487.0,290.6 487.3,276.2 487.6,286.9 487.9,287.2 488.2,283.3 488.5,287.9 488.9,286.9 489.2,289.0 489.5,290.4 489.8,288.2 490.1,281.0 490.4,284.3 490.7,279.8 491.1,278.0 491.4,291.6 491.7,286.1 492.0,281.1 492.3,288.5 492.6,291.9 492.9,275.6 493.2,280.5 493.6,282.2 493.9,281.6 494.2,290.8 494.5,283.5 494.8,282.4 495.1,294.1 495.4,291.7 495.8,281.9 496.1,291.5 496.4,298.3 496.7,275.7 497.0,296.3 497.3,290.5 497.6,294.0 497.9,296.2 498.3,286.4 498.6,285.2 498.9,297.7 499.2,274.1 499.5,300.6 499.8,282.2 500.1,299.8 500.4,291.1 500.8,271.1 501.1,279.7 501.4,290.0 501.7,293.0 502.0,275.1 502.3,281.3 502.6,294.4 503.0,297.1 503.3,286.6 503.6,289.8 503.9,274.6 504.2,294.5 504.5,302.2 504.8,297.2 505.1,292.5 505.5,295.6 505.8,279.0 506.1,288.1 506.4,294.6 506.7,289.2 507.0,305.3 507.3,279.8 507.7,284.8 508.0,287.1 508.3,297.4 508.6,305.7 508.9,293.2 509.2,277.5 509.5,285.0 509.8,283.2 510.2,295.1 510.5,282.2 510.8,277.6 511.1,281.2 511.4,296.2 511.7,284.3 512.0,275.8 512.3,291.2 512.7,279.5 513.0,296.2 513.3,287.0 513.6,284.9 513.9,298.5 514.2,282.5 514.5,278.2 514.9,282.8 515.2,287.8 515.5,302.2 515.8,299.1 516.1,298.5 516.4,303.3 516.7,297.4 517.0,295.7 517.4,302.1 517.7,297.3 518.0,303.4 518.3,300.6 518.6,293.0 518.9,296.0 519.2,296.6 519.6,295.9 519.9,305.4 520.2,278.0 520.5,299.3 520.8,293.1 521.1,285.8 521.4,300.9 521.7,307.4 522.1,280.8 522.4,290.4 522.7,296.4 523.0,295.4 523.3,288.1 523.6,284.1 523.9,306.6 524.2,292.7 524.6,294.2 524.9,308.1 525.2,288.8 525.5,291.9 525.8,301.1 526.1,291.9 526.4,298.9 526.8,295.1 527.1,298.6 527.4,306.3 527.7,289.0 528.0,304.9 528.3,292.4 528.6,279.0 528.9,296.7 529.3,283.8 529.6,300.3 529.9,284.7 530.2,294.9 530.5,278.0 530.8,294.8 531.1,280.0 531.5,281.4 531.8,287.0 532.1,291.2 532.4,275.7 532.7,293.2 533.0,297.6 533.3,291.1 533.6,286.8 534.0,295.4 534.3,307.2 534.6,285.6 534.9,291.0 535.2,306.4 535.5,296.0 535.8,298.1 536.1,286.7 536.5,303.0 536.8,306.8 537.1,286.3 537.4,306.1 537.7,281.0 538.0,299.8 538.3,296.9 538.7,302.5 539.0,293.3 539.3,287.9 539.6,283.8 539.9,292.0 540.2,293.7 540.5,297.1 540.8,279.5 541.2,295.9 541.5,291.7 541.8,297.6 542.1,295.0 542.4,288.7 542.7,291.1 543.0,286.9 543.4,294.9 543.7,288.3 544.0,288.6 544.3,287.9 544.6,299.8 544.9,274.0 545.2,281.3 545.5,301.3 545.9,276.2 546.2,277.4 546.5,276.9 546.8,287.1 547.1,278.3 547.4,296.4 547.7,283.3 548.0,295.0 548.4,279.2 548.7,286.7 549.0,275.3 549.3,294.4 549.6,294.6 549.9,284.9 550.2,306.5 550.6,294.3 550.9,303.4 551.2,290.7 551.5,295.8 551.8,279.2 552.1,293.9 552.4,298.0 552.7,288.3 553.1,279.6 553.4,289.4 553.7,286.5 554.0,289.2 554.3,285.0 554.6,293.0 554.9,290.5 555.2,274.0 555.6,274.3 555.9,300.5 556.2,281.5 556.5,287.1 556.8,294.8 557.1,296.0 557.4,284.8 557.8,292.4 558.1,287.9 558.4,293.1 558.7,291.3 559.0,283.8 559.3,287.5 559.6,282.8 559.9,289.5 560.3,301.8 560.6,288.9 560.9,279.6 561.2,291.7 561.5,283.6 561.8,295.6 562.1,285.8 562.5,280.0 562.8,276.5 563.1,288.6 563.4,276.7 563.7,281.0 564.0,284.3 564.3,291.7 564.6,295.4 565.0,284.7 565.3,283.1 565.6,289.7 565.9,291.6 566.2,295.4 566.5,293.4 566.8,279.8 567.1,288.9 567.5,292.6 567.8,288.5 568.1,299.2 568.4,292.0 568.7,287.6 569.0,299.4 569.3,279.6 569.7,298.5 570.0,289.1 570.3,282.1 570.6,278.1 570.9,296.1 571.2,296.0 571.5,293.5 571.8,292.5 572.2,294.3 572.5,283.1 572.8,286.4 573.1,290.9 573.4,289.7 573.7,297.3 574.0,291.1 574.4,286.2 574.7,285.2 575.0,291.2 575.3,295.6 575.6,292.7 575.9,291.0 576.2,285.7 576.5,296.0 576.9,280.9 577.2,291.4 577.5,298.3 577.8,298.9 578.1,294.4 578.4,282.2 578.7,299.7 579.0,289.1 579.4,279.6 579.7,285.9 580.0,297.6 580.3,291.0 580.6,280.0 580.9,298.0 581.2,292.7 581.6,285.1 581.9,292.4 582.2,294.0 582.5,298.0 582.8,287.5 583.1,288.3 583.4,294.2 583.7,287.2 584.1,295.7 584.4,291.1 584.7,286.6 585.0,296.7 585.3,289.2 585.6,290.8 585.9,283.7 586.3,295.0 586.6,286.8 586.9,283.1 587.2,294.2 587.5,291.2 587.8,285.5 588.1,291.3 588.4,294.5 588.8,289.8 589.1,296.8 589.4,281.1 589.7,288.2 590.0,286.8 590.3,289.0 590.6,285.5 590.9,300.7 591.3,285.9 591.6,299.3 591.9,291.2 592.2,289.0 592.5,290.3 592.8,290.9 593.1,297.0 593.5,298.9 593.8,295.3 594.1,294.5 594.4,292.1 594.7,303.5 595.0,296.4 595.3,295.2 595.6,290.3 596.0,284.6 596.3,285.2 596.6,291.2 596.9,291.5 597.2,293.1 597.5,283.3 597.8,286.5 598.2,291.8 598.5,293.6 598.8,282.6 599.1,279.0 599.4,284.5 599.7,284.3 600.0,292.3 600.3,292.2 600.7,292.4 601.0,285.9 601.3,290.5 601.6,280.8 601.9,295.5 602.2,288.6 602.5,294.0 602.8,278.7 603.2,288.1 603.5,298.4 603.8,289.4 604.1,298.6 604.4,282.1 604.7,292.9 605.0,295.1 605.4,291.2 605.7,289.1 606.0,288.5 606.3,287.9 606.6,286.4 606.9,279.4 607.2,287.4 607.5,290.4 607.9,280.1 608.2,281.3 608.5,289.5 608.8,287.9 609.1,291.8 609.4,287.7 609.7,287.8 610.1,277.9 610.4,287.2 610.7,290.7 611.0,293.9 611.3,288.1 611.6,293.6 611.9,289.5 612.2,283.6 612.6,285.4 612.9,292.7 613.2,297.0 613.5,292.3 613.8,291.5 614.1,287.9 614.4,295.7 614.7,290.3 615.1,286.3 615.4,298.0 615.7,288.3 616.0,294.5 616.3,284.4 616.6,280.7 616.9,287.9 617.3,287.9 617.6,302.7 617.9,301.0 618.2,287.7 618.5,297.0 618.8,297.4 619.1,300.6 619.4,300.9 619.8,297.2 620.1,291.1 620.4,302.9 620.7,283.5 621.0,308.3 621.3,291.2 621.6,283.9 622.0,289.0 622.3,302.3 622.6,295.4 622.9,294.1 623.2,291.7 623.5,300.6 623.8,286.7 624.1,292.4 624.5,287.5 624.8,294.5 625.1,303.6 625.4,289.7 625.7,294.8 626.0,292.0 626.3,292.2 626.6,297.9 627.0,289.6 627.3,297.0 627.6,291.4 627.9,291.0"/>
<polyline fill="none" stroke="#f00" stroke-width="2.2" stroke-linejoin="round" points="400.6,315.0 400.9,300.5 401.2,297.1 401.5,288.6 401.8,297.3 402.1,313.9 402.4,290.2 402.7,308.6 403.1,307.8 403.4,294.6 403.7,290.4 404.0,293.4 404.3,295.6 404.6,288.4 404.9,296.7 405.3,295.1 405.6,299.0 405.9,299.5 406.2,299.6 406.5,303.4 406.8,312.5 407.1,292.3 407.4,295.3 407.8,301.9 408.1,300.7 408.4,293.5 408.7,305.6 409.0,307.5 409.3,307.6 409.6,298.0 409.9,303.5 410.3,297.5 410.6,317.9 410.9,303.6 411.2,299.6 411.5,306.8 411.8,305.6 412.1,306.9 412.5,292.1 412.8,302.5 413.1,307.8 413.4,307.8 413.7,302.3 414.0,299.4 414.3,305.3 414.6,293.6 415.0,308.7 415.3,309.1 415.6,326.0 415.9,303.6 416.2,299.4 416.5,317.5 416.8,292.5 417.2,319.8 417.5,307.4 417.8,293.4 418.1,293.9 418.4,301.7 418.7,304.1 419.0,313.3 419.3,309.5 419.7,307.6 420.0,293.9 420.3,316.9 420.6,299.7 420.9,289.0 421.2,304.1 421.5,298.6 421.8,299.4 422.2,303.8 422.5,303.5 422.8,297.2 423.1,302.7 423.4,315.4 423.7,305.7 424.0,302.2 424.4,311.8 424.7,313.9 425.0,296.2 425.3,303.5 425.6,314.6 425.9,310.3 426.2,296.7 426.5,300.7 426.9,313.6 427.2,300.1 427.5,301.0 427.8,293.6 428.1,297.2 428.4,295.0 428.7,304.7 429.1,299.7 429.4,295.9 429.7,289.0 430.0,316.3 430.3,309.7 430.6,305.4 430.9,287.3 431.2,307.6 431.6,305.3 431.9,309.6 432.2,308.8 432.5,298.7 432.8,266.3 433.1,308.6 433.4,298.1 433.7,305.8 434.1,291.1 434.4,306.4 434.7,289.9 435.0,311.2 435.3,304.2 435.6,311.0 435.9,319.1 436.3,301.6 436.6,309.2 436.9,307.0 437.2,314.1 437.5,310.6 437.8,305.9 438.1,304.2 438.4,299.4 438.8,298.1 439.1,315.8 439.4,299.1 439.7,310.8 440.0,302.4 440.3,299.2 440.6,304.7 441.0,306.7 441.3,307.5 441.6,312.3 441.9,294.6 442.2,306.8 442.5,308.2 442.8,317.9 443.1,301.7 443.5,297.9 443.8,293.6 444.1,294.4 444.4,284.9 444.7,312.3 445.0,315.7 445.3,293.8 445.6,308.5 446.0,306.0 446.3,315.9 446.6,300.7 446.9,294.0 447.2,303.0 447.5,301.8 447.8,297.6 448.2,303.1 448.5,315.2 448.8,314.5 449.1,299.7 449.4,308.3 449.7,288.9 450.0,307.4 450.3,318.1 450.7,317.6 451.0,302.5 451.3,294.2 451.6,294.7 451.9,297.3 452.2,309.5 452.5,306.7 452.9,298.0 453.2,305.4 453.5,293.8 453.8,312.9 454.1,296.7 454.4,299.5 454.7,298.0 455.0,306.2 455.4,293.9 455.7,302.3 456.0,296.8 456.3,288.5 456.6,303.5 456.9,288.4 457.2,281.8 457.5,291.4 457.9,306.9 458.2,289.3 458.5,304.8 458.8,285.1 459.1,310.2 459.4,308.2 459.7,302.8 460.1,280.3 460.4,301.6 460.7,290.4 461.0,295.7 461.3,285.1 461.6,295.1 461.9,288.9 462.2,296.0 462.6,301.8 462.9,293.2 463.2,291.0 463.5,298.7 463.8,299.2 464.1,291.8 464.4,296.3 464.8,305.0 465.1,293.6 465.4,302.4 465.7,283.9 466.0,300.3 466.3,292.3 466.6,306.7 466.9,309.1 467.3,295.4 467.6,290.2 467.9,299.7 468.2,294.6 468.5,291.1 468.8,283.1 469.1,303.7 469.4,296.5 469.8,284.5 470.1,301.0 470.4,293.8 470.7,289.7 471.0,299.6 471.3,291.9 471.6,282.2 472.0,291.3 472.3,289.3 472.6,286.0 472.9,295.3 473.2,302.1 473.5,293.3 473.8,285.0 474.1,295.5 474.5,279.5 474.8,297.7 475.1,297.7 475.4,277.4 475.7,293.8 476.0,303.0 476.3,298.8 476.7,309.8 477.0,286.5 477.3,299.6 477.6,305.7 477.9,286.3 478.2,289.3 478.5,270.8 478.8,252.4 479.2,297.7 479.5,298.6 479.8,279.5 480.1,293.0 480.4,290.2 480.7,289.4 481.0,288.9 481.3,308.7 481.7,295.7 482.0,307.8 482.3,293.7 482.6,285.8 482.9,303.0 483.2,287.9 483.5,271.9 483.9,304.8 484.2,290.7 484.5,289.6 484.8,304.9 485.1,282.4 485.4,295.1 485.7,293.7 486.0,278.5 486.4,282.6 486.7,295.4 487.0,286.0 487.3,285.2 487.6,285.4 487.9,284.6 488.2,285.3 488.5,280.4 488.9,306.7 489.2,296.4 489.5,298.8 489.8,284.8 490.1,286.2 490.4,288.0 490.7,299.3 491.1,284.4 491.4,290.8 491.7,286.4 492.0,285.9 492.3,285.5 492.6,281.4 492.9,298.9 493.2,277.0 493.6,291.0 493.9,275.0 494.2,289.2 494.5,276.9 494.8,299.6 495.1,281.4 495.4,293.0 495.8,294.9 496.1,284.9 496.4,290.0 496.7,290.8 497.0,287.6 497.3,287.8 497.6,282.7 497.9,279.3 498.3,288.3 498.6,286.0 498.9,279.7 499.2,285.2 499.5,302.9 499.8,282.8 500.1,288.0 500.4,283.6 500.8,282.5 501.1,275.6 501.4,278.5 501.7,295.3 502.0,288.6 502.3,287.0 502.6,275.4 503.0,278.2 503.3,295.3 503.6,284.6 503.9,287.5 504.2,276.1 504.5,292.8 504.8,278.8 505.1,281.6 505.5,286.3 505.8,296.6 506.1,290.5 506.4,280.5 506.7,288.8 507.0,297.1 507.3,291.3 507.7,291.9 508.0,289.5 508.3,295.4 508.6,285.4 508.9,294.9 509.2,290.8 509.5,273.8 509.8,273.7 510.2,284.7 510.5,291.3 510.8,292.7 511.1,281.3 511.4,284.3 511.7,270.8 512.0,282.2 512.3,289.1 512.7,281.5 513.0,281.9 513.3,292.0 513.6,270.9 513.9,279.7 514.2,283.1 514.5,281.8 514.9,295.4 515.2,272.9 515.5,292.6 515.8,265.2 516.1,282.4 516.4,277.5 516.7,275.1 517.0,273.6 517.4,274.2 517.7,279.4 518.0,277.7 518.3,292.4 518.6,293.5 518.9,268.3 519.2,271.6 519.6,297.2 519.9,279.7 520.2,274.8 520.5,306.2 520.8,301.4 521.1,301.3 521.4,282.9 521.7,299.1 522.1,294.9 522.4,290.9 522.7,286.6 523.0,309.5 523.3,304.9 523.6,305.5 523.9,286.8 524.2,297.7 524.6,299.4 524.9,304.6 525.2,303.4 525.5,310.3 525.8,302.8 526.1,276.4 526.4,309.6 526.8,298.9 527.1,295.9 527.4,299.5 527.7,297.6 528.0,296.1 528.3,299.7 528.6,276.1 528.9,311.9 529.3,299.5 529.6,301.8 529.9,304.4 530.2,311.2 530.5,295.5 530.8,297.3 531.1,299.2 531.5,301.5 531.8,293.7 532.1,289.1 532.4,286.4 532.7,299.4 533.0,297.7 533.3,308.0 533.6,315.0 534.0,313.6 534.3,287.2 534.6,303.4 534.9,304.2 535.2,298.7 535.5,281.7 535.8,308.8 536.1,300.0 536.5,308.4 536.8,300.1 537.1,315.1 537.4,310.0 537.7,299.9 538.0,294.9 538.3,304.6 538.7,314.2 539.0,308.1 539.3,298.6 539.6,299.1 539.9,299.5 540.2,301.8 540.5,295.0 540.8,297.4 541.2,293.3 541.5,306.9 541.8,312.0 542.1,295.1 542.4,305.1 542.7,289.6 543.0,289.7 543.4,292.0 543.7,287.3 544.0,299.4 544.3,291.2 544.6,290.9 544.9,279.6 545.2,306.5 545.5,293.6 545.9,301.7 546.2,296.1 546.5,303.7 546.8,294.7 547.1,308.2 547.4,291.8 547.7,288.8 548.0,302.8 548.4,293.3 548.7,312.0 549.0,307.6 549.3,304.0 549.6,292.5 549.9,297.9 550.2,312.4 550.6,291.5 550.9,279.1 551.2,302.9 551.5,285.3 551.8,289.1 552.1,295.0 552.4,287.3 552.7,294.0 553.1,294.9 553.4,284.5 553.7,289.0 554.0,301.1 554.3,296.3 554.6,298.2 554.9,286.6 555.2,281.6 555.6,275.5 555.9,291.8 556.2,296.5 556.5,305.1 556.8,305.7 557.1,293.0 557.4,294.3 557.8,280.1 558.1,298.6 558.4,313.3 558.7,297.9 559.0,288.8 559.3,299.5 559.6,290.3 559.9,313.2 560.3,308.1 560.6,296.2 560.9,291.9 561.2,278.9 561.5,290.1 561.8,294.5 562.1,269.1 562.5,294.4 562.8,309.7 563.1,291.8 563.4,278.8 563.7,285.8 564.0,283.3 564.3,283.0 564.6,282.9 565.0,282.6 565.3,296.8 565.6,270.3 565.9,277.1 566.2,279.9 566.5,274.7 566.8,282.3 567.1,260.8 567.5,290.0 567.8,279.2 568.1,282.0 568.4,282.3 568.7,278.4 569.0,292.3 569.3,281.7 569.7,298.8 570.0,294.7 570.3,303.8 570.6,298.5 570.9,294.4 571.2,295.6 571.5,302.5 571.8,293.1 572.2,302.1 572.5,301.1 572.8,293.7 573.1,279.8 573.4,301.5 573.7,298.3 574.0,291.0 574.4,287.3 574.7,260.8 575.0,308.0 575.3,275.7 575.6,281.2 575.9,299.5 576.2,289.8 576.5,298.9 576.9,291.5 577.2,295.7 577.5,269.8 577.8,285.0 578.1,292.4 578.4,292.6 578.7,302.3 579.0,305.0 579.4,302.1 579.7,294.3 580.0,291.3 580.3,291.1 580.6,290.3 580.9,281.8 581.2,296.5 581.6,290.1 581.9,287.9 582.2,292.1 582.5,298.2 582.8,290.8 583.1,306.5 583.4,286.7 583.7,289.9 584.1,282.3 584.4,296.3 584.7,289.3 585.0,297.0 585.3,280.9 585.6,275.5 585.9,279.6 586.3,295.3 586.6,285.7 586.9,292.9 587.2,301.4 587.5,288.0 587.8,290.5 588.1,293.7 588.4,270.1 588.8,302.8 589.1,303.3 589.4,302.6 589.7,280.9 590.0,283.8 590.3,296.7 590.6,301.8 590.9,287.4 591.3,292.6 591.6,296.4 591.9,298.3 592.2,289.7 592.5,292.5 592.8,286.7 593.1,289.9 593.5,296.4 593.8,301.3 594.1,278.1 594.4,276.3 594.7,291.7 595.0,299.0 595.3,298.2 595.6,289.5 596.0,272.9 596.3,278.1 596.6,288.9 596.9,295.9 597.2,299.2 597.5,283.1 597.8,287.3 598.2,281.0 598.5,293.8 598.8,273.2 599.1,267.4 599.4,288.4 599.7,290.8 600.0,296.8 600.3,297.9 600.7,300.2 601.0,292.4 601.3,290.0 601.6,288.6 601.9,283.7 602.2,296.6 602.5,286.0 602.8,296.8 603.2,287.8 603.5,299.3 603.8,286.0 604.1,280.2 604.4,287.1 604.7,278.6 605.0,283.7 605.4,279.3 605.7,277.2 606.0,284.0 606.3,280.2 606.6,280.7 606.9,282.1 607.2,291.4 607.5,290.7 607.9,285.6 608.2,286.2 608.5,292.1 608.8,296.1 609.1,278.0 609.4,283.3 609.7,297.8 610.1,295.0 610.4,284.8 610.7,298.0 611.0,294.4 611.3,279.1 611.6,282.3 611.9,286.5 612.2,279.0 612.6,288.2 612.9,281.0 613.2,281.7 613.5,286.8 613.8,281.1 614.1,274.5 614.4,282.8 614.7,283.3 615.1,290.8 615.4,265.0 615.7,292.0 616.0,284.4 616.3,288.1 616.6,276.3 616.9,277.6 617.3,282.2 617.6,267.5 617.9,273.4 618.2,287.5 618.5,279.1 618.8,282.0 619.1,293.9 619.4,289.9 619.8,287.6 620.1,286.1 620.4,290.7 620.7,279.4 621.0,296.0 621.3,276.8 621.6,296.7 622.0,295.2 622.3,294.2 622.6,282.9 622.9,280.6 623.2,283.6 623.5,288.0 623.8,282.0 624.1,290.8 624.5,291.7 624.8,290.0 625.1,291.4 625.4,289.3 625.7,286.6 626.0,286.9 626.3,293.9 626.6,283.1 627.0,281.3 627.3,292.9 627.6,282.2 627.9,291.7"/>
<polyline fill="none" stroke="#00f" stroke-width="2.2" stroke-linejoin="round" points="400.1,356.4 400.3,332.3 400.5,320.7 400.8,322.2 401.0,317.9 401.2,318.6 401.4,318.1 401.7,303.7 401.9,313.0 402.1,308.4 402.3,314.1 402.5,312.3 402.8,295.2 403.0,316.0 403.2,293.3 403.4,311.5 403.7,302.4 403.9,278.0 404.1,298.0 404.3,284.3 404.5,298.9 404.8,292.5 405.0,308.6 405.2,289.4 405.4,293.1 405.7,292.8 405.9,306.5 406.1,305.8 406.3,282.4 406.6,296.1 406.8,305.2 407.0,290.7 407.2,272.2 407.4,295.3 407.7,301.4 407.9,276.8 408.1,297.6 408.3,271.0 408.6,292.3 408.8,305.7 409.0,282.9 409.2,296.9 409.4,282.7 409.7,279.1 409.9,290.0 410.1,293.2 410.3,274.4 410.6,282.3 410.8,291.4 411.0,277.0 411.2,296.3 411.4,287.8 411.7,274.4 411.9,282.9 412.1,286.6 412.3,291.2 412.6,290.9 412.8,278.5 413.0,279.8 413.2,282.6 413.4,295.9 413.7,277.4 413.9,279.4 414.1,296.9 414.3,298.3 414.6,287.5 414.8,284.0 415.0,290.3 415.2,283.6 415.4,291.5 415.7,287.1 415.9,298.8 416.1,280.1 416.3,292.1 416.6,283.6 416.8,280.1 417.0,291.7 417.2,278.4 417.5,279.0 417.7,285.7 417.9,284.5 418.1,283.1 418.3,277.1 418.6,292.4 418.8,286.5 419.0,275.8 419.2,270.0 419.5,283.4 419.7,276.4 419.9,284.1 420.1,296.2 420.3,291.5 420.6,298.3 420.8,275.0 421.0,285.6 421.2,288.1 421.5,288.4 421.7,281.7 421.9,296.5 422.1,287.6 422.3,276.2 422.6,284.9 422.8,295.6 423.0,283.4 423.2,280.2 423.5,285.4 423.7,279.9 423.9,281.9 424.1,268.1 424.3,276.8 424.6,282.0 424.8,291.4 425.0,286.8 425.2,276.7 425.5,279.6 425.7,280.8 425.9,270.3 426.1,285.8 426.4,269.2 426.6,283.7 426.8,269.9 427.0,280.2 427.2,286.2 427.5,276.5 427.7,283.3 427.9,286.4 428.1,274.0 428.4,295.5 428.6,284.2 428.8,276.9 429.0,282.0 429.2,293.0 429.5,301.4 429.7,289.4 429.9,285.5 430.1,269.0 430.4,273.9 430.6,297.8 430.8,293.5 431.0,304.1 431.2,281.6 431.5,288.2 431.7,281.3 431.9,277.7 432.1,279.4 432.4,294.5 432.6,291.0 432.8,288.7 433.0,293.1 433.2,287.8 433.5,274.6 433.7,277.1 433.9,288.2 434.1,281.7 434.4,291.1 434.6,286.4 434.8,292.0 435.0,291.8 435.2,290.9 435.5,276.9 435.7,281.7 435.9,288.7 436.1,284.8 436.4,293.7 436.6,280.6 436.8,280.3 437.0,273.1 437.3,286.1 437.5,290.4 437.7,295.9 437.9,288.3 438.1,293.4 438.4,294.4 438.6,297.7 438.8,282.3 439.0,290.5 439.3,286.6 439.5,285.7 439.7,282.3 439.9,278.0 440.1,280.7 440.4,289.5 440.6,278.3 440.8,292.3 441.0,279.1 441.3,273.2 441.5,281.7 441.7,290.3 441.9,293.9 442.1,276.1 442.4,271.2 442.6,279.3 442.8,290.0 443.0,270.8 443.3,283.7 443.5,278.6 443.7,286.7 443.9,279.7 444.1,281.1 444.4,294.9 444.6,271.5 444.8,286.4 445.0,286.9 445.3,272.0 445.5,287.4 445.7,280.1 445.9,287.3 446.1,266.6 446.4,277.9 446.6,278.5 446.8,286.1 447.0,273.9 447.3,280.8 447.5,290.1 447.7,286.6 447.9,291.2 448.2,300.7 448.4,288.0 448.6,287.7 448.8,291.8 449.0,292.5 449.3,279.3 449.5,277.1 449.7,277.4 449.9,296.9 450.2,282.1 450.4,300.6 450.6,295.4 450.8,295.8 451.0,286.2 451.3,283.6 451.5,287.1 451.7,280.9 451.9,292.7 452.2,274.8 452.4,280.6 452.6,287.8 452.8,292.2 453.0,290.2 453.3,292.4 453.5,283.6 453.7,284.5 453.9,283.8 454.2,291.3 454.4,297.6 454.6,296.9 454.8,295.0 455.0,291.8 455.3,302.4 455.5,285.7 455.7,269.9 455.9,291.1 456.2,287.0 456.4,272.9 456.6,286.4 456.8,296.2 457.1,296.3 457.3,289.6 457.5,295.9 457.7,286.1 457.9,264.9 458.2,280.7 458.4,290.3 458.6,289.8 458.8,280.8 459.1,295.6 459.3,294.8 459.5,291.1 459.7,300.4 459.9,300.4 460.2,289.1 460.4,284.6 460.6,285.7 460.8,301.8 461.1,294.0 461.3,291.9 461.5,288.8 461.7,292.0 461.9,285.5 462.2,277.2 462.4,282.6 462.6,281.1 462.8,268.1 463.1,278.1 463.3,293.9 463.5,291.2 463.7,284.9 463.9,284.3 464.2,282.1 464.4,282.1 464.6,272.1 464.8,280.8 465.1,270.0 465.3,282.0 465.5,277.5 465.7,272.3 465.9,271.8 466.2,275.5 466.4,268.8 466.6,275.8 466.8,274.7 467.1,289.1 467.3,298.5 467.5,297.7 467.7,282.5 468.0,295.4 468.2,279.3 468.4,292.8 468.6,297.2 468.8,295.4 469.1,290.5 469.3,264.8 469.5,297.3 469.7,290.7 470.0,276.3 470.2,285.2 470.4,288.3 470.6,296.3 470.8,285.5 471.1,288.8 471.3,296.7 471.5,293.6 471.7,270.4 472.0,296.4 472.2,288.3 472.4,267.2 472.6,278.0 472.8,296.7 473.1,297.7 473.3,283.8 473.5,281.3 473.7,283.4 474.0,287.8 474.2,277.6 474.4,263.6 474.6,296.0 474.8,273.9 475.1,273.9 475.3,280.6 475.5,269.7 475.7,276.2 476.0,278.0 476.2,267.5 476.4,273.2 476.6,266.3 476.8,289.8 477.1,263.1 477.3,287.0 477.5,288.8 477.7,282.6 478.0,266.6 478.2,281.5 478.4,282.8 478.6,272.7 478.9,267.9 479.1,259.1 479.3,273.3 479.5,288.5 479.7,276.1 480.0,275.9 480.2,279.3 480.4,285.3 480.6,259.1 480.9,273.2 481.1,275.0 481.3,283.3 481.5,276.0 481.7,261.8 482.0,271.9 482.2,269.6 482.4,264.7 482.6,268.2 482.9,264.0 483.1,261.5 483.3,268.9 483.5,279.0 483.7,278.6 484.0,271.6 484.2,292.8 484.4,274.8 484.6,262.6 484.9,251.8 485.1,251.3 485.3,289.8 485.5,270.4 485.7,269.9 486.0,269.8 486.2,262.9 486.4,268.0 486.6,287.3 486.9,269.5 487.1,286.2 487.3,262.8 487.5,268.3 487.7,280.2 488.0,273.5 488.2,280.5 488.4,279.8 488.6,274.4 488.9,266.4 489.1,268.4 489.3,274.1 489.5,255.7 489.8,262.3 490.0,265.9 490.2,257.6 490.4,253.9 490.6,252.6 490.9,264.1 491.1,264.6 491.3,249.9 491.5,263.0 491.8,272.5 492.0,257.3 492.2,283.6 492.4,264.4 492.6,273.0 492.9,262.8 493.1,266.1 493.3,273.1 493.5,269.7 493.8,271.3 494.0,287.9 494.2,275.8 494.4,267.9 494.6,245.1 494.9,279.9 495.1,275.3 495.3,275.4 495.5,260.4 495.8,260.6 496.0,279.0 496.2,274.9 496.4,281.4 496.6,266.9 496.9,292.1 497.1,286.9 497.3,274.1 497.5,274.1 497.8,291.1 498.0,265.5 498.2,269.9 498.4,282.4 498.7,287.2 498.9,298.5 499.1,281.3 499.3,289.3 499.5,277.9 499.8,283.4 500.0,288.7 500.2,281.8 500.4,296.7 500.7,300.0 500.9,271.3 501.1,284.2 501.3,280.7 501.5,280.0 501.8,269.2 502.0,296.6 502.2,300.8 502.4,279.6 502.7,271.6 502.9,301.6 503.1,287.6 503.3,274.2 503.5,293.2 503.8,274.9 504.0,266.2 504.2,287.4 504.4,281.0 504.7,269.5 504.9,290.1 505.1,295.1 505.3,272.9 505.5,282.9 505.8,292.0 506.0,282.9 506.2,258.2 506.4,274.0 506.7,272.0 506.9,273.6 507.1,272.4 507.3,284.8 507.5,303.7 507.8,274.8 508.0,285.3 508.2,291.3 508.4,292.3 508.7,267.9 508.9,287.5 509.1,290.3 509.3,287.2 509.6,295.5 509.8,282.0 510.0,283.6 510.2,283.4 510.4,280.6 510.7,280.1 510.9,282.5 511.1,296.5 511.3,283.9 511.6,288.2 511.8,271.8 512.0,290.1 512.2,277.5 512.4,286.1 512.7,292.2 512.9,281.0 513.1,290.1 513.3,293.1 513.6,280.0 513.8,289.6 514.0,283.1 514.2,291.3 514.4,302.7 514.7,291.7 514.9,303.6 515.1,293.1 515.3,284.4 515.6,279.8 515.8,304.0 516.0,290.0 516.2,292.4 516.4,277.5 516.7,279.8 516.9,274.9 517.1,300.3 517.3,293.9 517.6,291.7 517.8,300.1 518.0,300.7 518.2,298.4 518.4,298.9 518.7,301.2 518.9,303.6 519.1,298.5 519.3,287.4 519.6,294.5 519.8,306.6 520.0,300.8 520.2,278.6 520.5,295.5 520.7,299.9 520.9,296.5 521.1,300.0 521.3,302.6 521.6,289.8 521.8,298.9 522.0,280.8 522.2,303.2 522.5,291.2 522.7,282.5 522.9,301.1 523.1,299.8 523.3,287.6 523.6,276.3 523.8,297.1 524.0,305.1 524.2,292.0 524.5,293.8 524.7,284.9 524.9,281.8 525.1,282.5 525.3,285.1 525.6,292.6 525.8,284.3 526.0,288.9 526.2,291.0 526.5,281.5 526.7,295.5 526.9,299.5 527.1,276.8 527.3,297.9 527.6,290.7 527.8,299.6 528.0,304.3 528.2,295.6 528.5,311.6 528.7,303.1 528.9,279.9 529.1,311.6 529.3,295.7 529.6,304.1 529.8,299.3 530.0,295.1 530.2,308.8 530.5,315.8 530.7,270.3 530.9,304.2 531.1,304.4 531.4,303.4 531.6,292.4 531.8,311.6 532.0,307.6 532.2,292.1 532.5,305.4 532.7,313.3 532.9,302.3 533.1,293.3 533.4,293.8 533.6,304.7 533.8,296.4 534.0,312.2 534.2,307.9 534.5,292.9 534.7,279.3 534.9,300.0 535.1,309.3 535.4,287.6 535.6,306.8 535.8,293.4 536.0,295.0 536.2,306.3 536.5,309.3 536.7,299.6 536.9,284.1 537.1,288.0 537.4,289.6 537.6,295.9 537.8,289.2 538.0,287.9 538.2,298.7 538.5,275.7 538.7,310.1 538.9,299.8 539.1,285.2 539.4,276.1 539.6,300.2 539.8,278.3 540.0,295.7 540.3,266.9 540.5,291.6 540.7,278.5 540.9,304.3 541.1,295.7 541.4,299.0 541.6,290.2 541.8,277.0 542.0,292.2 542.3,299.5 542.5,283.6 542.7,314.1 542.9,299.6 543.1,287.7 543.4,287.0 543.6,291.2 543.8,295.3 544.0,306.9 544.3,281.2 544.5,308.0 544.7,287.3 544.9,304.1 545.1,291.0 545.4,280.2 545.6,287.2 545.8,280.5 546.0,286.7 546.3,281.7 546.5,283.0 546.7,262.8 546.9,277.2 547.1,285.6 547.4,256.4 547.6,291.4 547.8,298.9 548.0,295.6 548.3,268.5 548.5,275.7 548.7,304.5 548.9,290.1 549.1,277.6 549.4,276.2 549.6,268.9 549.8,291.2 550.0,295.7 550.3,278.3 550.5,284.0 550.7,288.2 550.9,283.8 551.2,287.4 551.4,303.0 551.6,286.6 551.8,286.4 552.0,292.0 552.3,280.8 552.5,274.7 552.7,282.6 552.9,308.9 553.2,280.7 553.4,278.1 553.6,274.0 553.8,285.2 554.0,270.4 554.3,288.8 554.5,299.6 554.7,283.9 554.9,299.6 555.2,293.9 555.4,293.9 555.6,293.6 555.8,274.3 556.0,308.2 556.3,295.5 556.5,310.6 556.7,288.9 556.9,275.3 557.2,259.3 557.4,287.4 557.6,307.2 557.8,297.9 558.0,310.3 558.3,300.4 558.5,280.4 558.7,298.9 558.9,296.6 559.2,291.2 559.4,299.3 559.6,281.8 559.8,293.7 560.0,305.1 560.3,303.8 560.5,304.8 560.7,303.6 560.9,295.8 561.2,280.1 561.4,279.2 561.6,297.6 561.8,287.9 562.1,280.3 562.3,306.4 562.5,303.4 562.7,303.9 562.9,307.1 563.2,301.8 563.4,299.7 563.6,277.5 563.8,297.9 564.1,291.6 564.3,288.7 564.5,306.6 564.7,282.9 564.9,303.7 565.2,298.4 565.4,283.3 565.6,272.7 565.8,291.8 566.1,296.5 566.3,289.0 566.5,293.7 566.7,288.6 566.9,265.6 567.2,280.3 567.4,280.2 567.6,264.4 567.8,304.4 568.1,280.1 568.3,304.8 568.5,284.8 568.7,288.1 568.9,301.7 569.2,299.1 569.4,292.1 569.6,297.7 569.8,284.1 570.1,306.2 570.3,286.9 570.5,278.1 570.7,292.5 571.0,275.5 571.2,277.7 571.4,299.1 571.6,304.2 571.8,297.4 572.1,306.8 572.3,288.2 572.5,296.0 572.7,310.2 573.0,308.7 573.2,292.3 573.4,302.6 573.6,312.1 573.8,314.7 574.1,291.5 574.3,296.0 574.5,299.5 574.7,306.7 575.0,267.1 575.2,304.4 575.4,303.3 575.6,285.5 575.8,310.5 576.1,296.7 576.3,287.0 576.5,308.2 576.7,269.2 577.0,301.7 577.2,299.5 577.4,279.0 577.6,297.7 577.8,299.8 578.1,313.5 578.3,308.4 578.5,303.9 578.7,296.0 579.0,297.9 579.2,292.5 579.4,290.0 579.6,309.0 579.8,286.2 580.1,301.8 580.3,301.8 580.5,284.0 580.7,294.4 581.0,298.3 581.2,298.2 581.4,286.3 581.6,295.6 581.9,288.7 582.1,311.7 582.3,287.7 582.5,294.5 582.7,300.3 583.0,299.3 583.2,293.0 583.4,300.3 583.6,301.1 583.9,290.5 584.1,289.3 584.3,292.5 584.5,291.5 584.7,284.5 585.0,270.2 585.2,304.7 585.4,279.2 585.6,282.6 585.9,272.9 586.1,290.3 586.3,282.0 586.5,285.3 586.7,280.6 587.0,294.3 587.2,279.1 587.4,279.6 587.6,274.6 587.9,278.1 588.1,285.9 588.3,269.7 588.5,295.0 588.7,288.1 589.0,301.9 589.2,304.7 589.4,282.5 589.6,276.8 589.9,274.2 590.1,276.5 590.3,271.8 590.5,283.3 590.7,279.1 591.0,278.3 591.2,273.5 591.4,291.8 591.6,279.7 591.9,283.1 592.1,293.3 592.3,270.6 592.5,275.6 592.8,294.8 593.0,289.3 593.2,284.5 593.4,291.0 593.6,288.9 593.9,296.7 594.1,289.3 594.3,282.4 594.5,286.3 594.8,288.8 595.0,273.3 595.2,287.1 595.4,291.0 595.6,295.1 595.9,283.2 596.1,275.8 596.3,294.8 596.5,286.2 596.8,276.0 597.0,285.6 597.2,279.0 597.4,278.9 597.6,281.3 597.9,294.1 598.1,272.1 598.3,280.2 598.5,283.8 598.8,288.5 599.0,292.5 599.2,287.1 599.4,285.9 599.6,289.7 599.9,291.0 600.1,284.7 600.3,296.6 600.5,277.4 600.8,294.3 601.0,281.4 601.2,292.5 601.4,287.4 601.6,288.2 601.9,287.1 602.1,284.0 602.3,295.3 602.5,273.9 602.8,288.1 603.0,283.6 603.2,279.3 603.4,284.8 603.7,284.3 603.9,298.2 604.1,288.3 604.3,278.3 604.5,292.3 604.8,285.6 605.0,279.5 605.2,283.8 605.4,277.8 605.7,284.9 605.9,290.7 606.1,279.4 606.3,286.2 606.5,274.6 606.8,273.8 607.0,284.6 607.2,288.1 607.4,267.3 607.7,290.2 607.9,274.5 608.1,270.9 608.3,285.6 608.5,288.7 608.8,275.2 609.0,285.3 609.2,288.8 609.4,284.4 609.7,270.5 609.9,282.3 610.1,279.6 610.3,285.9 610.5,291.6 610.8,281.9 611.0,288.9 611.2,287.2 611.4,281.0 611.7,289.7 611.9,283.6 612.1,283.3 612.3,293.3 612.6,284.7 612.8,285.3 613.0,288.1 613.2,282.2 613.4,266.3 613.7,276.7 613.9,285.4 614.1,276.8 614.3,277.6 614.6,277.1 614.8,266.8 615.0,286.5 615.2,269.7 615.4,278.8 615.7,272.0 615.9,273.5 616.1,268.7 616.3,272.1 616.6,275.3 616.8,270.5 617.0,269.2 617.2,271.2 617.4,276.7 617.7,279.6 617.9,280.5 618.1,268.5 618.3,274.9 618.6,287.1 618.8,281.7 619.0,268.6 619.2,270.4 619.4,288.6 619.7,282.9 619.9,274.4 620.1,277.9 620.3,273.1 620.6,274.3 620.8,292.7 621.0,272.8 621.2,282.4 621.4,289.2 621.7,270.9 621.9,271.2 622.1,255.3 622.3,288.5 622.6,290.8 622.8,278.3 623.0,275.0 623.2,285.2 623.5,276.4 623.7,289.3 623.9,275.7 624.1,286.8 624.3,281.5 624.6,287.7 624.8,278.6 625.0,278.7 625.2,284.4 625.5,287.4 625.7,282.5 625.9,285.5 626.1,275.9 626.3,286.1 626.6,288.5 626.8,289.8 627.0,281.8 627.2,295.1 627.5,275.9 627.7,277.6 627.9,287.7"/>
<line x1="396.00" y1="209.60" x2="396.00" y2="370.80" stroke="#8c8c8c" stroke-width="1.6"/>
<line x1="391.10" y1="370.30" x2="650.70" y2="370.30" stroke="#666" stroke-width="1.1"/>
<line x1="391.40" y1="370.30" x2="396.00" y2="370.30" stroke="#444" stroke-width="1"/>
<line x1="393.70" y1="361.18" x2="396.00" y2="361.18" stroke="#444" stroke-width="1"/>
<line x1="391.40" y1="352.05" x2="396.00" y2="352.05" stroke="#444" stroke-width="1"/>
<line x1="393.70" y1="342.93" x2="396.00" y2="342.93" stroke="#444" stroke-width="1"/>
<line x1="391.40" y1="333.80" x2="396.00" y2="333.80" stroke="#444" stroke-width="1"/>
<line x1="393.70" y1="324.68" x2="396.00" y2="324.68" stroke="#444" stroke-width="1"/>
<line x1="391.40" y1="315.55" x2="396.00" y2="315.55" stroke="#444" stroke-width="1"/>
<line x1="393.70" y1="306.43" x2="396.00" y2="306.43" stroke="#444" stroke-width="1"/>
<line x1="391.40" y1="297.30" x2="396.00" y2="297.30" stroke="#444" stroke-width="1"/>
<line x1="393.70" y1="288.18" x2="396.00" y2="288.18" stroke="#444" stroke-width="1"/>
<line x1="391.40" y1="279.05" x2="396.00" y2="279.05" stroke="#444" stroke-width="1"/>
<line x1="393.70" y1="269.93" x2="396.00" y2="269.93" stroke="#444" stroke-width="1"/>
<line x1="391.40" y1="260.80" x2="396.00" y2="260.80" stroke="#444" stroke-width="1"/>
<line x1="393.70" y1="251.68" x2="396.00" y2="251.68" stroke="#444" stroke-width="1"/>
<line x1="391.40" y1="242.55" x2="396.00" y2="242.55" stroke="#444" stroke-width="1"/>
<line x1="393.70" y1="233.43" x2="396.00" y2="233.43" stroke="#444" stroke-width="1"/>
<line x1="391.40" y1="224.30" x2="396.00" y2="224.30" stroke="#444" stroke-width="1"/>
<line x1="393.70" y1="215.18" x2="396.00" y2="215.18" stroke="#444" stroke-width="1"/>
<line x1="400.10" y1="370.30" x2="400.10" y2="373.90" stroke="#666" stroke-width="1"/>
<line x1="422.88" y1="370.30" x2="422.88" y2="372.30" stroke="#666" stroke-width="1"/>
<line x1="445.66" y1="370.30" x2="445.66" y2="373.90" stroke="#666" stroke-width="1"/>
<line x1="468.44" y1="370.30" x2="468.44" y2="372.30" stroke="#666" stroke-width="1"/>
<line x1="491.22" y1="370.30" x2="491.22" y2="373.90" stroke="#666" stroke-width="1"/>
<line x1="514.00" y1="370.30" x2="514.00" y2="372.30" stroke="#666" stroke-width="1"/>
<line x1="536.78" y1="370.30" x2="536.78" y2="373.90" stroke="#666" stroke-width="1"/>
<line x1="559.56" y1="370.30" x2="559.56" y2="372.30" stroke="#666" stroke-width="1"/>
<line x1="582.34" y1="370.30" x2="582.34" y2="373.90" stroke="#666" stroke-width="1"/>
<line x1="605.12" y1="370.30" x2="605.12" y2="372.30" stroke="#666" stroke-width="1"/>
<line x1="627.90" y1="370.30" x2="627.90" y2="373.90" stroke="#666" stroke-width="1"/>
<line x1="650.20" y1="370.30" x2="650.20" y2="372.30" stroke="#444" stroke-width="1"/>
<rect x="651.10" y="212.70" width="33.60" height="17.80" fill="#fff" stroke="#c4c4c4" stroke-width="1"/>
<line x1="655.70" y1="216.10" x2="663.70" y2="216.10" stroke="#000" stroke-width="2.6" stroke-linecap="round"/>
<line x1="655.70" y1="222.10" x2="663.70" y2="222.10" stroke="#f00" stroke-width="2.6" stroke-linecap="round"/>
<line x1="655.70" y1="227.60" x2="663.70" y2="227.60" stroke="#00f" stroke-width="2.6" stroke-linecap="round"/>
<g style="filter:grayscale(1)" stroke="#141414" stroke-width="0.22">
<text x="27.20" y="180.65" font-size="9.08" fill="#141414" text-anchor="end" font-family='"Liberation Sans", sans-serif' font-weight="normal" textLength="8.3" lengthAdjust="spacingAndGlyphs" >0.0</text>
<text x="27.20" y="162.30" font-size="9.08" fill="#141414" text-anchor="end" font-family='"Liberation Sans", sans-serif' font-weight="normal" textLength="8.3" lengthAdjust="spacingAndGlyphs" >0.5</text>
<text x="27.20" y="143.95" font-size="9.08" fill="#141414" text-anchor="end" font-family='"Liberation Sans", sans-serif' font-weight="normal" textLength="8.3" lengthAdjust="spacingAndGlyphs" >1.0</text>
<text x="27.20" y="125.60" font-size="9.08" fill="#141414" text-anchor="end" font-family='"Liberation Sans", sans-serif' font-weight="normal" textLength="8.3" lengthAdjust="spacingAndGlyphs" >1.5</text>
<text x="27.20" y="107.25" font-size="9.08" fill="#141414" text-anchor="end" font-family='"Liberation Sans", sans-serif' font-weight="normal" textLength="8.3" lengthAdjust="spacingAndGlyphs" >2.0</text>
<text x="27.20" y="88.90" font-size="9.08" fill="#141414" text-anchor="end" font-family='"Liberation Sans", sans-serif' font-weight="normal" textLength="8.3" lengthAdjust="spacingAndGlyphs" >2.5</text>
<text x="27.20" y="70.55" font-size="9.08" fill="#141414" text-anchor="end" font-family='"Liberation Sans", sans-serif' font-weight="normal" textLength="8.3" lengthAdjust="spacingAndGlyphs" >3.0</text>
<text x="27.20" y="52.20" font-size="9.08" fill="#141414" text-anchor="end" font-family='"Liberation Sans", sans-serif' font-weight="normal" textLength="8.3" lengthAdjust="spacingAndGlyphs" >3.5</text>
<text x="27.20" y="33.85" font-size="9.08" fill="#141414" text-anchor="end" font-family='"Liberation Sans", sans-serif' font-weight="normal" textLength="8.3" lengthAdjust="spacingAndGlyphs" >4.0</text>
<text x="38.10" y="190.50" font-size="8.10" fill="#141414" text-anchor="middle" font-family='"Liberation Sans", sans-serif' font-weight="normal" textLength="3.6" lengthAdjust="spacingAndGlyphs" >0</text>
<text x="90.96" y="190.50" font-size="8.10" fill="#141414" text-anchor="middle" font-family='"Liberation Sans", sans-serif' font-weight="normal" textLength="7.2" lengthAdjust="spacingAndGlyphs" >20</text>
<text x="143.82" y="190.50" font-size="8.10" fill="#141414" text-anchor="middle" font-family='"Liberation Sans", sans-serif' font-weight="normal" textLength="7.2" lengthAdjust="spacingAndGlyphs" >40</text>
<text x="196.68" y="190.50" font-size="8.10" fill="#141414" text-anchor="middle" font-family='"Liberation Sans", sans-serif' font-weight="normal" textLength="7.2" lengthAdjust="spacingAndGlyphs" >60</text>
<text x="249.54" y="190.50" font-size="8.10" fill="#141414" text-anchor="middle" font-family='"Liberation Sans", sans-serif' font-weight="normal" textLength="7.2" lengthAdjust="spacingAndGlyphs" >80</text>
<text x="302.40" y="190.50" font-size="8.10" fill="#141414" text-anchor="middle" font-family='"Liberation Sans", sans-serif' font-weight="normal" textLength="10.7" lengthAdjust="spacingAndGlyphs" >100</text>
<text x="153.60" y="195.20" font-size="9.47" fill="#141414" text-anchor="start" font-family='"Liberation Sans", sans-serif' font-weight="normal" textLength="34.9" lengthAdjust="spacingAndGlyphs" >Time (NS)</text>
<text transform="translate(13.30,118.20) rotate(-90)" font-size="7.00" fill="#141414" font-family='"Liberation Sans", sans-serif' textLength="44.8" lengthAdjust="spacingAndGlyphs">RMSD (&#197;)</text>
<text x="278.15" y="5.60" font-size="6.90" fill="#1e1e1e" text-anchor="start" font-family='"Liberation Serif", serif' font-weight="bold" textLength="24.8" lengthAdjust="spacingAndGlyphs" >WT-Apo</text>
<text x="278.15" y="13.60" font-size="6.90" fill="#1e1e1e" text-anchor="start" font-family='"Liberation Serif", serif' font-weight="bold" textLength="33.1" lengthAdjust="spacingAndGlyphs" >A344P-Apo</text>
<text x="278.15" y="21.30" font-size="6.90" fill="#1e1e1e" text-anchor="start" font-family='"Liberation Serif", serif' font-weight="bold" textLength="31.3" lengthAdjust="spacingAndGlyphs" >I351F-Apo</text>
<text x="375.20" y="180.15" font-size="7.96" fill="#141414" text-anchor="end" font-family='"Liberation Sans", sans-serif' font-weight="normal" textLength="8.9" lengthAdjust="spacingAndGlyphs" >0.0</text>
<text x="375.20" y="161.80" font-size="7.96" fill="#141414" text-anchor="end" font-family='"Liberation Sans", sans-serif' font-weight="normal" textLength="8.9" lengthAdjust="spacingAndGlyphs" >0.5</text>
<text x="375.20" y="143.45" font-size="7.96" fill="#141414" text-anchor="end" font-family='"Liberation Sans", sans-serif' font-weight="normal" textLength="8.9" lengthAdjust="spacingAndGlyphs" >1.0</text>
<text x="375.20" y="125.10" font-size="7.96" fill="#141414" text-anchor="end" font-family='"Liberation Sans", sans-serif' font-weight="normal" textLength="8.9" lengthAdjust="spacingAndGlyphs" >1.5</text>
<text x="375.20" y="106.75" font-size="7.96" fill="#141414" text-anchor="end" font-family='"Liberation Sans", sans-serif' font-weight="normal" textLength="8.9" lengthAdjust="spacingAndGlyphs" >2.0</text>
<text x="375.20" y="88.40" font-size="7.96" fill="#141414" text-anchor="end" font-family='"Liberation Sans", sans-serif' font-weight="normal" textLength="8.9" lengthAdjust="spacingAndGlyphs" >2.5</text>
<text x="375.20" y="70.05" font-size="7.96" fill="#141414" text-anchor="end" font-family='"Liberation Sans", sans-serif' font-weight="normal" textLength="8.9" lengthAdjust="spacingAndGlyphs" >3.0</text>
<text x="375.20" y="51.70" font-size="7.96" fill="#141414" text-anchor="end" font-family='"Liberation Sans", sans-serif' font-weight="normal" textLength="8.9" lengthAdjust="spacingAndGlyphs" >3.5</text>
<text x="375.20" y="33.35" font-size="7.96" fill="#141414" text-anchor="end" font-family='"Liberation Sans", sans-serif' font-weight="normal" textLength="8.9" lengthAdjust="spacingAndGlyphs" >4.0</text>
<text x="385.40" y="191.60" font-size="8.52" fill="#141414" text-anchor="middle" font-family='"Liberation Sans", sans-serif' font-weight="normal" textLength="3.5" lengthAdjust="spacingAndGlyphs" >0</text>
<text x="436.76" y="191.60" font-size="8.52" fill="#141414" text-anchor="middle" font-family='"Liberation Sans", sans-serif' font-weight="normal" textLength="7.0" lengthAdjust="spacingAndGlyphs" >20</text>
<text x="488.12" y="191.60" font-size="8.52" fill="#141414" text-anchor="middle" font-family='"Liberation Sans", sans-serif' font-weight="normal" textLength="7.0" lengthAdjust="spacingAndGlyphs" >40</text>
<text x="539.48" y="191.60" font-size="8.52" fill="#141414" text-anchor="middle" font-family='"Liberation Sans", sans-serif' font-weight="normal" textLength="7.0" lengthAdjust="spacingAndGlyphs" >60</text>
<text x="590.84" y="191.60" font-size="8.52" fill="#141414" text-anchor="middle" font-family='"Liberation Sans", sans-serif' font-weight="normal" textLength="7.0" lengthAdjust="spacingAndGlyphs" >80</text>
<text x="642.20" y="191.60" font-size="8.52" fill="#141414" text-anchor="middle" font-family='"Liberation Sans", sans-serif' font-weight="normal" textLength="10.4" lengthAdjust="spacingAndGlyphs" >100</text>
<text x="497.60" y="196.40" font-size="9.60" fill="#141414" text-anchor="start" font-family='"Liberation Sans", sans-serif' font-weight="normal" textLength="34.0" lengthAdjust="spacingAndGlyphs" >Time (NS)</text>
<text transform="translate(361.50,119.50) rotate(-90)" font-size="7.68" fill="#141414" font-family='"Liberation Sans", sans-serif' textLength="45.7" lengthAdjust="spacingAndGlyphs">RMSD (&#197;)</text>
<text x="611.55" y="7.10" font-size="6.90" fill="#1e1e1e" text-anchor="start" font-family='"Liberation Serif", serif' font-weight="bold" textLength="24.8" lengthAdjust="spacingAndGlyphs" >WT-Apo</text>
<text x="611.55" y="15.10" font-size="6.90" fill="#1e1e1e" text-anchor="start" font-family='"Liberation Serif", serif' font-weight="bold" textLength="33.8" lengthAdjust="spacingAndGlyphs" >D342N-Apo</text>
<text x="611.55" y="22.70" font-size="6.90" fill="#1e1e1e" text-anchor="start" font-family='"Liberation Serif", serif' font-weight="bold" textLength="29.2" lengthAdjust="spacingAndGlyphs" >D343-Apo</text>
<text x="36.40" y="372.35" font-size="8.52" fill="#141414" text-anchor="end" font-family='"Liberation Sans", sans-serif' font-weight="normal" textLength="10.5" lengthAdjust="spacingAndGlyphs" >0.0</text>
<text x="36.40" y="354.98" font-size="8.52" fill="#141414" text-anchor="end" font-family='"Liberation Sans", sans-serif' font-weight="normal" textLength="10.5" lengthAdjust="spacingAndGlyphs" >0.5</text>
<text x="36.40" y="337.60" font-size="8.52" fill="#141414" text-anchor="end" font-family='"Liberation Sans", sans-serif' font-weight="normal" textLength="10.5" lengthAdjust="spacingAndGlyphs" >1.0</text>
<text x="36.40" y="320.23" font-size="8.52" fill="#141414" text-anchor="end" font-family='"Liberation Sans", sans-serif' font-weight="normal" textLength="10.5" lengthAdjust="spacingAndGlyphs" >1.5</text>
<text x="36.40" y="302.85" font-size="8.52" fill="#141414" text-anchor="end" font-family='"Liberation Sans", sans-serif' font-weight="normal" textLength="10.5" lengthAdjust="spacingAndGlyphs" >2.0</text>
<text x="36.40" y="285.48" font-size="8.52" fill="#141414" text-anchor="end" font-family='"Liberation Sans", sans-serif' font-weight="normal" textLength="10.5" lengthAdjust="spacingAndGlyphs" >2.5</text>
<text x="36.40" y="268.10" font-size="8.52" fill="#141414" text-anchor="end" font-family='"Liberation Sans", sans-serif' font-weight="normal" textLength="10.5" lengthAdjust="spacingAndGlyphs" >3.0</text>
<text x="36.40" y="250.72" font-size="8.52" fill="#141414" text-anchor="end" font-family='"Liberation Sans", sans-serif' font-weight="normal" textLength="10.5" lengthAdjust="spacingAndGlyphs" >3.5</text>
<text x="36.40" y="233.35" font-size="8.52" fill="#141414" text-anchor="end" font-family='"Liberation Sans", sans-serif' font-weight="normal" textLength="10.5" lengthAdjust="spacingAndGlyphs" >4.0</text>
<text x="55.00" y="381.20" font-size="7.12" fill="#141414" text-anchor="middle" font-family='"Liberation Sans", sans-serif' font-weight="normal" textLength="3.6" lengthAdjust="spacingAndGlyphs" >0</text>
<text x="101.68" y="381.20" font-size="7.12" fill="#141414" text-anchor="middle" font-family='"Liberation Sans", sans-serif' font-weight="normal" textLength="7.2" lengthAdjust="spacingAndGlyphs" >20</text>
<text x="148.36" y="381.20" font-size="7.12" fill="#141414" text-anchor="middle" font-family='"Liberation Sans", sans-serif' font-weight="normal" textLength="7.2" lengthAdjust="spacingAndGlyphs" >40</text>
<text x="195.04" y="381.20" font-size="7.12" fill="#141414" text-anchor="middle" font-family='"Liberation Sans", sans-serif' font-weight="normal" textLength="7.2" lengthAdjust="spacingAndGlyphs" >60</text>
<text x="241.72" y="381.20" font-size="7.12" fill="#141414" text-anchor="middle" font-family='"Liberation Sans", sans-serif' font-weight="normal" textLength="7.2" lengthAdjust="spacingAndGlyphs" >80</text>
<text x="288.40" y="381.20" font-size="7.12" fill="#141414" text-anchor="middle" font-family='"Liberation Sans", sans-serif' font-weight="normal" textLength="10.9" lengthAdjust="spacingAndGlyphs" >100</text>
<text x="153.60" y="388.40" font-size="8.37" fill="#141414" text-anchor="start" font-family='"Liberation Sans", sans-serif' font-weight="normal" textLength="35.8" lengthAdjust="spacingAndGlyphs" >Time (NS)</text>
<text transform="translate(8.80,312.50) rotate(-90)" font-size="7.13" fill="#141414" font-family='"Liberation Sans", sans-serif' textLength="42.1" lengthAdjust="spacingAndGlyphs">RMSD (&#197;)</text>
<text x="270.85" y="214.10" font-size="6.90" fill="#1e1e1e" text-anchor="start" font-family='"Liberation Serif", serif' font-weight="bold" textLength="27.2" lengthAdjust="spacingAndGlyphs" >WT-Com</text>
<text x="270.15" y="222.10" font-size="6.90" fill="#1e1e1e" text-anchor="start" font-family='"Liberation Serif", serif' font-weight="bold" textLength="35.1" lengthAdjust="spacingAndGlyphs" >A344P-Com</text>
<text x="270.15" y="229.90" font-size="6.90" fill="#1e1e1e" text-anchor="start" font-family='"Liberation Serif", serif' font-weight="bold" textLength="32.9" lengthAdjust="spacingAndGlyphs" >I351F-Com</text>
<text x="388.30" y="372.30" font-size="8.10" fill="#141414" text-anchor="end" font-family='"Liberation Sans", sans-serif' font-weight="normal" textLength="13.1" lengthAdjust="spacingAndGlyphs" >0.0</text>
<text x="388.30" y="354.05" font-size="8.10" fill="#141414" text-anchor="end" font-family='"Liberation Sans", sans-serif' font-weight="normal" textLength="13.1" lengthAdjust="spacingAndGlyphs" >0.5</text>
<text x="388.30" y="335.80" font-size="8.10" fill="#141414" text-anchor="end" font-family='"Liberation Sans", sans-serif' font-weight="normal" textLength="13.1" lengthAdjust="spacingAndGlyphs" >1.0</text>
<text x="388.30" y="317.55" font-size="8.10" fill="#141414" text-anchor="end" font-family='"Liberation Sans", sans-serif' font-weight="normal" textLength="13.1" lengthAdjust="spacingAndGlyphs" >1.5</text>
<text x="388.30" y="299.30" font-size="8.10" fill="#141414" text-anchor="end" font-family='"Liberation Sans", sans-serif' font-weight="normal" textLength="13.1" lengthAdjust="spacingAndGlyphs" >2.0</text>
<text x="388.30" y="281.05" font-size="8.10" fill="#141414" text-anchor="end" font-family='"Liberation Sans", sans-serif' font-weight="normal" textLength="13.1" lengthAdjust="spacingAndGlyphs" >2.5</text>
<text x="388.30" y="262.80" font-size="8.10" fill="#141414" text-anchor="end" font-family='"Liberation Sans", sans-serif' font-weight="normal" textLength="13.1" lengthAdjust="spacingAndGlyphs" >3.0</text>
<text x="388.30" y="244.55" font-size="8.10" fill="#141414" text-anchor="end" font-family='"Liberation Sans", sans-serif' font-weight="normal" textLength="13.1" lengthAdjust="spacingAndGlyphs" >3.5</text>
<text x="388.30" y="226.30" font-size="8.10" fill="#141414" text-anchor="end" font-family='"Liberation Sans", sans-serif' font-weight="normal" textLength="13.1" lengthAdjust="spacingAndGlyphs" >4.0</text>
<text x="400.10" y="381.40" font-size="7.40" fill="#141414" text-anchor="middle" font-family='"Liberation Sans", sans-serif' font-weight="normal" textLength="3.7" lengthAdjust="spacingAndGlyphs" >0</text>
<text x="445.66" y="381.40" font-size="7.40" fill="#141414" text-anchor="middle" font-family='"Liberation Sans", sans-serif' font-weight="normal" textLength="7.5" lengthAdjust="spacingAndGlyphs" >20</text>
<text x="491.22" y="381.40" font-size="7.40" fill="#141414" text-anchor="middle" font-family='"Liberation Sans", sans-serif' font-weight="normal" textLength="7.5" lengthAdjust="spacingAndGlyphs" >40</text>
<text x="536.78" y="381.40" font-size="7.40" fill="#141414" text-anchor="middle" font-family='"Liberation Sans", sans-serif' font-weight="normal" textLength="7.5" lengthAdjust="spacingAndGlyphs" >60</text>
<text x="582.34" y="381.40" font-size="7.40" fill="#141414" text-anchor="middle" font-family='"Liberation Sans", sans-serif' font-weight="normal" textLength="7.5" lengthAdjust="spacingAndGlyphs" >80</text>
<text x="627.90" y="381.40" font-size="7.40" fill="#141414" text-anchor="middle" font-family='"Liberation Sans", sans-serif' font-weight="normal" textLength="11.2" lengthAdjust="spacingAndGlyphs" >100</text>
<text x="496.00" y="387.90" font-size="7.68" fill="#141414" text-anchor="start" font-family='"Liberation Sans", sans-serif' font-weight="normal" textLength="36.4" lengthAdjust="spacingAndGlyphs" >Time (NS)</text>
<text transform="translate(361.00,316.50) rotate(-90)" font-size="7.41" fill="#141414" font-family='"Liberation Sans", sans-serif' textLength="41.5" lengthAdjust="spacingAndGlyphs">RMSD (&#197;)</text>
<text x="610.85" y="215.30" font-size="6.90" fill="#1e1e1e" text-anchor="start" font-family='"Liberation Serif", serif' font-weight="bold" textLength="27.2" lengthAdjust="spacingAndGlyphs" >WT-Com</text>
<text x="610.85" y="223.00" font-size="6.90" fill="#1e1e1e" text-anchor="start" font-family='"Liberation Serif", serif' font-weight="bold" textLength="36.2" lengthAdjust="spacingAndGlyphs" >D342N-Com</text>
<text x="610.85" y="230.40" font-size="6.90" fill="#1e1e1e" text-anchor="start" font-family='"Liberation Serif", serif' font-weight="bold" textLength="31.2" lengthAdjust="spacingAndGlyphs" >D343-Com</text>
</g>
</svg></body></html>
